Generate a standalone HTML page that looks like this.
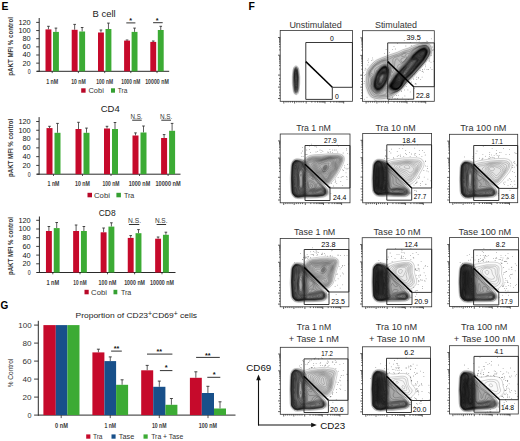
<!DOCTYPE html>
<html><head><meta charset="utf-8"><style>
html,body{margin:0;padding:0;background:#fff;width:520px;height:441px;overflow:hidden}
svg{display:block}
text{font-family:"Liberation Sans", sans-serif}
</style></head><body>
<svg width="520" height="441" viewBox="0 0 520 441">
<defs>
<filter id="bl" x="-20%" y="-20%" width="140%" height="140%"><feGaussianBlur stdDeviation="0.6"/></filter>
<filter id="bl2" x="-30%" y="-30%" width="160%" height="160%"><feGaussianBlur stdDeviation="1.2"/></filter>
</defs>
<rect width="520" height="441" fill="#fff"/>
<line x1="39.20" y1="18.00" x2="39.20" y2="71.80" stroke="#2a2a2a" stroke-width="1.0"/>
<line x1="37.00" y1="71.30" x2="169.20" y2="71.30" stroke="#2a2a2a" stroke-width="1.0"/>
<line x1="36.20" y1="71.30" x2="39.20" y2="71.30" stroke="#2a2a2a" stroke-width="0.9"/>
<text x="27.80" y="73.70" font-size="6.8" font-weight="normal" fill="#151515" textLength="2.90" lengthAdjust="spacingAndGlyphs">0</text>
<line x1="36.20" y1="63.15" x2="39.20" y2="63.15" stroke="#2a2a2a" stroke-width="0.9"/>
<text x="22.50" y="65.55" font-size="6.8" font-weight="normal" fill="#151515" textLength="8.20" lengthAdjust="spacingAndGlyphs">20</text>
<line x1="36.20" y1="55.00" x2="39.20" y2="55.00" stroke="#2a2a2a" stroke-width="0.9"/>
<text x="22.50" y="57.40" font-size="6.8" font-weight="normal" fill="#151515" textLength="8.20" lengthAdjust="spacingAndGlyphs">40</text>
<line x1="36.20" y1="46.85" x2="39.20" y2="46.85" stroke="#2a2a2a" stroke-width="0.9"/>
<text x="22.50" y="49.25" font-size="6.8" font-weight="normal" fill="#151515" textLength="8.20" lengthAdjust="spacingAndGlyphs">60</text>
<line x1="36.20" y1="38.70" x2="39.20" y2="38.70" stroke="#2a2a2a" stroke-width="0.9"/>
<text x="22.50" y="41.10" font-size="6.8" font-weight="normal" fill="#151515" textLength="8.20" lengthAdjust="spacingAndGlyphs">80</text>
<line x1="36.20" y1="30.55" x2="39.20" y2="30.55" stroke="#2a2a2a" stroke-width="0.9"/>
<text x="18.40" y="32.95" font-size="6.8" font-weight="normal" fill="#151515" textLength="12.30" lengthAdjust="spacingAndGlyphs">100</text>
<line x1="36.20" y1="22.40" x2="39.20" y2="22.40" stroke="#2a2a2a" stroke-width="0.9"/>
<text x="18.40" y="24.80" font-size="6.8" font-weight="normal" fill="#151515" textLength="12.30" lengthAdjust="spacingAndGlyphs">120</text>
<line x1="48.45" y1="26.30" x2="48.45" y2="29.40" stroke="#333" stroke-width="0.8"/>
<line x1="47.15" y1="26.30" x2="49.75" y2="26.30" stroke="#333" stroke-width="0.9"/>
<rect x="45.50" y="29.40" width="5.90" height="41.90" fill="#c60a2b"/>
<line x1="55.95" y1="28.10" x2="55.95" y2="31.90" stroke="#333" stroke-width="0.8"/>
<line x1="54.65" y1="28.10" x2="57.25" y2="28.10" stroke="#333" stroke-width="0.9"/>
<rect x="53.00" y="31.90" width="5.90" height="39.40" fill="#3cab34"/>
<line x1="52.20" y1="71.30" x2="52.20" y2="73.10" stroke="#2a2a2a" stroke-width="0.8"/>
<text x="46.15" y="83.60" font-size="7.4" font-weight="bold" fill="#3a3a3a" textLength="12.10" lengthAdjust="spacingAndGlyphs">1 nM</text>
<line x1="74.65" y1="24.40" x2="74.65" y2="29.80" stroke="#333" stroke-width="0.8"/>
<line x1="73.35" y1="24.40" x2="75.95" y2="24.40" stroke="#333" stroke-width="0.9"/>
<rect x="71.70" y="29.80" width="5.90" height="41.50" fill="#c60a2b"/>
<line x1="82.15" y1="27.50" x2="82.15" y2="31.50" stroke="#333" stroke-width="0.8"/>
<line x1="80.85" y1="27.50" x2="83.45" y2="27.50" stroke="#333" stroke-width="0.9"/>
<rect x="79.20" y="31.50" width="5.90" height="39.80" fill="#3cab34"/>
<line x1="78.40" y1="71.30" x2="78.40" y2="73.10" stroke="#2a2a2a" stroke-width="0.8"/>
<text x="71.15" y="83.60" font-size="7.4" font-weight="bold" fill="#3a3a3a" textLength="14.50" lengthAdjust="spacingAndGlyphs">10 nM</text>
<line x1="100.95" y1="30.00" x2="100.95" y2="32.50" stroke="#333" stroke-width="0.8"/>
<line x1="99.65" y1="30.00" x2="102.25" y2="30.00" stroke="#333" stroke-width="0.9"/>
<rect x="98.00" y="32.50" width="5.90" height="38.80" fill="#c60a2b"/>
<line x1="108.45" y1="23.10" x2="108.45" y2="29.00" stroke="#333" stroke-width="0.8"/>
<line x1="107.15" y1="23.10" x2="109.75" y2="23.10" stroke="#333" stroke-width="0.9"/>
<rect x="105.50" y="29.00" width="5.90" height="42.30" fill="#3cab34"/>
<line x1="104.70" y1="71.30" x2="104.70" y2="73.10" stroke="#2a2a2a" stroke-width="0.8"/>
<text x="96.35" y="83.60" font-size="7.4" font-weight="bold" fill="#3a3a3a" textLength="16.70" lengthAdjust="spacingAndGlyphs">100 nM</text>
<line x1="127.05" y1="40.00" x2="127.05" y2="40.60" stroke="#333" stroke-width="0.8"/>
<line x1="125.75" y1="40.00" x2="128.35" y2="40.00" stroke="#333" stroke-width="0.9"/>
<rect x="124.10" y="40.60" width="5.90" height="30.70" fill="#c60a2b"/>
<line x1="134.55" y1="28.10" x2="134.55" y2="31.90" stroke="#333" stroke-width="0.8"/>
<line x1="133.25" y1="28.10" x2="135.85" y2="28.10" stroke="#333" stroke-width="0.9"/>
<rect x="131.60" y="31.90" width="5.90" height="39.40" fill="#3cab34"/>
<line x1="130.80" y1="71.30" x2="130.80" y2="73.10" stroke="#2a2a2a" stroke-width="0.8"/>
<text x="121.20" y="83.60" font-size="7.4" font-weight="bold" fill="#3a3a3a" textLength="19.20" lengthAdjust="spacingAndGlyphs">1000 nM</text>
<line x1="153.25" y1="41.00" x2="153.25" y2="41.90" stroke="#333" stroke-width="0.8"/>
<line x1="151.95" y1="41.00" x2="154.55" y2="41.00" stroke="#333" stroke-width="0.9"/>
<rect x="150.30" y="41.90" width="5.90" height="29.40" fill="#c60a2b"/>
<line x1="160.75" y1="26.30" x2="160.75" y2="30.00" stroke="#333" stroke-width="0.8"/>
<line x1="159.45" y1="26.30" x2="162.05" y2="26.30" stroke="#333" stroke-width="0.9"/>
<rect x="157.80" y="30.00" width="5.90" height="41.30" fill="#3cab34"/>
<line x1="157.00" y1="71.30" x2="157.00" y2="73.10" stroke="#2a2a2a" stroke-width="0.8"/>
<text x="145.20" y="83.60" font-size="7.4" font-weight="bold" fill="#3a3a3a" textLength="23.60" lengthAdjust="spacingAndGlyphs">10000 nM</text>
<text x="92.60" y="16.60" font-size="8.6" font-weight="normal" fill="#1a1a1a" textLength="23.00" lengthAdjust="spacingAndGlyphs">B cell</text>
<text x="129.20" y="23.30" font-size="8.0" font-weight="bold" fill="#111" textLength="2.80" lengthAdjust="spacingAndGlyphs">*</text>
<line x1="126.30" y1="22.90" x2="135.40" y2="22.90" stroke="#333" stroke-width="1.0"/>
<text x="155.70" y="23.40" font-size="8.0" font-weight="bold" fill="#111" textLength="2.80" lengthAdjust="spacingAndGlyphs">*</text>
<line x1="153.10" y1="22.70" x2="162.70" y2="22.70" stroke="#333" stroke-width="1.0"/>
<rect x="81.20" y="88.30" width="4.40" height="4.40" fill="#b80828"/>
<rect x="111.00" y="88.30" width="4.00" height="4.40" fill="#35a032"/>
<text x="88.50" y="93.00" font-size="7.0" font-weight="normal" fill="#333" textLength="15.30" lengthAdjust="spacingAndGlyphs">Cobi</text>
<text x="117.70" y="93.00" font-size="7.0" font-weight="normal" fill="#333" textLength="9.60" lengthAdjust="spacingAndGlyphs">Tra</text>
<text transform="translate(12.50,75.80) rotate(-90)" x="0" y="0" font-size="6.4" font-weight="bold" fill="#333" textLength="58.70" lengthAdjust="spacingAndGlyphs">pAKT MFI % control</text>
<line x1="39.10" y1="117.10" x2="39.10" y2="174.70" stroke="#2a2a2a" stroke-width="1.0"/>
<line x1="37.00" y1="174.20" x2="180.50" y2="174.20" stroke="#2a2a2a" stroke-width="1.0"/>
<line x1="36.20" y1="174.20" x2="39.10" y2="174.20" stroke="#2a2a2a" stroke-width="0.9"/>
<text x="27.80" y="176.60" font-size="6.8" font-weight="normal" fill="#151515" textLength="2.90" lengthAdjust="spacingAndGlyphs">0</text>
<line x1="36.20" y1="165.42" x2="39.10" y2="165.42" stroke="#2a2a2a" stroke-width="0.9"/>
<text x="22.50" y="167.82" font-size="6.8" font-weight="normal" fill="#151515" textLength="8.20" lengthAdjust="spacingAndGlyphs">20</text>
<line x1="36.20" y1="156.63" x2="39.10" y2="156.63" stroke="#2a2a2a" stroke-width="0.9"/>
<text x="22.50" y="159.03" font-size="6.8" font-weight="normal" fill="#151515" textLength="8.20" lengthAdjust="spacingAndGlyphs">40</text>
<line x1="36.20" y1="147.85" x2="39.10" y2="147.85" stroke="#2a2a2a" stroke-width="0.9"/>
<text x="22.50" y="150.25" font-size="6.8" font-weight="normal" fill="#151515" textLength="8.20" lengthAdjust="spacingAndGlyphs">60</text>
<line x1="36.20" y1="139.07" x2="39.10" y2="139.07" stroke="#2a2a2a" stroke-width="0.9"/>
<text x="22.50" y="141.47" font-size="6.8" font-weight="normal" fill="#151515" textLength="8.20" lengthAdjust="spacingAndGlyphs">80</text>
<line x1="36.20" y1="130.28" x2="39.10" y2="130.28" stroke="#2a2a2a" stroke-width="0.9"/>
<text x="18.40" y="132.68" font-size="6.8" font-weight="normal" fill="#151515" textLength="12.30" lengthAdjust="spacingAndGlyphs">100</text>
<line x1="36.20" y1="121.50" x2="39.10" y2="121.50" stroke="#2a2a2a" stroke-width="0.9"/>
<text x="18.40" y="123.90" font-size="6.8" font-weight="normal" fill="#151515" textLength="12.30" lengthAdjust="spacingAndGlyphs">120</text>
<line x1="49.50" y1="126.30" x2="49.50" y2="128.10" stroke="#333" stroke-width="0.8"/>
<line x1="48.20" y1="126.30" x2="50.80" y2="126.30" stroke="#333" stroke-width="0.9"/>
<rect x="46.50" y="128.10" width="6.00" height="46.10" fill="#c60a2b"/>
<line x1="57.50" y1="123.40" x2="57.50" y2="132.80" stroke="#333" stroke-width="0.8"/>
<line x1="56.20" y1="123.40" x2="58.80" y2="123.40" stroke="#333" stroke-width="0.9"/>
<rect x="54.50" y="132.80" width="6.00" height="41.40" fill="#3cab34"/>
<line x1="53.50" y1="174.20" x2="53.50" y2="176.00" stroke="#2a2a2a" stroke-width="0.8"/>
<text x="47.55" y="186.30" font-size="7.4" font-weight="bold" fill="#3a3a3a" textLength="11.90" lengthAdjust="spacingAndGlyphs">1 nM</text>
<line x1="78.50" y1="122.30" x2="78.50" y2="129.00" stroke="#333" stroke-width="0.8"/>
<line x1="77.20" y1="122.30" x2="79.80" y2="122.30" stroke="#333" stroke-width="0.9"/>
<rect x="75.50" y="129.00" width="6.00" height="45.20" fill="#c60a2b"/>
<line x1="86.50" y1="128.10" x2="86.50" y2="132.80" stroke="#333" stroke-width="0.8"/>
<line x1="85.20" y1="128.10" x2="87.80" y2="128.10" stroke="#333" stroke-width="0.9"/>
<rect x="83.50" y="132.80" width="6.00" height="41.40" fill="#3cab34"/>
<line x1="82.50" y1="174.20" x2="82.50" y2="176.00" stroke="#2a2a2a" stroke-width="0.8"/>
<text x="75.05" y="186.30" font-size="7.4" font-weight="bold" fill="#3a3a3a" textLength="14.90" lengthAdjust="spacingAndGlyphs">10 nM</text>
<line x1="107.00" y1="126.30" x2="107.00" y2="128.50" stroke="#333" stroke-width="0.8"/>
<line x1="105.70" y1="126.30" x2="108.30" y2="126.30" stroke="#333" stroke-width="0.9"/>
<rect x="104.00" y="128.50" width="6.00" height="45.70" fill="#c60a2b"/>
<line x1="115.00" y1="122.50" x2="115.00" y2="129.00" stroke="#333" stroke-width="0.8"/>
<line x1="113.70" y1="122.50" x2="116.30" y2="122.50" stroke="#333" stroke-width="0.9"/>
<rect x="112.00" y="129.00" width="6.00" height="45.20" fill="#3cab34"/>
<line x1="111.00" y1="174.20" x2="111.00" y2="176.00" stroke="#2a2a2a" stroke-width="0.8"/>
<text x="102.50" y="186.30" font-size="7.4" font-weight="bold" fill="#3a3a3a" textLength="17.00" lengthAdjust="spacingAndGlyphs">100 nM</text>
<line x1="135.50" y1="132.90" x2="135.50" y2="135.50" stroke="#333" stroke-width="0.8"/>
<line x1="134.20" y1="132.90" x2="136.80" y2="132.90" stroke="#333" stroke-width="0.9"/>
<rect x="132.50" y="135.50" width="6.00" height="38.70" fill="#c60a2b"/>
<line x1="143.50" y1="126.00" x2="143.50" y2="132.50" stroke="#333" stroke-width="0.8"/>
<line x1="142.20" y1="126.00" x2="144.80" y2="126.00" stroke="#333" stroke-width="0.9"/>
<rect x="140.50" y="132.50" width="6.00" height="41.70" fill="#3cab34"/>
<line x1="139.50" y1="174.20" x2="139.50" y2="176.00" stroke="#2a2a2a" stroke-width="0.8"/>
<text x="128.80" y="186.30" font-size="7.4" font-weight="bold" fill="#3a3a3a" textLength="21.40" lengthAdjust="spacingAndGlyphs">1000 nM</text>
<line x1="164.10" y1="134.60" x2="164.10" y2="138.00" stroke="#333" stroke-width="0.8"/>
<line x1="162.80" y1="134.60" x2="165.40" y2="134.60" stroke="#333" stroke-width="0.9"/>
<rect x="161.10" y="138.00" width="6.00" height="36.20" fill="#c60a2b"/>
<line x1="172.10" y1="123.40" x2="172.10" y2="130.80" stroke="#333" stroke-width="0.8"/>
<line x1="170.80" y1="123.40" x2="173.40" y2="123.40" stroke="#333" stroke-width="0.9"/>
<rect x="169.10" y="130.80" width="6.00" height="43.40" fill="#3cab34"/>
<line x1="168.10" y1="174.20" x2="168.10" y2="176.00" stroke="#2a2a2a" stroke-width="0.8"/>
<text x="155.45" y="186.30" font-size="7.4" font-weight="bold" fill="#3a3a3a" textLength="25.30" lengthAdjust="spacingAndGlyphs">10000 nM</text>
<text x="100.70" y="112.10" font-size="8.6" font-weight="normal" fill="#1a1a1a" textLength="19.00" lengthAdjust="spacingAndGlyphs">CD4</text>
<text x="130.50" y="118.70" font-size="6.6" font-weight="normal" fill="#333" textLength="12.10" lengthAdjust="spacingAndGlyphs">N.S.</text>
<line x1="132.20" y1="120.20" x2="141.70" y2="120.20" stroke="#333" stroke-width="1.0"/>
<text x="159.90" y="118.70" font-size="6.6" font-weight="normal" fill="#333" textLength="12.40" lengthAdjust="spacingAndGlyphs">N.S.</text>
<line x1="161.30" y1="120.20" x2="171.00" y2="120.20" stroke="#333" stroke-width="1.0"/>
<rect x="87.50" y="192.80" width="4.50" height="4.50" fill="#b80828"/>
<rect x="116.40" y="192.80" width="4.50" height="4.50" fill="#35a032"/>
<text x="94.00" y="197.60" font-size="7.0" font-weight="normal" fill="#333" textLength="15.90" lengthAdjust="spacingAndGlyphs">Cobi</text>
<text x="123.90" y="197.60" font-size="7.0" font-weight="normal" fill="#333" textLength="10.40" lengthAdjust="spacingAndGlyphs">Tra</text>
<text transform="translate(13.00,177.00) rotate(-90)" x="0" y="0" font-size="6.4" font-weight="bold" fill="#333" textLength="58.30" lengthAdjust="spacingAndGlyphs">pAKT MFI % control</text>
<line x1="39.40" y1="216.50" x2="39.40" y2="273.00" stroke="#2a2a2a" stroke-width="1.0"/>
<line x1="37.00" y1="272.50" x2="175.50" y2="272.50" stroke="#2a2a2a" stroke-width="1.0"/>
<line x1="36.20" y1="272.50" x2="39.40" y2="272.50" stroke="#2a2a2a" stroke-width="0.9"/>
<text x="27.80" y="274.90" font-size="6.8" font-weight="normal" fill="#151515" textLength="2.90" lengthAdjust="spacingAndGlyphs">0</text>
<line x1="36.20" y1="263.80" x2="39.40" y2="263.80" stroke="#2a2a2a" stroke-width="0.9"/>
<text x="22.50" y="266.20" font-size="6.8" font-weight="normal" fill="#151515" textLength="8.20" lengthAdjust="spacingAndGlyphs">20</text>
<line x1="36.20" y1="255.10" x2="39.40" y2="255.10" stroke="#2a2a2a" stroke-width="0.9"/>
<text x="22.50" y="257.50" font-size="6.8" font-weight="normal" fill="#151515" textLength="8.20" lengthAdjust="spacingAndGlyphs">40</text>
<line x1="36.20" y1="246.40" x2="39.40" y2="246.40" stroke="#2a2a2a" stroke-width="0.9"/>
<text x="22.50" y="248.80" font-size="6.8" font-weight="normal" fill="#151515" textLength="8.20" lengthAdjust="spacingAndGlyphs">60</text>
<line x1="36.20" y1="237.70" x2="39.40" y2="237.70" stroke="#2a2a2a" stroke-width="0.9"/>
<text x="22.50" y="240.10" font-size="6.8" font-weight="normal" fill="#151515" textLength="8.20" lengthAdjust="spacingAndGlyphs">80</text>
<line x1="36.20" y1="229.00" x2="39.40" y2="229.00" stroke="#2a2a2a" stroke-width="0.9"/>
<text x="18.40" y="231.40" font-size="6.8" font-weight="normal" fill="#151515" textLength="12.30" lengthAdjust="spacingAndGlyphs">100</text>
<line x1="36.20" y1="220.30" x2="39.40" y2="220.30" stroke="#2a2a2a" stroke-width="0.9"/>
<text x="18.40" y="222.70" font-size="6.8" font-weight="normal" fill="#151515" textLength="12.30" lengthAdjust="spacingAndGlyphs">120</text>
<line x1="48.90" y1="226.50" x2="48.90" y2="231.00" stroke="#333" stroke-width="0.8"/>
<line x1="47.60" y1="226.50" x2="50.20" y2="226.50" stroke="#333" stroke-width="0.9"/>
<rect x="45.95" y="231.00" width="5.90" height="41.50" fill="#c60a2b"/>
<line x1="56.70" y1="222.50" x2="56.70" y2="228.10" stroke="#333" stroke-width="0.8"/>
<line x1="55.40" y1="222.50" x2="58.00" y2="222.50" stroke="#333" stroke-width="0.9"/>
<rect x="53.75" y="228.10" width="5.90" height="44.40" fill="#3cab34"/>
<line x1="52.80" y1="272.50" x2="52.80" y2="274.30" stroke="#2a2a2a" stroke-width="0.8"/>
<text x="46.40" y="284.60" font-size="7.4" font-weight="bold" fill="#3a3a3a" textLength="12.80" lengthAdjust="spacingAndGlyphs">1 nM</text>
<line x1="76.10" y1="225.00" x2="76.10" y2="231.00" stroke="#333" stroke-width="0.8"/>
<line x1="74.80" y1="225.00" x2="77.40" y2="225.00" stroke="#333" stroke-width="0.9"/>
<rect x="73.15" y="231.00" width="5.90" height="41.50" fill="#c60a2b"/>
<line x1="83.90" y1="226.50" x2="83.90" y2="231.00" stroke="#333" stroke-width="0.8"/>
<line x1="82.60" y1="226.50" x2="85.20" y2="226.50" stroke="#333" stroke-width="0.9"/>
<rect x="80.95" y="231.00" width="5.90" height="41.50" fill="#3cab34"/>
<line x1="80.00" y1="272.50" x2="80.00" y2="274.30" stroke="#2a2a2a" stroke-width="0.8"/>
<text x="73.30" y="284.60" font-size="7.4" font-weight="bold" fill="#3a3a3a" textLength="13.40" lengthAdjust="spacingAndGlyphs">10 nM</text>
<line x1="103.60" y1="228.00" x2="103.60" y2="232.30" stroke="#333" stroke-width="0.8"/>
<line x1="102.30" y1="228.00" x2="104.90" y2="228.00" stroke="#333" stroke-width="0.9"/>
<rect x="100.65" y="232.30" width="5.90" height="40.20" fill="#c60a2b"/>
<line x1="111.40" y1="222.80" x2="111.40" y2="226.60" stroke="#333" stroke-width="0.8"/>
<line x1="110.10" y1="222.80" x2="112.70" y2="222.80" stroke="#333" stroke-width="0.9"/>
<rect x="108.45" y="226.60" width="5.90" height="45.90" fill="#3cab34"/>
<line x1="107.50" y1="272.50" x2="107.50" y2="274.30" stroke="#2a2a2a" stroke-width="0.8"/>
<text x="98.60" y="284.60" font-size="7.4" font-weight="bold" fill="#3a3a3a" textLength="17.80" lengthAdjust="spacingAndGlyphs">100 nM</text>
<line x1="130.70" y1="235.60" x2="130.70" y2="237.90" stroke="#333" stroke-width="0.8"/>
<line x1="129.40" y1="235.60" x2="132.00" y2="235.60" stroke="#333" stroke-width="0.9"/>
<rect x="127.75" y="237.90" width="5.90" height="34.60" fill="#c60a2b"/>
<line x1="138.50" y1="229.60" x2="138.50" y2="233.20" stroke="#333" stroke-width="0.8"/>
<line x1="137.20" y1="229.60" x2="139.80" y2="229.60" stroke="#333" stroke-width="0.9"/>
<rect x="135.55" y="233.20" width="5.90" height="39.30" fill="#3cab34"/>
<line x1="134.60" y1="272.50" x2="134.60" y2="274.30" stroke="#2a2a2a" stroke-width="0.8"/>
<text x="124.20" y="284.60" font-size="7.4" font-weight="bold" fill="#3a3a3a" textLength="20.80" lengthAdjust="spacingAndGlyphs">1000 nM</text>
<line x1="158.10" y1="237.00" x2="158.10" y2="238.70" stroke="#333" stroke-width="0.8"/>
<line x1="156.80" y1="237.00" x2="159.40" y2="237.00" stroke="#333" stroke-width="0.9"/>
<rect x="155.15" y="238.70" width="5.90" height="33.80" fill="#c60a2b"/>
<line x1="165.90" y1="232.20" x2="165.90" y2="234.80" stroke="#333" stroke-width="0.8"/>
<line x1="164.60" y1="232.20" x2="167.20" y2="232.20" stroke="#333" stroke-width="0.9"/>
<rect x="162.95" y="234.80" width="5.90" height="37.70" fill="#3cab34"/>
<line x1="162.00" y1="272.50" x2="162.00" y2="274.30" stroke="#2a2a2a" stroke-width="0.8"/>
<text x="150.05" y="284.60" font-size="7.4" font-weight="bold" fill="#3a3a3a" textLength="23.90" lengthAdjust="spacingAndGlyphs">10000 nM</text>
<text x="98.70" y="215.70" font-size="8.6" font-weight="normal" fill="#1a1a1a" textLength="16.90" lengthAdjust="spacingAndGlyphs">CD8</text>
<text x="128.00" y="222.80" font-size="6.6" font-weight="normal" fill="#333" textLength="13.00" lengthAdjust="spacingAndGlyphs">N.S.</text>
<line x1="128.90" y1="224.50" x2="139.30" y2="224.50" stroke="#333" stroke-width="1.0"/>
<text x="154.90" y="222.80" font-size="6.6" font-weight="normal" fill="#333" textLength="12.60" lengthAdjust="spacingAndGlyphs">N.S.</text>
<line x1="156.60" y1="224.50" x2="166.10" y2="224.50" stroke="#333" stroke-width="1.0"/>
<rect x="84.50" y="289.80" width="4.20" height="4.50" fill="#b80828"/>
<rect x="113.50" y="289.80" width="3.80" height="4.50" fill="#35a032"/>
<text x="91.10" y="294.60" font-size="7.0" font-weight="normal" fill="#333" textLength="15.80" lengthAdjust="spacingAndGlyphs">Cobi</text>
<text x="120.90" y="294.60" font-size="7.0" font-weight="normal" fill="#333" textLength="10.40" lengthAdjust="spacingAndGlyphs">Tra</text>
<text transform="translate(13.00,275.00) rotate(-90)" x="0" y="0" font-size="6.4" font-weight="bold" fill="#333" textLength="57.90" lengthAdjust="spacingAndGlyphs">pAKT MFI % control</text>
<line x1="38.30" y1="320.80" x2="38.30" y2="415.60" stroke="#2a2a2a" stroke-width="1.0"/>
<line x1="38.00" y1="415.10" x2="235.50" y2="415.10" stroke="#2a2a2a" stroke-width="1.0"/>
<line x1="34.10" y1="415.10" x2="38.30" y2="415.10" stroke="#2a2a2a" stroke-width="0.9"/>
<text x="27.60" y="417.70" font-size="7.2" font-weight="normal" fill="#333" textLength="4.00" lengthAdjust="spacingAndGlyphs">0</text>
<line x1="34.10" y1="397.10" x2="38.30" y2="397.10" stroke="#2a2a2a" stroke-width="0.9"/>
<text x="22.60" y="399.70" font-size="7.2" font-weight="normal" fill="#333" textLength="9.00" lengthAdjust="spacingAndGlyphs">20</text>
<line x1="34.10" y1="379.10" x2="38.30" y2="379.10" stroke="#2a2a2a" stroke-width="0.9"/>
<text x="22.60" y="381.70" font-size="7.2" font-weight="normal" fill="#333" textLength="9.00" lengthAdjust="spacingAndGlyphs">40</text>
<line x1="34.10" y1="361.10" x2="38.30" y2="361.10" stroke="#2a2a2a" stroke-width="0.9"/>
<text x="22.60" y="363.70" font-size="7.2" font-weight="normal" fill="#333" textLength="9.00" lengthAdjust="spacingAndGlyphs">60</text>
<line x1="34.10" y1="343.10" x2="38.30" y2="343.10" stroke="#2a2a2a" stroke-width="0.9"/>
<text x="22.60" y="345.70" font-size="7.2" font-weight="normal" fill="#333" textLength="9.00" lengthAdjust="spacingAndGlyphs">80</text>
<line x1="34.10" y1="325.10" x2="38.30" y2="325.10" stroke="#2a2a2a" stroke-width="0.9"/>
<text x="18.30" y="327.70" font-size="7.2" font-weight="normal" fill="#333" textLength="13.30" lengthAdjust="spacingAndGlyphs">100</text>
<rect x="43.40" y="325.10" width="12.40" height="90.00" fill="#c60a2b"/>
<rect x="55.80" y="325.10" width="11.60" height="90.00" fill="#18508a"/>
<rect x="67.40" y="325.10" width="12.10" height="90.00" fill="#3cab34"/>
<line x1="61.20" y1="415.10" x2="61.20" y2="418.10" stroke="#2a2a2a" stroke-width="0.8"/>
<line x1="98.40" y1="349.20" x2="98.40" y2="352.40" stroke="#333" stroke-width="0.8"/>
<line x1="96.90" y1="349.20" x2="99.90" y2="349.20" stroke="#333" stroke-width="0.9"/>
<rect x="92.40" y="352.40" width="12.00" height="62.70" fill="#c60a2b"/>
<line x1="110.25" y1="356.90" x2="110.25" y2="361.10" stroke="#333" stroke-width="0.8"/>
<line x1="108.75" y1="356.90" x2="111.75" y2="356.90" stroke="#333" stroke-width="0.9"/>
<rect x="104.40" y="361.10" width="11.70" height="54.00" fill="#18508a"/>
<line x1="122.10" y1="379.80" x2="122.10" y2="384.80" stroke="#333" stroke-width="0.8"/>
<line x1="120.60" y1="379.80" x2="123.60" y2="379.80" stroke="#333" stroke-width="0.9"/>
<rect x="116.10" y="384.80" width="12.00" height="30.30" fill="#3cab34"/>
<line x1="110.25" y1="415.10" x2="110.25" y2="418.10" stroke="#2a2a2a" stroke-width="0.8"/>
<line x1="147.20" y1="365.40" x2="147.20" y2="370.30" stroke="#333" stroke-width="0.8"/>
<line x1="145.70" y1="365.40" x2="148.70" y2="365.40" stroke="#333" stroke-width="0.9"/>
<rect x="141.20" y="370.30" width="12.00" height="44.80" fill="#c60a2b"/>
<line x1="159.30" y1="381.10" x2="159.30" y2="386.80" stroke="#333" stroke-width="0.8"/>
<line x1="157.80" y1="381.10" x2="160.80" y2="381.10" stroke="#333" stroke-width="0.9"/>
<rect x="153.20" y="386.80" width="12.20" height="28.30" fill="#18508a"/>
<line x1="171.40" y1="398.50" x2="171.40" y2="404.80" stroke="#333" stroke-width="0.8"/>
<line x1="169.90" y1="398.50" x2="172.90" y2="398.50" stroke="#333" stroke-width="0.9"/>
<rect x="165.40" y="404.80" width="12.00" height="10.30" fill="#3cab34"/>
<line x1="159.30" y1="415.10" x2="159.30" y2="418.10" stroke="#2a2a2a" stroke-width="0.8"/>
<line x1="195.85" y1="371.80" x2="195.85" y2="377.80" stroke="#333" stroke-width="0.8"/>
<line x1="194.35" y1="371.80" x2="197.35" y2="371.80" stroke="#333" stroke-width="0.9"/>
<rect x="189.90" y="377.80" width="11.90" height="37.30" fill="#c60a2b"/>
<line x1="207.90" y1="386.30" x2="207.90" y2="393.00" stroke="#333" stroke-width="0.8"/>
<line x1="206.40" y1="386.30" x2="209.40" y2="386.30" stroke="#333" stroke-width="0.9"/>
<rect x="201.80" y="393.00" width="12.20" height="22.10" fill="#18508a"/>
<line x1="220.00" y1="401.80" x2="220.00" y2="408.50" stroke="#333" stroke-width="0.8"/>
<line x1="218.50" y1="401.80" x2="221.50" y2="401.80" stroke="#333" stroke-width="0.9"/>
<rect x="214.00" y="408.50" width="12.00" height="6.60" fill="#3cab34"/>
<line x1="208.00" y1="415.10" x2="208.00" y2="418.10" stroke="#2a2a2a" stroke-width="0.8"/>
<text x="55.00" y="427.60" font-size="7.4" font-weight="bold" fill="#3a3a3a" textLength="12.90" lengthAdjust="spacingAndGlyphs">0 nM</text>
<text x="104.40" y="427.60" font-size="7.4" font-weight="bold" fill="#3a3a3a" textLength="11.60" lengthAdjust="spacingAndGlyphs">1 nM</text>
<text x="151.90" y="427.60" font-size="7.4" font-weight="bold" fill="#3a3a3a" textLength="14.60" lengthAdjust="spacingAndGlyphs">10 nM</text>
<text x="198.70" y="427.60" font-size="7.4" font-weight="bold" fill="#3a3a3a" textLength="18.20" lengthAdjust="spacingAndGlyphs">100 nM</text>
<text x="113.80" y="350.70" font-size="8.0" font-weight="bold" fill="#111" textLength="5.60" lengthAdjust="spacingAndGlyphs">**</text>
<line x1="111.10" y1="351.10" x2="121.80" y2="351.10" stroke="#333" stroke-width="1.0"/>
<text x="156.40" y="353.70" font-size="8.0" font-weight="bold" fill="#111" textLength="5.60" lengthAdjust="spacingAndGlyphs">**</text>
<line x1="147.00" y1="354.10" x2="172.40" y2="354.10" stroke="#333" stroke-width="1.0"/>
<text x="164.75" y="370.40" font-size="8.0" font-weight="bold" fill="#111" textLength="2.90" lengthAdjust="spacingAndGlyphs">*</text>
<line x1="159.90" y1="370.60" x2="172.40" y2="370.60" stroke="#333" stroke-width="1.0"/>
<text x="205.00" y="357.90" font-size="8.0" font-weight="bold" fill="#111" textLength="5.60" lengthAdjust="spacingAndGlyphs">**</text>
<line x1="196.10" y1="357.40" x2="219.80" y2="357.40" stroke="#333" stroke-width="1.0"/>
<text x="212.85" y="377.40" font-size="8.0" font-weight="bold" fill="#111" textLength="2.90" lengthAdjust="spacingAndGlyphs">*</text>
<line x1="207.30" y1="377.30" x2="220.30" y2="377.30" stroke="#333" stroke-width="1.0"/>
<text x="75.5" y="318.4" font-size="7.9" fill="#222" textLength="121.6" lengthAdjust="spacingAndGlyphs">Proportion of CD23<tspan font-size="6.4" dy="-2.6">+</tspan><tspan dy="2.6">CD69</tspan><tspan font-size="6.4" dy="-2.6">+</tspan><tspan dy="2.6"> cells</tspan></text>
<rect x="86.20" y="434.40" width="4.20" height="4.30" fill="#c60a2b"/>
<text x="92.90" y="438.90" font-size="6.8" font-weight="normal" fill="#333" textLength="9.60" lengthAdjust="spacingAndGlyphs">Tra</text>
<rect x="111.50" y="434.40" width="4.10" height="4.30" fill="#18508a"/>
<text x="118.80" y="438.90" font-size="6.8" font-weight="normal" fill="#333" textLength="15.40" lengthAdjust="spacingAndGlyphs">Tase</text>
<rect x="143.50" y="434.40" width="4.20" height="4.30" fill="#3cab34"/>
<text x="151.20" y="438.90" font-size="6.8" font-weight="normal" fill="#333" textLength="32.10" lengthAdjust="spacingAndGlyphs">Tra + Tase</text>
<text transform="translate(13.4,387.3) rotate(-90)" font-size="6.6" fill="#333" textLength="28.6" lengthAdjust="spacingAndGlyphs">% Control</text>
<text x="1.40" y="9.50" font-size="10.4" font-weight="bold" fill="#000">E</text>
<text x="248.40" y="9.50" font-size="10.4" font-weight="bold" fill="#000">F</text>
<text x="0.50" y="308.60" font-size="10.0" font-weight="bold" fill="#000">G</text>
<path d="M298.2,80.3C298.2,81.5 298.2,82.7 298.1,83.8C298.1,84.9 298.0,86.0 297.9,87.0C297.8,88.1 297.7,89.0 297.6,89.8C297.4,90.7 297.3,91.4 297.1,92.0C296.9,92.6 296.8,93.0 296.6,93.3C296.4,93.6 296.2,93.8 296.0,93.8C295.8,93.8 295.6,93.6 295.4,93.3C295.2,93.0 295.1,92.6 294.9,92.0C294.7,91.4 294.6,90.7 294.4,89.8C294.3,89.0 294.2,88.1 294.1,87.0C294.0,86.0 293.9,84.9 293.9,83.8C293.8,82.7 293.8,81.5 293.8,80.3C293.8,79.1 293.8,77.9 293.9,76.8C293.9,75.7 294.0,74.6 294.1,73.5C294.2,72.5 294.3,71.6 294.4,70.8C294.6,69.9 294.7,69.2 294.9,68.6C295.1,68.0 295.2,67.6 295.4,67.3C295.6,67.0 295.8,66.8 296.0,66.8C296.2,66.8 296.4,67.0 296.6,67.3C296.8,67.6 296.9,68.0 297.1,68.6C297.3,69.2 297.4,69.9 297.6,70.8C297.7,71.6 297.8,72.5 297.9,73.5C298.0,74.6 298.1,75.7 298.1,76.8C298.2,77.9 298.2,79.1 298.2,80.3Z" fill="#000" fill-opacity="0.68" filter="url(#bl2)"/>
<path d="M295 66.2l.9-.3 1 .2 1.5 1.8 .6 2.3 .8 6.6-.1 7.2-.7 6.6-.9 2.7-.9 1-1 .4-1.6-.7-1.1-2.1-1.2-8.2 0-7.6 .7-5.9 .8-2.7 1.2-1.3M295.4 66.9l1.5 .1 1 1.5 1.2 8.6-.1 6.9-.7 6.3-.8 2.3-1.3 1.1-1.3-.6-.8-1.8-1.1-8.3 0-6.9 .7-5.9 .7-2.3 1-1M295.2 67.5l1.3-.2 1.1 1.5 1.1 8-.1 6.9-.5 5.6-.7 2.6-1.2 1.2-1-.4-.8-1.7-1-7.6-.1-6.6 .4-4 .6-3.6 .9-1.7M295.3 67.9l.6-.3 .6 .1 .8 1.1 1.2 8-.5 11.5-.8 3.3-1 1.1-1-.5-.6-1.6-.9-7.6-.1-6.2 .3-3.7 .5-3.6 .9-1.6M295.4 68.2l.5-.3 .6 .2 .7 1.2 1 7.8-.5 11.2-.6 2.7-.9 1.2-.7-.3-.7-1.6-.9-8.3 .2-8.9 .5-3.3 .8-1.6M295.4 68.5l.8-.2 .8 1.2 1 7.6-.5 10.9-.5 2.6-.8 1.2-.7-.4-.6-1.8-.8-8.9 .2-7.6 .5-3.3 .6-1.3M295.5 68.8l.7-.2 .7 .9 1 7.6-.6 10.9-.4 2.3-.7 1-.7-.5-.5-2.5-.8-10.2 .3-5.6 .4-2.3 .6-1.4M295.5 69.2l.7-.3 .7 1.3 .8 6.9-.6 10.6-.3 1.9-.6 1.1-.7-.6-.3-1.5-.9-11.2 .3-4.6 .9-3.6M295.5 69.5l.7-.2 .5 .9 .8 6.6-.6 11.2-.7 2-.4-.4-.4-1.6-.9-10.6 .3-4.6 .7-3.3M295.9 69.5l.3 .1 .4 .9 .8 6.6-.7 10.6-.5 1.5-.3-.2-.3-1.3-1-10.9 .3-4.3 .4-2 .6-1M295.8 69.8l.4 .1 .4 .9 .7 6.3-.2 3-.9 5.1-1-3-.5-5.4 .3-4.3 .8-2.7M296.1 86l.1 2-.3-1 .2-1M295.7 70.5l.2-.3 .3 .2 .3 1 .7 5.7-.3 3.4-.4 1.2-.6 .8-.7-1.8-.4-3.9 .3-4 .6-2.3M295.9 71.2l.6 1.7 .4 3.9-.4 2.9-.6 .7-.6-1.7-.2-2.3 .2-3.3 .6-1.9M295.8 73.1l.4 .7 .2 2.3-.2 1.5-.3 .2-.4-1.7 .3-3" fill="none" stroke="#000" stroke-opacity="0.55" stroke-width="0.35" stroke-linejoin="round"/>

<rect x="280.20" y="30.40" width="72.20" height="70.90" fill="none" stroke="#333" stroke-width="0.8"/>
<path d="M278.0 37.5h2.2M278.0 55.2h2.2M278.0 75.1h2.2M278.0 87.1h2.2M278.0 98.5h2.2M279.0 49.9h1.2M279.0 46.8h1.2M279.0 44.5h1.2M279.0 42.8h1.2M279.0 41.4h1.2M279.0 40.2h1.2M279.0 39.2h1.2M279.0 38.3h1.2M279.0 69.1h1.2M279.0 65.6h1.2M279.0 63.1h1.2M279.0 61.2h1.2M279.0 59.6h1.2M279.0 58.3h1.2M279.0 57.1h1.2M279.0 56.1h1.2M279.0 78.6h1.2M279.0 81.4h1.2M279.0 84.3h1.2M279.0 90.0h1.2M279.0 92.8h1.2M279.0 95.6h1.2M283.8 101.3v2.2M294.6 101.3v2.2M306.2 101.3v2.2M325.0 101.3v2.2M343.7 101.3v2.2M311.8 101.3v1.3M315.1 101.3v1.3M317.5 101.3v1.3M319.3 101.3v1.3M320.8 101.3v1.3M322.1 101.3v1.3M323.1 101.3v1.3M324.1 101.3v1.3M330.6 101.3v1.3M333.9 101.3v1.3M336.3 101.3v1.3M338.1 101.3v1.3M339.6 101.3v1.3M340.8 101.3v1.3M341.9 101.3v1.3M342.9 101.3v1.3M286.0 101.3v1.3M288.1 101.3v1.3M290.3 101.3v1.3M292.5 101.3v1.3M296.8 101.3v1.3M299.0 101.3v1.3M301.1 101.3v1.3M303.3 101.3v1.3" stroke="#222" stroke-width="0.7" fill="none"/>
<path d="M305.80,42.50L352.40,42.50L352.40,87.30L332.30,87.30M305.80,42.50L305.80,99.40L332.30,99.40L332.30,87.30" fill="none" stroke="#222" stroke-width="0.9"/>
<line x1="305.80" y1="61.60" x2="332.30" y2="87.30" stroke="#000" stroke-width="1.5"/>
<text x="330.10" y="41.23" font-size="7.2" font-weight="normal" fill="#000" textLength="3.80" lengthAdjust="spacingAndGlyphs">0</text>
<text x="335.10" y="98.98" font-size="7.2" font-weight="normal" fill="#000" textLength="3.80" lengthAdjust="spacingAndGlyphs">0</text>
<text x="289.40" y="28.20" font-size="9.0" font-weight="normal" fill="#333" textLength="52.40" lengthAdjust="spacingAndGlyphs">Unstimulated</text>
<path d="M387.0,80.7C386.5,81.8 386.0,82.9 385.5,83.9C384.9,84.9 384.3,85.8 383.7,86.7C383.1,87.5 382.4,88.3 381.8,88.9C381.1,89.5 380.5,90.0 379.8,90.4C379.2,90.8 378.6,91.0 378.0,91.1C377.4,91.2 376.9,91.1 376.4,90.9C375.9,90.7 375.5,90.4 375.1,89.9C374.8,89.5 374.5,88.8 374.3,88.1C374.1,87.4 373.9,86.6 373.9,85.7C373.9,84.8 373.9,83.8 374.1,82.8C374.2,81.7 374.4,80.6 374.7,79.5C375.0,78.5 375.4,77.3 375.8,76.3C376.3,75.2 376.8,74.1 377.3,73.1C377.9,72.1 378.5,71.2 379.1,70.3C379.7,69.5 380.4,68.7 381.0,68.1C381.7,67.5 382.3,67.0 383.0,66.6C383.6,66.2 384.2,66.0 384.8,65.9C385.4,65.8 385.9,65.9 386.4,66.1C386.9,66.3 387.3,66.6 387.7,67.1C388.0,67.5 388.3,68.2 388.5,68.9C388.7,69.6 388.9,70.4 388.9,71.3C388.9,72.2 388.9,73.2 388.7,74.2C388.6,75.3 388.4,76.4 388.1,77.5C387.8,78.5 387.4,79.7 387.0,80.7Z" fill="#000" fill-opacity="0.65" filter="url(#bl2)"/>
<path d="M389.0,87.0C388.2,85.5 390.3,82.5 392.0,80.0C393.7,77.5 396.5,75.0 399.0,72.0C401.5,69.0 404.5,65.0 407.0,62.0C409.5,59.0 411.8,56.2 414.0,54.0C416.2,51.8 418.0,50.1 420.0,49.0C422.0,47.9 424.7,47.0 426.0,47.5C427.3,48.0 428.3,49.9 428.0,52.0C427.7,54.1 426.2,57.0 424.0,60.0C421.8,63.0 418.0,66.7 415.0,70.0C412.0,73.3 409.0,76.8 406.0,80.0C403.0,83.2 399.8,87.8 397.0,89.0C394.2,90.2 389.8,88.5 389.0,87.0Z" fill="#000" fill-opacity="0.68" filter="url(#bl2)"/>
<path d="M401.3,83.0C401.5,83.4 401.6,83.7 401.6,84.1C401.6,84.4 401.5,84.9 401.3,85.3C401.2,85.6 401.0,86.1 400.7,86.5C400.4,86.9 400.0,87.3 399.6,87.7C399.2,88.0 398.8,88.4 398.3,88.7C397.8,89.1 397.2,89.4 396.7,89.6C396.1,89.9 395.6,90.1 395.0,90.3C394.4,90.4 393.8,90.6 393.3,90.6C392.7,90.7 392.2,90.7 391.7,90.7C391.2,90.6 390.8,90.5 390.4,90.4C390.0,90.2 389.6,90.0 389.3,89.8C389.0,89.6 388.8,89.3 388.7,89.0C388.5,88.6 388.4,88.3 388.4,87.9C388.4,87.6 388.5,87.1 388.7,86.7C388.8,86.4 389.0,85.9 389.3,85.5C389.6,85.1 390.0,84.7 390.4,84.3C390.8,84.0 391.2,83.6 391.7,83.3C392.2,82.9 392.8,82.6 393.3,82.4C393.9,82.1 394.4,81.9 395.0,81.7C395.6,81.6 396.2,81.4 396.7,81.4C397.3,81.3 397.8,81.3 398.3,81.3C398.8,81.4 399.2,81.5 399.6,81.6C400.0,81.8 400.4,82.0 400.7,82.2C401.0,82.4 401.2,82.7 401.3,83.0Z" fill="#000" fill-opacity="0.40" filter="url(#bl2)"/>
<path d="M371.0,97.0C368.7,94.8 366.5,90.5 366.0,86.0C365.5,81.5 366.3,74.2 368.0,70.0C369.7,65.8 372.7,63.3 376.0,61.0C379.3,58.7 384.0,57.5 388.0,56.0C392.0,54.5 396.0,53.5 400.0,52.0C404.0,50.5 408.0,48.5 412.0,47.0C416.0,45.5 420.8,43.3 424.0,43.0C427.2,42.7 429.8,43.2 431.0,45.0C432.2,46.8 432.2,51.0 431.0,54.0C429.8,57.0 427.2,59.2 424.0,63.0C420.8,66.8 415.8,72.7 412.0,77.0C408.2,81.3 404.5,85.7 401.0,89.0C397.5,92.3 394.5,95.3 391.0,97.0C387.5,98.7 383.3,99.0 380.0,99.0C376.7,99.0 373.3,99.2 371.0,97.0Z" fill="#000" fill-opacity="0.25" filter="url(#bl2)"/>
<path d="M383.9,79.5C383.7,80.0 383.5,80.5 383.2,80.9C383.0,81.4 382.7,81.8 382.4,82.2C382.2,82.5 381.9,82.9 381.6,83.2C381.3,83.4 381.0,83.7 380.7,83.8C380.4,84.0 380.1,84.1 379.9,84.2C379.6,84.2 379.4,84.2 379.1,84.1C378.9,84.0 378.7,83.8 378.6,83.6C378.4,83.4 378.3,83.2 378.2,82.8C378.1,82.5 378.0,82.1 378.0,81.7C378.0,81.3 378.0,80.9 378.1,80.4C378.2,80.0 378.3,79.5 378.4,79.0C378.5,78.5 378.7,78.0 378.9,77.5C379.1,77.0 379.3,76.5 379.6,76.1C379.8,75.6 380.1,75.2 380.4,74.8C380.6,74.5 380.9,74.1 381.2,73.8C381.5,73.6 381.8,73.3 382.1,73.2C382.4,73.0 382.7,72.9 382.9,72.8C383.2,72.8 383.4,72.8 383.7,72.9C383.9,73.0 384.1,73.2 384.2,73.4C384.4,73.6 384.5,73.8 384.6,74.2C384.7,74.5 384.8,74.9 384.8,75.3C384.8,75.7 384.8,76.1 384.7,76.6C384.6,77.0 384.5,77.5 384.4,78.0C384.3,78.5 384.1,79.0 383.9,79.5Z" fill="#fff" fill-opacity="0.30" filter="url(#bl2)"/>
<path d="M401.4,74.9C401.1,74.3 402.0,73.1 402.6,72.1C403.3,71.1 404.4,70.1 405.4,68.9C406.4,67.7 407.6,66.1 408.6,64.9C409.6,63.7 410.6,62.6 411.4,61.7C412.3,60.9 413.1,60.2 413.9,59.7C414.7,59.3 415.7,58.9 416.2,59.1C416.8,59.3 417.2,60.1 417.1,60.9C416.9,61.8 416.3,62.9 415.4,64.1C414.6,65.3 413.1,66.8 411.9,68.1C410.7,69.5 409.4,70.9 408.2,72.1C407.1,73.4 405.8,75.3 404.6,75.7C403.5,76.2 401.8,75.5 401.4,74.9Z" fill="#fff" fill-opacity="0.30" filter="url(#bl2)"/>
<path d="M423.3 43.1l2.1 0 2.3 .5 1.6 .9 1.2 1.2 .8 2 .4 3-.1 2.3-.5 1.6-5.3 7.9-11.5 13.6-6.1 6.2-5.5 6.6-9.7 7.6-2.9 1.3-10.9 1.2-6.3-1.3-2.3-1.3-1.8-2.8-2.7-7 .3-12.2 .5-2.9 1-2.4 5.4-6.6 2.9-2.2 4.3-1.9 10.2-3.9 6.7-2.2 5.5-2.6 5.3-1.5 5.9-2.7 5.3-1.6 3.9-.8M422.1 44.7l3.9 0 1.7 .6 1.2 1.1 .9 2 .6 2.6 0 2-.5 1.6-4.8 7.6-11.6 13.5-6.3 6.3-5.3 6.6-2.3 1.9-7.6 4.8-2.3 .9-10.5 1.1-5.6-1.2-2-1.2-2.3-4.5-1.4-3.8 0-1.9 .5-4.3-.6-6.6 .4-2 .9-2 5.1-6 2.7-2.1 3.9-1.9 17.5-6 5.6-2.8 5-1.1 5.9-3 7.3-2.2M422.4 45.4l3.6 0 1.3 .5 1.1 1.1 1 2 .6 2.3-.1 1.7-.7 2-4.2 6.9-11.7 13.5-6.1 6-5.7 7.2-3.5 2.5-6 3-1.9 .6-10.3 1.4-4.6-1.2-2.3-1.3-2.2-4-1-2.6 0-2 1-5.3-.2-1-1.5-3-.3-1.9 .3-1.7 .8-1.6 4.4-5.3 3.3-2.6 4-2 2.6-.8 5.3-.8 4.4-2.4 5.2-1.5 4.9-2.9 5.3-.5 4.9-3.4 5-2 3.3-.9M422 45.7l3.7-.2 1.3 .5 1.2 1 1 2 .6 2.3-.1 1.7-.6 2-4.3 6.9-11.7 13.5-6.2 6.1-5.6 7.1-3.7 2.6-6.6 2.6-1.3-.1-1.1-.5-2.5-3-.4 .7 .9 1.7-.3 1-1.6 1-2.7 .6-2.2-.1-3.9-1.3-2.7-1.8-1.8-2.7-.8-2.7 1.1-8.9-2.1-2.3-.3-2 1-2.7 4.2-5.2 2.7-2 4.1-2.3 2.8-.8 3 .1 1.3 .4 .7 .7 .6 2.6 2 4.1 .7 .5 .5-1 .2-1.6-.3-6.3 .3-1 .8-1 1.4-.6 3.7-1 4.9-3.3 1.7-.3 2.6 .9 .7-.1 5.2-4.6 4.3-2.1 3.6-1.1M405.9 56.8l-4.8 2.1-.3 1.3 .7 1.7 .8 .3 .6-.2 2-1.7 1.7-2.7 0-.8-.7 0M422.7 45.7l3.3 0 1.3 .7 1 1.1 .9 1.8 .5 2.4-.1 1.6-.8 2-4.1 6.6-11.7 13.5-6.1 6-6 7.5-3.3 2.2-5.9 2.2-1.3-.1-1.3-.8-3-3.8-3.6 4.5-3.7 .5-1.9-.1-2-.7-1.7-1.4-1.5-2.5-.7-2.9 1.3-9.6-.4-.5-1.6-.8-.6-1.7 .9-2.5 3.9-4.9 2.4-1.8 4.8-2.6 2.4-.7 2.3 .3 .9 .7 2.9 4.3 1 2.6 .8 3.7 .4 .2 1.9-4.2 .6-6.9 .9-2.4 .9-.3 .9 .1 1 .9 2 2.7 1 .4 1-.4 3-2.6 3.4-5.4 4.2-4.6 4.9-2.9 4.6-1.4M403.9 53.6l1-.1 1 .4 .3 .7-.3 .7-2 1.2-2.1 .1-.3-.7 .3-.6 2.1-1.7M424 45.7l1.7 .1 1.3 .6 1.8 2.3 .8 3.6-1.1 3.3-3.9 6.3-11.5 13.2-6.2 6.1-6 7.5-3.6 2.4-5.3 1.8-1.6-.3-1.7-1.2-1.1-1.5-1.2-2.3-3.3 3.5-3.3 1.7-3.3 .2-1.6-.7-1.4-1-1.4-2.4-.8-3.3 1.8-10.8-.5-.9-1.7-.3-.2-.8 .9-2 3.3-4.3 1.6-1.2 6.3-3.1 1.6-.1 2 .9 2.6 2.2 1.5 2.6 .7 3.3-.2 5 0 .4 .4-.1 5.3-7.7 1.6-3.8 3.3-1.2 2.6-1.9 9-11.2 2-1.6 3.2-1.8 5.6-1.5M423.7 46l1.7 .1 1.3 .4 1.2 1.2 .9 1.6 .5 3.3-1.4 3.7-3.6 5.6-11.4 13.2-6.3 6.1-6 7.6-3.9 2.4-3 .9-2 .1-1.6-.6-1.6-1.3-.8-1.4-.6-2.5-.3-.3-3.7 4.2-3.3 1.9-1.6 .3-1.7 0-1.6-.7-1.3-1.2-1.5-3-.2-3.6 3-14.2 1-1.6 7.2-4.3 2.3-.2 2.3 1 1.9 2.1 .9 3 .2 3.3-.6 5 .3 .5 9.4-12.1 6.1-5.9 7.3-9.1 2.3-2 2.9-1.8 5.3-1.7M422.4 46.7l2.6-.3 1.7 .6 1.2 1.4 1 2.6 0 1.6-.4 1.7-3.7 6.6-12 13.9-6.2 5.9-4.6 6.3-1.7 1.8-2.7 1.7-3.3 1-2.3 .1-1.9-.9-1.4-1.3-.7-1.4-.2-1.7 .4-2 1.4-2.9 4.7-7 6.8-8.2 5.8-6 6.3-7.9 4.9-3.9 4.3-1.7M383.9 64.5l1.9 0 1.6 .7 1.4 1.3 .8 1.7 .5 2.6 .1 2.3-1.3 7.6-1.7 3.3-2.9 4.3-1.5 1.6-3.6 1.9-1.7 .2-1.3-.2-1.3-.7-1.2-1.2-1.2-2.9-.1-3.3 1-4.7 2-6.6 1.3-2.6 3.5-3.3 2.3-1.5 1.4-.5M422.9 47l2.1-.1 1.7 .7 1.2 1.7 .7 2.4-.2 1.6-.6 1.7-3.4 5.9-12.1 13.9-6.1 5.8-4.3 6-1.9 2-2.4 1.6-2.9 .8-2.3 0-2-.9-1.8-2.1-.2-1.4 .2-1.6 2-4 4.1-6.2 6.8-8.3 6-6.3 6-7.5 5.3-4.1 4.1-1.6M383.5 65.2l1.6-.3 1.7 .4 1.4 1.2 1 1.7 .4 1.9 .1 2.7-1.2 6.9-1.6 3.6-3.8 5.7-3.3 2.1-1.6 .4-1.7-.1-2-1.2-1.4-2.6-.3-2.9 .7-4.3 2.1-7 1.5-2.9 2.7-3.1 3.7-2.2M423.2 47.4l1.8-.1 1.4 .5 1.1 1.5 .7 2.4-.6 2.9-3.6 6.3-11.8 13.6-6.3 5.9-4.1 5.9-1.8 2.1-2.4 1.5-2.6 .7-2.6-.2-2-1-1.4-2.1 .1-2.3 2.2-4.3 3.9-5.9 6.9-8.3 5.8-5.9 5.9-7.6 5.3-4.2 4.1-1.4M383.9 65.5l1.5-.1 1.7 .6 1.1 1.2 .7 1.3 .4 4.3-1.2 6.9-1.9 4-3.4 5-3.3 2-1.7 .4-1.3-.2-2-1.4-1.1-2.5-.1-3 .8-4.3 2-6.3 1.3-2.6 3.1-3.4 3.4-1.9M423.3 47.7l1.7-.1 1.4 .7 1.1 1.7 .4 2-.8 3-3.4 5.8-11.9 13.6-5.9 5.4-4.4 6.5-1.8 2-2.4 1.5-2.3 .5-2.3-.2-2-1.1-1.3-1.7 .1-2.3 5.9-9.9 6.9-8.2 5.9-6 5.8-7.6 5.1-4 4.2-1.6M384 65.8l1.4-.1 1.4 .5 1 1 .8 1.6 .3 4-1.2 6.9-1.9 4-3.3 4.8-3 1.8-1.7 .4-1.3-.2-1.7-1.2-1.1-2.7-.1-2.9 .8-4 2.1-6.3 1.4-2.6 2.9-3.2 3.2-1.8M423.2 48l1.5-.1 1.3 .6 1.1 1.5 .5 2-.8 3-3.3 5.6-11.8 13.5-6.1 5.6-4.1 6.3-1.9 2.1-2 1.3-2.3 .6-2.3-.2-2-1.1-1.2-1.7 .1-2 5.9-9.9 6.8-8 6.2-6.2 5.3-7.3 5-4 4.1-1.6M383.9 66.2l1.5-.1 1.4 .5 .9 1 .7 1.5 .2 3.7-1.2 6.9-1.9 4-3.2 4.6-2.8 1.7-2.6 .2-1.9-1.3-1-2.3-.1-2.9 .7-3.7 2.1-6.2 1.3-2.7 2.8-3.1 3.1-1.8M423 48.4l1.7-.2 1.1 .5 1 1.3 .5 2-.8 3-3.1 5.3-12 13.8-6 5.3-3.9 6.2-1.9 2.3-2 1.3-1.9 .5-2.3-.2-2-1-1.3-1.5 .1-2 5.8-9.8 6.6-7.6 6.6-6.4 3.3-5.3 1.7-1.9 4.9-4 3.9-1.6M383.7 66.5l1.4-.2 1.3 .4 1 .9 .7 1.5 .2 3.3-1.3 7.3-1.6 3.4-3.3 4.9-2.6 1.6-2.6 .3-1.7-1.2-1-2.4 0-2.6 .6-3.3 2.2-6.6 1.1-2.3 2.7-3.2 2.9-1.8M422.4 48.7l1.6-.3 1.4 .3 1 1 .7 2-.6 2.9-3.1 5.5-12.2 14-6 5.1-3.8 6.4-1.8 2.1-2 1.4-1.9 .5-2.3-.3-2-1-1.1-1.7 .1-1.6 5.6-9.6 6.9-7.9 6.6-5.9 3-5.3 1.9-2.3 4.7-3.8 3.3-1.5M384.5 66.5l1.3 .1 1 .6 .8 1 .5 1.6 0 2.9-1.4 7.3-1.9 3.8-2.9 4.2-2.4 1.4-2.6 .2-1.7-1.3-.8-2.3 0-3 .8-3.2 2.1-6.4 1.3-2.3 2.9-3.1 1.6-1.1 1.4-.4M382.5 75.1l-1.4 .8-1 1.5-.1 2 .7 1 1.4-1 1.4-2.3 0-1.7-1-.3M422.9 48.7l1.5-.2 1.3 .5 .9 1.3 .5 1.7-.9 3-3.1 5.2-11.9 13.7-6 5.1-1.6 2.3-2.3 4.3-1.7 2-2 1.4-1.9 .5-2.1-.2-1.9-1-1.3-1.7 .2-1.6 5.6-9.6 7.1-8 5.9-4.8 .7-.3 .3 .2-.4 1.7-1.7 3 .1 .6 .7-.2 1.4-2.4 2.6-3-.3-.6-1.8 .1-.2-.5 .8-2.6 1.8-3 1.9-2.1 3.5-2.8 2.1-1.3 2.2-.7M383.7 66.8l1.4-.2 1.3 .4 .8 .8 .6 1.3 .2 3-1.3 7.6-1.6 3.3-3.3 4.9-2.4 1.4-2.5 .1-1.5-1.1-.9-2.1 0-2.5 .7-3.3 2.3-7 1-1.9 2.5-3 2.7-1.7M382.1 74.6l-1.6 1.3-1 1.8 0 2.6 .7 1.4 .9-.3 1-1 2.1-3.7 0-1-.4-.9-.7-.3-1 .1M423.4 48.7l1.3 0 1.2 .6 .8 1.4 .2 1.6-.9 2.9-2.9 4.9-11.9 13.7-6 4.9-1.8 2.7-1.9 3.9-2 2.3-1.9 1.3-1.9 .5-2-.2-2-1-1.1-1.6 .1-1.6 5.6-9.6 7-7.8 4.2-3.2 .7-.2 .1 .3-1.2 3.3-.1 1.3 .9 .3 1.3-.8 4.7-6.7-.1-.8-2-.3-.5-.6 .5-1.9 1.5-2.7 1.8-2 3.7-2.9 2.3-1.3 2.3-.7M384 66.8l1.4-.1 1 .4 .9 1.1 .5 1.3 0 2.9-1.4 7.6-1.6 3.3-3 4.4-2.6 1.5-2.3 .1-1.4-1-.9-2.3 0-2.3 .6-3.1 2.3-6.9 1.1-2.2 2.5-3 2.9-1.7M382.1 74.3l-1.9 1.4-1 2 0 3.3 .3 1 .7 .4 .9-.3 1-1 2.5-4.4 0-1.3-.5-.8-1-.5-1 .2M422.5 49l1.5-.3 1.4 .4 1 1.1 .4 1.8-.8 2.9-2.9 5.1-12.1 13.8-5.8 4.7-1.7 2.5-2.1 4.3-1.8 2.2-1.6 1.2-2 .6-2-.1-2-.9-1.3-1.7 .1-1.6 5.6-9.6 6.5-7.2 3-2.3 1-.1-.8 3.7 .1 1.1 1.3-.1 2-1.5 5.3-7.4-.3-1-2.7-.7 .1-1.3 1.1-2.3 1.8-2.2 2.9-2.4 2.4-1.7 2.4-1M384.5 66.8l1.3 .1 .9 .6 1.1 2.3-.1 2.4-1.5 8.2-3 5.2-1.5 2-2.5 1.5-2.3 0-1-.7-.7-1-.6-3.1 .6-3.3 2.4-7.2 1.1-2.3 1.9-2.4 2.1-1.6 1.8-.7M382.1 74l-2.2 1.7-1.1 2 0 3.7 .4 .9 .6 .5 1.2-.1 1.1-1 2.9-5 0-1.3-.5-1-1-.5-1.4 .1M422.9 49l1.5-.1 1.1 .4 .9 1.2 .3 1.5-.7 2.7-2.9 5.1-12.3 14-5.7 4.6-1.8 2.6-2 4.3-1.7 2.1-1.6 1.2-2 .7-2-.2-2-1-1.1-1.5 .1-1.6 5.6-9.6 6-6.7 2.6-2 .7-.2 .3 .7-1.3 5.3 1-.2 3.7-2.8 5.9-8.3-.2-1-3.1-.7 0-1.2 .9-2 2-2.3 3.2-2.7 2.1-1.4 2.5-.9M383.6 67.2l1.2-.3 1.3 .3 1 1 .5 1.3 0 2.6-1.1 3.6-.4 4.3-1 2.2-3.3 5.1-2.3 1.5-2.3 .2-1.3-.8-1-1.9-.1-2.3 .4-2.6 3.5-9.6 2.4-3 2.5-1.6M382.1 73.7l-2.3 1.7-1.2 2 0 4.3 .4 1 .8 .6 1.3-.3 1.2-1 3.3-5.6-.1-1-.9-1.3-1.1-.5-1.4 .1M423.4 49l1.3 0 1 .6 .8 1.4 .1 1.3-.9 2.9-3 4.8-12 13.8-5.5 4.3-1.8 2.6-2.1 4.6-2 2.3-1.7 1.1-1.9 .5-2-.3-1.7-.9-1-1.4 .1-1.6 3-4.6 2.6-5 5.9-6.5 2.3-1.7 .7 .1 0 .9-2.2 5.6 .2 .9 1-.1 5.3-5 5.5-7.4 .6-1.3-.5-1-3-.7 0-1.3 1-2 1.7-1.9 3.7-3 2.2-1.3 2.3-.7M383.9 67.2l1.9 0 1.4 1.3 .4 2.3-.5 2.8-1 1.4-1.5-1.2-1.5-.5-1.3 .4-1.6 1.1-1.9 2.3 0 4.3 .9 1.9 1 .3 .9-.3 1.6-1.3 3.1-4.6 .3 1-.3 2-3 5.4-1.3 1.7-2 1.2-2.3 .2-1.4-.9-.8-2-.1-2.3 .6-3 1.8-4 .6-2.9 .9-2.1 2.4-2.9 2.7-1.6M422.4 49.3l1.6-.2 1.1 .2 .9 1 .5 1.7-.8 3-3 4.9-12.1 13.9-5.4 3.9-1.9 2.9-1.9 4.4-1.8 2.3-1.8 1.3-1.8 .5-2-.2-1.8-.9-1.1-1.4 .1-1.6 3.1-4.6 2.5-5 5.8-6.3 2-1.4 .5 .5-.2 .9-2.2 5.3 .9 1 1.3-.4 5.7-5.9 5.6-7.5 .3-1-.4-.8-3.4-.9 .1-1.3 .8-1.7 1.8-1.9 2.8-2.3 2.2-1.5 2-.9M384.4 67.2l1.7 .2 1.1 1.4 .3 2.7-.7 2.2-.7 .6-2-1-1.6-.1-1.7 .8-2.7 2.1-.2-.7 .3-2 1.3-2.5 2.3-2.5 2.6-1.2M377.2 78.1l.3-.2 .2 .5 .6 4.3 .5 .7 1 .5 1.3-.2 1.1-.7 2.9-4.1 .3-.3 .4 .4-.7 2.4-3.1 5.2-1.5 1.5-2 .7-1.3-.1-1-.6-.8-1.1-.4-1.7 .5-4.1 1.7-3.1M422.9 49.3l1.5-.1 1 .5 .7 1 .3 1.6-1 3-2.7 4.4-12.2 14-1.6 1.4-3.7 2.2-2.1 3.4-1.8 4.3-1.8 2.3-1.9 1.3-1.6 .5-2-.2-1.7-.9-1-1.4 0-1.6 3.1-4.6 1.3-3 1.2-2 5.7-6 1.6-1 .3 .4-.1 .7-2.1 4.9 .3 .8 1 .7 1-.1 .6-.4 2.1-2.6 3.5-3.5 5.7-7.7 .3-1-.4-1-2.9-.6-.5-.4 0-1 .8-1.7 1.7-1.9 3.3-2.7 2.2-1.3 1.9-.7M383.6 67.5l1.8-.2 1.5 1.2 .5 2.3-.6 2.4-.7 .6-2.3-.8-1.3 0-4 2.2-.3-.4 .1-1 1.2-2.7 2-2.3 2.1-1.3M376.8 79l.4-.1 .3 .6 .7 3.5 .6 .8 1 .3 1.3-.1 1.4-.7 2.6-3.3-.3 1.3-3 5.3-1.3 1.3-1.7 .6-1.3 .1-1-.5-.7-.8-.6-1.5 .2-3.8 1.4-3M423.6 49.3l1.1 .2 .8 .5 .6 1 .2 1.3-.6 2.2-2.3 4.1-12.9 14.9-2.6 1.9-2 .7 0-.7 1-1.6 4.1-4.3 5.9-8.3 .2-1-.6-1-2.7-.5-.6-.4 .1-1 .7-1.4 1.7-1.9 3.8-3 1.9-1 2.2-.7M383.9 67.5l1.7 0 1.2 1 .4 2-.5 2.3-.9 .5-2-.5-1.3 0-3.3 1.7-.5-.1 .1-1.6 1.3-2.3 2-2 1.8-1M403 69.5l.6-.3 .2 .6-1.6 3.6-.2 1.4 .6 .9 2 .9 .1 .5-3.3 7.6-1.6 2.3-2.2 1.5-1.9 .5-2.3-.5-1.3-.9-.7-1 .2-1.9 3.1-4.3 2.1-4.7 6.2-6.2M376.5 80l.4-.2 .3 .2 .7 3 .9 1.1 1 .3 2.3-.3 .4 .2-.9 2.3-1.8 1.4-1.3 .4-1.3-.2-1-.7-.7-1.1-.1-3.4 1.1-3M422.6 49.7l1.4-.2 1 .3 1.1 1.9-.3 2.3-1.8 3.3-1.6 2.3-9.8 10.9-2.1 2.7-2 1.6-1.6 .5-.2-.5 .8-1.4 3.9-3.9 5.8-8.3 .2-1-.5-1-2.8-.7-.6-.6 .6-2 1.5-1.6 3.2-2.6 3.8-2M384.6 67.5l1.5 .4 .8 1.2 .1 2-.6 1.6-.6 .3-3-.4-3.3 1.3-.5-.1 .2-1.7 1.6-2.3 2-1.6 1.8-.7M402.4 70.5l.5 0 0 .3-1.1 2.6-.1 1.4 .5 .9 1.8 1.4 .1 .6-2.8 7-1.6 2.3-2.1 1.5-1.9 .5-2-.5-1.4-.9-.7-1-.2-1 .4-.9 3.1-4.3 1.1-3 .9-1.7 5.5-5.2M376.3 81l.6-.2 .9 2.5 .7 1 1 .4 2.4 .3-.4 1.3-1.3 1.3-1.4 .5-1.3-.1-1-.5-.6-.9-.5-2.6 .9-3M423.4 49.7l1.6 .3 1 2-.3 2-2 3.5-7.9 9.4-3.6 3.6-2 2.8-1.7 1.2-1 0 1-1.7 3.2-3 5.8-8.6 .1-1.3-.5-.9-3.1-1.1-.2-.6 .6-1.4 1.7-1.9 3.5-2.7 1.8-1 2-.6M383.8 67.8l1.6-.1 1 .8 .5 2-.5 1.7-.6 .4-3.3-.2-3 .9 0-1.2 .9-1.6 1.7-1.7 1.7-1M401.1 72.1l.6 0-.3 2 .2 1.3 2 2.3-2.2 6.6-1.5 2.3-2 1.7-2.2 .6-2-.5-2-1.8-.1-1 .3-.9 3.3-4.3 .9-3 1-1.7 4-3.6M376.2 82l.3-.2 .4 .3 .7 1.6 .9 1 2.6 .8 .1 .5-.6 1-2.1 .8-1.2-.2-.8-.5-.6-1.1-.3-1.3 .6-2.7M422.6 50l1.8-.1 1.2 1.1 .3 1.6-.9 2.4-2.9 4.4-6.6 7.6-2.3 1.7 1.1-2.5 2.9-3.7 .8-1.9-.1-1-.8-1-2.8-1 .1-1.3 1.3-1.7 2.8-2.3 1.9-1.3 2.2-1M384.4 67.8l1 .1 1 .9 .3 1.7-.6 1.5-3.3 .1-3 .7 0-1 1.4-2 1.6-1.3 1.6-.7M410.1 71.8l.4-.3 .3 .3-.6 1-1.7 1 .3-.7 1.3-1.3M400.2 73.1l.7-.1 .4 2.4 1.9 2.3-1.7 6.3-1.4 2.3-2.1 1.9-2 .6-2-.3-1.9-1.5-.3-1 .1-1 3.6-4.6 1.5-4.3 3.2-3M376.4 83l1.8 1.9 2.3 1.1-.2 .6-1.8 .8-1.6-.5-1-1.9 .5-2M422.2 50.3l1.8-.3 1 .6 .7 1.4-.3 1.9-2.7 4.3-5.6 6 1.1-3 0-1.6-1.1-1.3-2.3-.8-.1-1.2 2.9-3 2.6-2 2-1M416.7 64.2l.4 0-1.3 1.9-1 .9-.2-.2 .5-1.1 1.6-1.5M383.8 68.2l1.3-.2 1 .7 .4 1.4-.4 1.4-.7 .4-5.2 .2 .2-1 1-1.3 2.4-1.6M399.6 73.8l.7-.3 .3 .3 .6 1.9 1.6 2-1.3 6-1.2 2.3-2 1.9-2 .8-2-.2-2-1.5-.4-1 .2-1 3.9-5 .5-2.6 .7-1.3 2.4-2.3M376.5 84.7l.4-.2 1.7 1.5 .2 .5-.6 .2-1-.4-.7-.9 0-.7M422.2 50.7l1.5-.3 1 .3 .7 1.2-.1 1.4-2.2 3.9-3.7 3.5-1.3-2.4-2.6-1.2-.2-.8 .9-1.3 1.9-1.7 4.1-2.6M383.7 68.5l1.1-.2 .9 .5 .4 1-.3 1.3-1 .4-3.8 0 .8-1.7 1.9-1.3M399.2 74.4l1 0 1.9 3.3-.7 6-1.2 2.3-1.9 1.8-1.6 .7-2-.1-2.2-1.4-.2-1.7 1.1-1.8 3.1-3.5 .6-3.3 2.1-2.3M422.5 51l1.7 0 .8 1.3-.6 2.3-1.7 2.2-1.3 .8-1.3 .4-3.6-1.7 .4-1 2.1-2 3.5-2.3M384.2 68.8l.6 0 .6 .6-.3 1.2-1.3 .4-1.8-.2 .5-1.1 1.7-.9M398.9 75.1l.9 0 1.6 2.6-.1 6-1 2-2 2-1.6 .7-2-.1-1.9-1.3-.3-1.7 1.3-2 3.6-3.6 0-2.6 1.5-2M422.2 51.7l1.2-.3 .6 .2 .5 .7 0 1-1.4 2.4-1.7 .5-1.6-.8-.4-.8 1-1.6 1.8-1.3M398.8 75.7l.8 .1 .9 1.6 .1 .7-.6 1.3 1.2 2.3-.2 2.3-1.1 2-1.6 1.5-1.6 .8-1.7 0-1.9-1.3-.3-1.7 1.9-2.6 4.1-3.3-.9-2 .3-1 .6-.7M397.6 81.7l1.7-.2 1 .6 .4 1.2-.4 1.4-1.1 1.6-1.6 1.2-1.3 .5-1.3-.3-1.2-1.1 0-1.3 1.5-2.1 2.3-1.5" fill="none" stroke="#000" stroke-opacity="0.55" stroke-width="0.35" stroke-linejoin="round"/>
<circle cx="389.7" cy="99.2" r="0.4" fill="#555"/><circle cx="420.1" cy="70.5" r="0.4" fill="#555"/><circle cx="405.9" cy="100.2" r="0.4" fill="#555"/><circle cx="426.7" cy="41.1" r="0.4" fill="#555"/><circle cx="416.8" cy="77.1" r="0.4" fill="#555"/><circle cx="429.7" cy="60.9" r="0.4" fill="#555"/><circle cx="401.6" cy="90.9" r="0.4" fill="#555"/><circle cx="405.9" cy="46.0" r="0.4" fill="#555"/><circle cx="398.6" cy="95.2" r="0.4" fill="#555"/><circle cx="363.7" cy="72.8" r="0.4" fill="#555"/><circle cx="367.0" cy="97.2" r="0.4" fill="#555"/><circle cx="365.3" cy="68.2" r="0.4" fill="#555"/><circle cx="425.4" cy="64.9" r="0.4" fill="#555"/><circle cx="407.9" cy="89.9" r="0.4" fill="#555"/><circle cx="388.4" cy="100.5" r="0.4" fill="#555"/><circle cx="367.9" cy="60.6" r="0.4" fill="#555"/><circle cx="375.9" cy="100.2" r="0.4" fill="#555"/><circle cx="395.0" cy="98.5" r="0.4" fill="#555"/><circle cx="394.0" cy="46.4" r="0.4" fill="#555"/><circle cx="422.1" cy="77.1" r="0.4" fill="#555"/><circle cx="416.1" cy="84.0" r="0.4" fill="#555"/><circle cx="389.1" cy="99.2" r="0.4" fill="#555"/><circle cx="364.6" cy="81.4" r="0.4" fill="#555"/><circle cx="397.6" cy="43.7" r="0.4" fill="#555"/><circle cx="422.7" cy="69.5" r="0.4" fill="#555"/><circle cx="424.4" cy="69.1" r="0.4" fill="#555"/><circle cx="432.0" cy="69.5" r="0.4" fill="#555"/><circle cx="374.2" cy="99.8" r="0.4" fill="#555"/><circle cx="429.3" cy="58.9" r="0.4" fill="#555"/><circle cx="433.0" cy="49.3" r="0.4" fill="#555"/><circle cx="422.4" cy="71.1" r="0.4" fill="#555"/><circle cx="420.7" cy="79.4" r="0.4" fill="#555"/><circle cx="364.3" cy="99.2" r="0.4" fill="#555"/><circle cx="364.3" cy="75.4" r="0.4" fill="#555"/><circle cx="389.4" cy="52.6" r="0.4" fill="#555"/><circle cx="397.6" cy="98.5" r="0.4" fill="#555"/><circle cx="366.0" cy="69.1" r="0.4" fill="#555"/><circle cx="411.5" cy="82.0" r="0.4" fill="#555"/><circle cx="430.6" cy="67.8" r="0.4" fill="#555"/><circle cx="395.3" cy="49.0" r="0.4" fill="#555"/><circle cx="364.0" cy="83.3" r="0.4" fill="#555"/><circle cx="414.5" cy="88.6" r="0.4" fill="#555"/><circle cx="432.3" cy="47.0" r="0.4" fill="#555"/><circle cx="425.4" cy="66.8" r="0.4" fill="#555"/><circle cx="372.9" cy="59.9" r="0.4" fill="#555"/><circle cx="411.2" cy="45.7" r="0.4" fill="#555"/><circle cx="392.7" cy="49.3" r="0.4" fill="#555"/><circle cx="391.4" cy="99.8" r="0.4" fill="#555"/><circle cx="404.9" cy="95.9" r="0.4" fill="#555"/><circle cx="433.6" cy="61.2" r="0.4" fill="#555"/><circle cx="406.2" cy="86.6" r="0.4" fill="#555"/><circle cx="431.3" cy="38.8" r="0.4" fill="#555"/><circle cx="392.7" cy="97.9" r="0.4" fill="#555"/><circle cx="423.4" cy="72.1" r="0.4" fill="#555"/><circle cx="410.2" cy="91.9" r="0.4" fill="#555"/><circle cx="384.4" cy="53.3" r="0.4" fill="#555"/><circle cx="429.0" cy="60.9" r="0.4" fill="#555"/><circle cx="368.3" cy="58.9" r="0.4" fill="#555"/><circle cx="388.7" cy="100.2" r="0.4" fill="#555"/><circle cx="367.9" cy="64.9" r="0.4" fill="#555"/><circle cx="428.7" cy="69.5" r="0.4" fill="#555"/><circle cx="408.2" cy="99.5" r="0.4" fill="#555"/><circle cx="392.7" cy="97.2" r="0.4" fill="#555"/><circle cx="431.0" cy="62.2" r="0.4" fill="#555"/><circle cx="431.3" cy="55.6" r="0.4" fill="#555"/><circle cx="401.3" cy="91.3" r="0.4" fill="#555"/><circle cx="410.5" cy="42.4" r="0.4" fill="#555"/><circle cx="368.6" cy="62.2" r="0.4" fill="#555"/><circle cx="396.7" cy="95.5" r="0.4" fill="#555"/><circle cx="402.3" cy="97.9" r="0.4" fill="#555"/><circle cx="433.9" cy="50.0" r="0.4" fill="#555"/><circle cx="419.1" cy="41.1" r="0.4" fill="#555"/><circle cx="404.6" cy="89.9" r="0.4" fill="#555"/><circle cx="418.4" cy="78.1" r="0.4" fill="#555"/><circle cx="432.6" cy="50.3" r="0.4" fill="#555"/><circle cx="365.0" cy="70.1" r="0.4" fill="#555"/><circle cx="416.8" cy="40.8" r="0.4" fill="#555"/><circle cx="415.5" cy="83.7" r="0.4" fill="#555"/><circle cx="422.1" cy="71.5" r="0.4" fill="#555"/><circle cx="415.1" cy="84.0" r="0.4" fill="#555"/><circle cx="427.3" cy="41.4" r="0.4" fill="#555"/><circle cx="416.8" cy="79.7" r="0.4" fill="#555"/><circle cx="371.6" cy="60.6" r="0.4" fill="#555"/><circle cx="427.0" cy="69.5" r="0.4" fill="#555"/><circle cx="372.6" cy="57.9" r="0.4" fill="#555"/><circle cx="413.5" cy="79.0" r="0.4" fill="#555"/><circle cx="365.3" cy="74.4" r="0.4" fill="#555"/><circle cx="418.4" cy="77.7" r="0.4" fill="#555"/><circle cx="404.2" cy="40.4" r="0.4" fill="#555"/><circle cx="386.1" cy="49.7" r="0.4" fill="#555"/>
<rect x="362.50" y="30.70" width="71.80" height="70.60" fill="none" stroke="#333" stroke-width="0.8"/>
<path d="M360.3 37.8h2.2M360.3 55.4h2.2M360.3 75.2h2.2M360.3 87.2h2.2M360.3 98.5h2.2M361.3 50.1h1.2M361.3 47.0h1.2M361.3 44.8h1.2M361.3 43.1h1.2M361.3 41.7h1.2M361.3 40.5h1.2M361.3 39.5h1.2M361.3 38.6h1.2M361.3 69.2h1.2M361.3 65.7h1.2M361.3 63.3h1.2M361.3 61.4h1.2M361.3 59.8h1.2M361.3 58.5h1.2M361.3 57.3h1.2M361.3 56.3h1.2M361.3 78.7h1.2M361.3 81.5h1.2M361.3 84.4h1.2M361.3 90.0h1.2M361.3 92.8h1.2M361.3 95.7h1.2M366.1 101.3v2.2M376.9 101.3v2.2M388.3 101.3v2.2M407.0 101.3v2.2M425.7 101.3v2.2M394.0 101.3v1.3M397.3 101.3v1.3M399.6 101.3v1.3M401.4 101.3v1.3M402.9 101.3v1.3M404.1 101.3v1.3M405.2 101.3v1.3M406.2 101.3v1.3M412.6 101.3v1.3M415.9 101.3v1.3M418.3 101.3v1.3M420.1 101.3v1.3M421.5 101.3v1.3M422.8 101.3v1.3M423.9 101.3v1.3M424.8 101.3v1.3M368.2 101.3v1.3M370.4 101.3v1.3M372.6 101.3v1.3M374.7 101.3v1.3M379.0 101.3v1.3M381.2 101.3v1.3M383.3 101.3v1.3M385.5 101.3v1.3" stroke="#222" stroke-width="0.7" fill="none"/>
<path d="M387.70,42.90L434.30,42.90L434.30,86.70L413.70,86.70M387.70,42.90L387.70,99.20L413.70,99.20L413.70,86.70" fill="none" stroke="#222" stroke-width="0.9"/>
<line x1="387.70" y1="61.60" x2="413.70" y2="86.70" stroke="#000" stroke-width="1.5"/>
<text x="406.50" y="40.13" font-size="7.2" font-weight="normal" fill="#000" textLength="14.20" lengthAdjust="spacingAndGlyphs">39.5</text>
<text x="415.90" y="98.38" font-size="7.2" font-weight="normal" fill="#000" textLength="13.80" lengthAdjust="spacingAndGlyphs">22.8</text>
<text x="374.95" y="28.20" font-size="9.0" font-weight="normal" fill="#333" textLength="42.10" lengthAdjust="spacingAndGlyphs">Stimulated</text>
<path d="M293.3,163.7C294.0,160.6 294.9,160.4 296.6,160.0C298.4,159.6 302.4,159.9 303.8,161.1C305.2,162.3 305.0,162.0 305.3,167.4C305.6,172.8 306.2,188.4 305.8,193.3C305.4,198.2 304.6,196.4 303.1,197.0C301.7,197.6 298.9,197.6 297.2,197.0C295.5,196.4 293.8,196.4 293.0,193.3C292.2,190.2 292.2,183.4 292.3,178.5C292.4,173.6 292.6,166.8 293.3,163.7Z" fill="#000" fill-opacity="0.55" filter="url(#bl2)"/>
<path d="M292.8,164.4C293.3,159.1 295.4,160.6 296.0,161.1C296.7,161.6 296.5,162.2 296.6,167.4C296.7,172.6 296.6,187.8 296.6,192.6C296.6,197.4 297.2,196.1 296.6,196.3C296.1,196.4 293.9,198.6 293.3,193.3C292.7,188.0 292.3,169.8 292.8,164.4Z" fill="#000" fill-opacity="0.40" filter="url(#bl2)"/>
<path d="M303.3,167.4C304.1,163.2 304.1,164.5 308.0,168.2C311.9,171.9 324.2,184.9 327.0,189.5C329.8,194.1 328.3,194.2 325.0,195.5C321.7,196.8 310.9,197.4 307.3,197.0C303.7,196.6 304.0,198.2 303.3,193.3C302.6,188.4 302.5,171.6 303.3,167.4Z" fill="#000" fill-opacity="0.34" filter="url(#bl2)"/>
<path d="M298.4,193.0C302.7,191.6 319.4,188.1 324.0,188.5C328.6,188.9 330.3,194.1 326.0,195.5C321.7,196.9 303.0,197.4 298.4,197.0C293.8,196.6 294.1,194.4 298.4,193.0Z" fill="#000" fill-opacity="0.28" filter="url(#bl2)"/>
<path d="M296.4,172.0C296.8,170.5 297.2,170.4 298.1,170.2C299.0,170.0 301.0,170.1 301.7,170.7C302.4,171.3 302.3,171.2 302.4,173.9C302.6,176.6 302.9,184.4 302.7,186.8C302.5,189.3 302.1,188.4 301.4,188.7C300.6,189.0 299.2,189.0 298.4,188.7C297.6,188.4 296.7,188.4 296.3,186.8C295.9,185.3 295.9,181.9 295.9,179.4C296.0,177.0 296.1,173.6 296.4,172.0Z" fill="#fff" fill-opacity="0.40" filter="url(#bl2)"/>
<path d="M303.3,163.0C303.7,160.8 305.7,158.2 309.3,157.0C312.9,155.8 319.4,155.8 324.6,155.5C329.9,155.2 337.9,155.1 341.0,155.5C344.1,155.9 343.4,156.6 343.5,158.0C343.6,159.4 343.2,160.7 341.5,164.0C339.8,167.3 335.4,174.7 333.0,178.0C330.6,181.3 330.0,184.3 327.0,184.0C324.0,183.7 318.3,178.5 315.0,176.2C311.7,173.9 308.9,172.4 307.0,170.2C305.1,168.0 302.9,165.2 303.3,163.0Z" fill="#000" fill-opacity="0.30" filter="url(#bl2)"/>
<path d="M326.4,168.8C326.2,169.0 326.1,169.3 325.9,169.5C325.8,169.7 325.6,169.9 325.4,170.1C325.2,170.3 325.0,170.4 324.8,170.5C324.7,170.6 324.5,170.7 324.3,170.8C324.1,170.9 324.0,170.9 323.8,170.9C323.7,170.9 323.5,170.8 323.4,170.8C323.3,170.7 323.2,170.6 323.1,170.5C323.0,170.3 323.0,170.2 322.9,170.0C322.9,169.8 322.9,169.6 322.9,169.4C322.9,169.2 322.9,168.9 323.0,168.7C323.1,168.5 323.1,168.2 323.2,167.9C323.3,167.7 323.5,167.4 323.6,167.2C323.8,167.0 323.9,166.7 324.1,166.5C324.2,166.3 324.4,166.1 324.6,165.9C324.8,165.7 325.0,165.6 325.2,165.5C325.3,165.4 325.5,165.3 325.7,165.2C325.9,165.1 326.0,165.1 326.2,165.1C326.3,165.1 326.5,165.2 326.6,165.2C326.7,165.3 326.8,165.4 326.9,165.5C327.0,165.7 327.0,165.8 327.1,166.0C327.1,166.2 327.1,166.4 327.1,166.6C327.1,166.8 327.1,167.1 327.0,167.3C326.9,167.5 326.9,167.8 326.8,168.1C326.7,168.3 326.5,168.6 326.4,168.8Z" fill="#000" fill-opacity="0.50" filter="url(#bl2)"/>
<path d="M296.3 158.9l1.9 .1 3.6 .8 2 .6 1.2 .8 .7 1 .9 3.3 .8 1.3 7.3 7.1 11.3 13.1 1.2 1.9 .3 2-.8 3.7-1.1 1.6-2 .8-6.3 .7-6.6 .3-5.3-.2-7.2 .9-3.3-.8-2.5-2.4-1.3-2.6-.5-4-.4-10.8 .7-12.6 .6-2.3 1.3-2.3 1.8-1.5 1.7-.5M295.2 160.2l1.7-.2 2.3 .4 2.9 1 1.7 1.1 1.5 4 2.8 3.8 5.9 4.9 11.5 13.1 .7 1.6 0 1.7-.4 2.3-.9 1.3-2 .9-5.6 .6-12.2 0-6.9 1-2.7-.5-2.3-1.9-1.2-2.1-.5-3.6-.4-11.2 .6-11.9 .3-2.3 .7-1.7 1.2-1.5 1.3-.8M300.8 174.1l-.3 1 .3 1.3 .5-1.3-.1-.9-.4-.1M295.1 160.6l1.4-.3 1.7 .2 3.1 1.1 1.6 .9 .7 1 .8 3 1.7 2.3 1.8 3.3 3.8 2 1.7 1.3 11.1 12.2 1 1.7 .3 1.6-.3 2.7-.9 1.4-1.7 .7-5.6 .7-12.2-.1-6.9 1-2.7-.4-2-1.7-1.2-2-.5-2.9-.4-11.6 .5-12.2 .2-2 .7-1.6 1.1-1.5 1.2-.8M301.2 171.4l-1.4 1-.6 2.7 .8 5.9-.1 4 .6 1.3 .7 .3 .6-.5 .4-1.4 .4-10.3-.4-2.3-1-.7M295.9 160.6l1.3 0 2 .5 3.3 1.8 .5 1 .5 2.6 2 2.6 1.3 3.4 1 1.6 .9 .6 2.7 .2 1.6 1 4.2 4.8 7.2 7.3 .9 1.6 .2 1.7-.3 2.3-.9 1.3-1.7 .6-5.3 .7-12.5-.1-6.6 1-2.7-.4-2.1-1.8-1.1-2-.3-3-.5-11.2 .6-12.5 .3-2 .8-1.7 1.4-1.4 1.3-.5M301.5 170.1l-1 .4-1 1.1-.8 3.2 .7 6.2 0 4.6 .8 1.6 1 .5 .9-.7 .7-2 .1-6.6 .4-4.6-.5-2.7-.7-.8-.6-.2M310.4 183.8l-.5 .9 .5 1.8 .7 .8 1.1 0 .5-1-.3-1.3-1-1-1-.2M295.2 160.9l1.3-.3 1.4 .2 2.7 1.1 1.4 1 .7 1.3 .4 3 2 2.2 1.1 3.4 1.6 2.5 .9 .6 2.7-.3 1.6 .8 3.9 4.6 7.4 7.1 .8 1.5 .3 1.7-.4 2.3-.7 1-1.7 .7-5.3 .7-12.5-.1-6.6 1.1-2.7-.5-1.9-1.6-1.2-2-.3-2.6-.5-11.6 .5-12.2 .8-3.3 1-1.4 1.3-.9M301.5 169.3l-1.3 .9-1 1.4-.7 3.2 .6 5.9 .1 5.2 .6 1.4 1.4 .9 1-.6 .9-2.3 .1-7.2 .6-5-.2-1.6-.7-1.7-.8-.6-.6 .1M309.7 181.6l-.9 .7-.4 1.4 1 3.9 1.3 1.1 2.5-.4 .9-.7 .5-1-.5-2.3-1.7-1.8-2.7-.9M295.4 160.9l1.8-.1 3 1.1 1.5 1 .7 1.3-.2 3.6-2.7 2.7-.7 1.3-.4 2 .6 7.2-.1 4.3 .9 2.4 1 .8 1-.1 1.3-2.1 .4-2.6 .1-6.6 1.2-5 3.9 5.1 1 .1 1.7-.8 1.6 .6 3.4 4.3 7.8 6.9 .8 1.3 .2 1.7-.2 1.9-.9 1.4-1.5 .6-5.3 .7-12.5-.1-6.6 1.1-2.7-.5-1.9-1.5-1.1-2-.4-2.6-.4-11.6 .5-12.2 .8-3.3 1.2-1.6 1.2-.7M309.7 180l-.6 .2-.7 .8-.6 2 .3 2.3 .9 3 .6 .6 1.1 .4 3-.7 1.1-.6 .8-1 .1-1.4-.5-1.9-1.5-1.9-4-1.8M295.7 160.9l1.5 0 2.6 1 1.6 1 .7 1.3-.3 3-2.6 3.5-1 3.1 .6 7.2 0 4.6 1 2.4 1 .8 .7 .1 .9-.6 .7-1.3 .6-3.3 .1-6.7 .7-2.5 .6-.6 1.5 1.5 1.5 3-.7 5.3 1.5 5.2 1.2 .7 1.3 0 3.7-1.3 1.5-1.7 .2-2.9 .5-.4 .7 .2 2.3 1.5 4.3 4 .5 1.3 0 1.6-.4 1.7-.8 1-1.6 .6-5.2 .7-12.6-.2-6.6 1.1-2.4-.4-1.9-1.7-1.1-2.1-.3-2.7-.4-11.2 .5-12.5 .2-1.7 .8-1.6 1.1-1.3 1.3-.7M311.7 178.1l.7-.3 .6 .4 .5 .8-.1 .7-1.6-.7-.1-.9M295.1 161.2l1.4-.3 2.1 .7 2.2 1.3 .8 1.3-.3 2.3-2.5 4.3-.8 3.3 .6 6.9-.1 4.6 .4 1.4 .9 1.5 1 .9 1 0 1.4-1.8 1-3.9 0-6.3 .6-1.7 .6-.2 .9 .9 .7 1.7-.3 5.6 1.7 5.7 .9 .5 1.1 .2 2.9-.5 3.5-1.6 2.2-2.3 .6-.1 3.3 2 1.6 1.7 .4 2.6-.3 1.4-.7 1-1.6 .7-5 .7-12.8-.2-6.6 1.2-2-.3-2-1.5-1.1-1.7-.4-1.6-.5-13.9 .7-12.8 1-2.3 1.5-1.4M295.5 161.2l1.4-.1 1.9 .8 1.5 1 .7 1.3-.3 2.3-2.5 5-.4 2.6 .5 6.9 0 5 .5 1.6 1 1.5 1.4 1 .6 .1 .7-.5 2.9-6.4 2.3 6 .7 .8 1 .4 1.7 .1 2.3-.6 6.6-3 1 0 1.6 .7 1.4 1.2 .7 1.7-.2 2.3-.9 1.3-1.7 .6-4.6 .7-13.5-.2-5.9 1.2-2.4-.4-1.8-1.5-1-2-.3-2.7-.4-11.2 .5-12.5 .8-3 .9-1.2 1.3-.8M305.1 177.4l.7 .2 .3 1.1-.7 3.1-.6-2.1 .3-2.3M295.1 161.6l1.4-.3 1.4 .4 1.7 1.2 .8 1.3-.3 2-2.2 5.3-.4 3.3 .6 5.9 0 5.6 .7 2 1.4 1.9 1.3 .8 1-.3 2.3-4.2 .6-.3 .7 .7 1.3 3.1 1 .8 1.3 .4 2.7-.3 7.2-2.9 2-.2 1.7 .8 1 1.5 0 2.3-.8 1.5-1.6 .7-4.6 .7-8.2-.5-5.6 .1-3.7 1.1-2.3 .3-2-.4-1.6-1.3-.9-1.4-.4-1.9-.5-13.2 .6-12.9 .9-2.2 1.5-1.4M295.6 161.6l.9-.1 1.4 .5 1.3 1.2 .5 1-.2 1.6-1.9 5.7-.4 3.6 .6 5.6 .1 5.6 .6 2 1.7 2.7 1.3 .8 1-.2 2.6-3.5 .7 .4 1.7 2.4 2.6 1.1 1.9-.4 7.6-2.9 2-.3 1.4 .5 .9 1.4 0 1.9-.7 1.4-1.9 .8-4.6 .7-3-.2-4-.8-3.6 .5-3.3-.1-3 1.3-2.3 .3-2-.4-1.6-1.4-1-1.7-.3-2.7-.3-10.9 .5-12.8 .8-2.9 1-1.2 1-.5M295.2 161.9l1-.3 1.3 .5 1.2 1.1 .5 1-.2 1.6-1.6 5.3-.4 3 .7 6.6-.1 4.9 .6 2.6 1.6 3.1 2 1.5 .7-.2 2.3-2.7 .6-.1 3 2.8 0 .6-1.1 .7-2.2 .3-2.6-.4-2.7 1.7-2.9 .4-2-.8-1.7-2.2-.4-2.3-.4-10.2 .5-14.6 .7-2.3 1.6-1.6M320.4 188.9l1.9 .1 1.1 .9 .2 2-.4 1-.7 .7-3.5 .9-3 .3-2.3-.3-1.8-.9 .2-1 1.6-1 6.7-2.7M295.6 161.9l.9 0 1 .5 1.2 1.8-.1 1.6-1.3 5-.5 3 .7 6.9-.1 4.9 1.1 4 2.4 4-.8 1.3-2.9 .8-1.7-.3-1.6-1.4-.7-1.4-.3-2.3-.4-10.9 .6-13.9 .8-2.3 1.7-1.3M319.8 189.6l1.8-.2 1.3 .8 .1 1.7-1.1 1.3-1.8 .7-3.1 .5-2.1-.2-1.2-.6-.1-.7 .9-1 5.3-2.3M304.9 190.9l.9 .1 1 .9 .4 .7-.3 .6-1.5 .5-1.6-.5-.1-1 1.2-1.3M295.3 162.2l.9-.2 1 .5 1 1.7 0 1.6-1.6 8 .7 6.9-.1 4.9 .7 3.1 2.1 4.9-.1 .6-.7 .7-2.3 .6-1.4-.3-1.5-1.3-.7-1.3-.3-2-.3-10.9 .5-13.9 .7-2.3 1.4-1.3M319.9 190.3l1.4-.2 .8 .5 .1 1-.9 1-3.3 1.1-1.7-.1-.7-.4 0-.6 .7-.7 3.6-1.6M305.2 192.2l.4 .4-.5 0 .1-.4M295.2 162.5l1-.1 .9 .5 .7 2-1.4 6.9-.2 3 .8 5.9 0 5.9 1.9 7-.6 1-1.8 .6-1.3-.5-1.2-1.1-.5-1.4-.3-1.9-.3-10.3 .5-6.2 0-8 .5-1.9 1.3-1.4M295 163.2l.9-.3 .6 .3 .6 1.7-1.8 8.9 1.2 6.6 0 6.2 1.2 6-.2 1.3-1.3 .7-1-.3-1-1.1-.7-2.6-.3-10.7 1-6.5-.4-7.6 .4-1.6 .8-1M295.3 163.5l.9 .2 .4 1.5-.4 2.1-1 2-.6-.8-.4-2.7 .4-1.5 .7-.8M294.5 176.7l.4 .1 .6 1.1 .7 2.8-.2 5.6 1.2 5.9-.3 1.4-.7 .5-.7-.1-.9-.8-.7-1.9-.4-10.9 .4-2.6 .6-1.1M295.2 164.9l.5 .3-.5 1 0-1.3M294.4 179.4l.5-.3 .3 .4 .4 1.5-.1 2-.6 2.3-.8-3 .3-2.9M294.8 187l.4 0 .3 .7 .9 2.9 0 1.6-.5 1-1-.5-.5-1.4 0-2 .4-2.3" fill="none" stroke="#000" stroke-opacity="0.55" stroke-width="0.35" stroke-linejoin="round"/>
<path d="M330.6 153.6l7.2-.1 3.6 .9 1.6 1.2 .9 1.3 .4 1.7-.1 2-1 3.3-3.5 7.2-5 7.9-2.5 2.7-2.7 2.1-1.9 .7-2 .1-3-1.4-15.2-10.8-1.9-2.3-1.8-3.3-.8-2.3 0-2 .6-1.9 1.6-2.1 2.3-1.8 2.7-1.2 4.6-.8 7.2-.3 8.7-.8M329.1 155l7.7-.3 3.3 .5 1.3 .8 1.1 1.3 .4 1.3 0 1.6-.9 3-3.6 7.6-4.7 7.3-4.3 4.2-1.8 .9-1.7 .1-2.6-1.2-14.6-10.3-1.7-2-1.8-3-.8-1.9-.2-2 .6-2 1.3-1.7 1.7-1.2 2.3-1 4.6-1 7.2 0 7.2-1M333.4 155.6l4.4 0 2.5 .7 1.5 1.6 .1 2.7-.8 2.3-4.3 9-5.5 7.5-2.1 2-1.6 .9-1.7 .1-1.8-.7-14-10.2-2.3-2.4-2.4-4.2-.3-2 .7-2 1.6-1.7 2.3-1.1 5-1.1 6.9 .2 6.3-1.3 5.5-.3M333.5 156.3l4-.1 2.3 .6 1.3 1.5 .1 2.3-5 10.9-5.9 7.9-1.8 1.6-1.3 .6-1.3 .1-1.6-.7-5-4.1-8.9-6.2-2.3-2.5-2.1-3.7-.2-1.6 .6-1.7 1.4-1.4 1.9-.9 5.3-1.1 6.3 .2 6.6-1.5 5.6-.2M328.8 156.9l7.3-.2 2.3 .3 1.7 .9 .5 2-.5 1.6-1.8 3-1.4 4.3-1.1 2.1-6.7 8.8-1.5 1.1-1.4 .3-1.9-.8-4.7-4.2-3.9-2.5-5.6-4.3-3-3.8-.6-2.6 1-2 2.2-1.3 5.6-1.1 6.3 .2 7.2-1.8M330.2 157.3l7.9 .2 1.4 .8 .4 1.6-.5 1.3-1.9 2.9-1 4.1-.9 1.9-3.5 4-3.3 4.9-1.9 1.5-1.3-.1-1.3-.7-4.3-4.3-4-2.4-5.3-4.1-2.3-2.5-1.2-2.2-.1-1.3 .3-1 1-1 1-.5 5.9-1.2 6 0 5.9-1.6 3-.3M327.3 157.9l2.9-.3 6.9 .3 1.7 .6 .4 1.1-.4 1.2-2.1 2.7-.7 4.3-.9 2-3.6 3.9-3.3 5.1-1 .9-1 .2-1.9-.9-3.7-4.1-4.3-2.5-5.9-5-2-2.2-.7-2 .6-1.3 1.1-.7 2.6-.3 3.7-1.1 5.9-.2 5.7-1.7M329.4 157.9l7.4 .6 1 .4 .3 1-2 3-.7 4.6-.6 1.7-3.6 3.9-3.4 5.3-.9 .7-1 .2-1.9-1.2-2.7-3.7-4-1.9-1.7-1.4-6.2-6-.7-1-.1-.9 .8-.9 2.3-.2 3.6-1.7 5.7-.4 8.4-2.1M328.5 158.3l2.4-.1 3.6 .5 1.8 .5 .4 .7-1.2 3-.5 4.3-.6 1.6-3.3 3.6-3.5 5.2-.9 .8-.8 .1-1.4-.8-2.9-3.8-3.9-1.8-1.8-1.3-3.3-4-.9-2.3 1.3-2 2.3-1.5 6-.7 7.2-2M328.5 158.6l2.7 0 2.8 .6 .9 .7 .3 1.3-.8 5.3-.8 2-5.7 7.2-1 1-1 .3-1-.4-2.7-3.2-4.2-1.8-1.7-1.2-2.4-3.2-.6-2.7 .7-1.6 1.7-1.3 5.6-1 7.2-2M327.3 159.2l2.9-.2 2.7 .6 1.1 1 .2 1.9-.6 3.7-.9 2-4.5 5.8-1.3 1-1 .2-3.3-2.4-4-1.6-1.6-1.1-2-2.6-.6-2.6 .6-1.7 1.3-1 5.6-1.3 5.4-1.7M328.3 159.6l2.2 0 1.8 .6 .9 1 .2 1.7-.9 3.6-4.6 6.5-1.3 .7-1-.2-7-3.1-1.8-1.6-1-1.6-.4-1.7 .3-1.3 .8-1 1.3-.7 10.5-2.9M328.5 160.2l1.7 .1 1.5 .6 .7 1 .1 1.3-.7 2.3-4.2 6.1-1.4 .6-2.9-.3-4.5-2.4-1.4-1.3-.7-1.4-.1-1.3 .3-1 .8-.8 10.8-3.5M327.9 161.2l1.6-.1 1.2 .5 .7 .9 0 1-.5 1.4-1.7 1.8-1.4 2.8-1.2 1.4-1.7 .7-1.6-.1-2.3-2.1-1.7-.8-1-1-.5-1.8 .5-.9 .7-.7 2.3-1 6.6-2M326.6 163.2l1.9-.2 .6 .2-.6 1.2-.1 2.1-.6 2-1.1 1.6-1.1 .9-1.3 .4-1-.1-1-.8-1-2.3-1.4-1-.2-1.4 .9-.9 1.3-.7 4.7-1M325.1 165.5l.8-.2 .7 .2 .4 .7-.1 1-1.3 2.3-1.7 .8-.8-.8 0-1.3 .8-1.7 1.2-1" fill="none" stroke="#000" stroke-opacity="0.5" stroke-width="0.35" stroke-linejoin="round"/>
<circle cx="347.0" cy="177.1" r="0.4" fill="#555"/><circle cx="341.1" cy="177.4" r="0.4" fill="#555"/><circle cx="306.4" cy="154.6" r="0.4" fill="#555"/><circle cx="302.5" cy="151.0" r="0.4" fill="#555"/><circle cx="309.4" cy="146.0" r="0.4" fill="#555"/><circle cx="337.8" cy="152.0" r="0.4" fill="#555"/><circle cx="332.5" cy="152.3" r="0.4" fill="#555"/><circle cx="307.4" cy="145.7" r="0.4" fill="#555"/><circle cx="324.9" cy="145.7" r="0.4" fill="#555"/><circle cx="330.9" cy="193.6" r="0.4" fill="#555"/><circle cx="344.7" cy="165.8" r="0.4" fill="#555"/><circle cx="332.8" cy="150.0" r="0.4" fill="#555"/><circle cx="328.2" cy="152.6" r="0.4" fill="#555"/><circle cx="328.9" cy="188.9" r="0.4" fill="#555"/><circle cx="331.5" cy="183.7" r="0.4" fill="#555"/><circle cx="347.0" cy="179.7" r="0.4" fill="#555"/><circle cx="310.4" cy="152.3" r="0.4" fill="#555"/><circle cx="347.4" cy="153.6" r="0.4" fill="#555"/><circle cx="349.3" cy="167.8" r="0.4" fill="#555"/><circle cx="338.4" cy="146.0" r="0.4" fill="#555"/><circle cx="301.8" cy="156.6" r="0.4" fill="#555"/><circle cx="321.9" cy="150.7" r="0.4" fill="#555"/><circle cx="335.1" cy="182.3" r="0.4" fill="#555"/><circle cx="315.0" cy="146.4" r="0.4" fill="#555"/><circle cx="346.0" cy="168.2" r="0.4" fill="#555"/><circle cx="335.8" cy="181.7" r="0.4" fill="#555"/><circle cx="320.0" cy="150.0" r="0.4" fill="#555"/><circle cx="336.8" cy="183.3" r="0.4" fill="#555"/><circle cx="340.8" cy="181.7" r="0.4" fill="#555"/><circle cx="337.1" cy="144.1" r="0.4" fill="#555"/><circle cx="343.4" cy="170.5" r="0.4" fill="#555"/><circle cx="332.8" cy="142.4" r="0.4" fill="#555"/><circle cx="349.3" cy="154.0" r="0.4" fill="#555"/><circle cx="330.2" cy="152.6" r="0.4" fill="#555"/><circle cx="309.4" cy="149.7" r="0.4" fill="#555"/><circle cx="330.2" cy="151.3" r="0.4" fill="#555"/><circle cx="338.1" cy="177.4" r="0.4" fill="#555"/><circle cx="317.7" cy="151.3" r="0.4" fill="#555"/><circle cx="346.4" cy="148.4" r="0.4" fill="#555"/><circle cx="342.7" cy="169.8" r="0.4" fill="#555"/><circle cx="301.2" cy="153.0" r="0.4" fill="#555"/><circle cx="343.1" cy="176.7" r="0.4" fill="#555"/><circle cx="334.8" cy="150.0" r="0.4" fill="#555"/><circle cx="322.9" cy="151.3" r="0.4" fill="#555"/><circle cx="346.4" cy="176.7" r="0.4" fill="#555"/><circle cx="307.1" cy="154.3" r="0.4" fill="#555"/><circle cx="305.8" cy="154.3" r="0.4" fill="#555"/><circle cx="336.1" cy="150.0" r="0.4" fill="#555"/><circle cx="311.4" cy="144.1" r="0.4" fill="#555"/><circle cx="342.7" cy="185.6" r="0.4" fill="#555"/><circle cx="316.7" cy="147.0" r="0.4" fill="#555"/><circle cx="335.5" cy="180.0" r="0.4" fill="#555"/><circle cx="316.0" cy="152.0" r="0.4" fill="#555"/><circle cx="330.5" cy="187.0" r="0.4" fill="#555"/><circle cx="321.0" cy="152.3" r="0.4" fill="#555"/><circle cx="333.5" cy="186.0" r="0.4" fill="#555"/><circle cx="303.1" cy="156.6" r="0.4" fill="#555"/><circle cx="346.7" cy="150.0" r="0.4" fill="#555"/><circle cx="346.0" cy="172.8" r="0.4" fill="#555"/><circle cx="344.4" cy="167.8" r="0.4" fill="#555"/><circle cx="348.0" cy="168.5" r="0.4" fill="#555"/><circle cx="343.1" cy="153.0" r="0.4" fill="#555"/><circle cx="306.8" cy="150.0" r="0.4" fill="#555"/><circle cx="347.7" cy="164.5" r="0.4" fill="#555"/><circle cx="302.5" cy="147.7" r="0.4" fill="#555"/><circle cx="347.0" cy="169.1" r="0.4" fill="#555"/><circle cx="349.3" cy="163.9" r="0.4" fill="#555"/><circle cx="327.9" cy="152.0" r="0.4" fill="#555"/><circle cx="342.1" cy="176.7" r="0.4" fill="#555"/><circle cx="329.9" cy="149.3" r="0.4" fill="#555"/>
<rect x="280.20" y="134.00" width="69.80" height="68.80" fill="none" stroke="#333" stroke-width="0.8"/>
<path d="M278.0 140.9h2.2M278.0 158.1h2.2M278.0 177.3h2.2M278.0 189.0h2.2M278.0 200.0h2.2M279.0 152.9h1.2M279.0 149.9h1.2M279.0 147.7h1.2M279.0 146.1h1.2M279.0 144.7h1.2M279.0 143.5h1.2M279.0 142.5h1.2M279.0 141.7h1.2M279.0 171.5h1.2M279.0 168.2h1.2M279.0 165.7h1.2M279.0 163.9h1.2M279.0 162.4h1.2M279.0 161.1h1.2M279.0 159.9h1.2M279.0 159.0h1.2M279.0 180.8h1.2M279.0 183.5h1.2M279.0 186.3h1.2M279.0 191.8h1.2M279.0 194.5h1.2M279.0 197.3h1.2M283.7 202.8v2.2M294.2 202.8v2.2M305.3 202.8v2.2M323.5 202.8v2.2M341.6 202.8v2.2M310.8 202.8v1.3M314.0 202.8v1.3M316.3 202.8v1.3M318.0 202.8v1.3M319.4 202.8v1.3M320.7 202.8v1.3M321.7 202.8v1.3M322.6 202.8v1.3M328.9 202.8v1.3M332.1 202.8v1.3M334.4 202.8v1.3M336.2 202.8v1.3M337.6 202.8v1.3M338.8 202.8v1.3M339.9 202.8v1.3M340.8 202.8v1.3M285.8 202.8v1.3M287.9 202.8v1.3M290.0 202.8v1.3M292.1 202.8v1.3M296.3 202.8v1.3M298.3 202.8v1.3M300.4 202.8v1.3M302.5 202.8v1.3" stroke="#222" stroke-width="0.7" fill="none"/>
<path d="M305.00,145.50L350.00,145.50L350.00,188.00L330.00,188.00M305.00,145.50L305.00,200.50L330.00,200.50L330.00,188.00" fill="none" stroke="#222" stroke-width="0.9"/>
<line x1="305.00" y1="164.20" x2="330.00" y2="188.00" stroke="#000" stroke-width="1.5"/>
<text x="323.90" y="143.48" font-size="7.2" font-weight="normal" fill="#000" textLength="12.80" lengthAdjust="spacingAndGlyphs">27.9</text>
<text x="333.00" y="199.68" font-size="7.2" font-weight="normal" fill="#000" textLength="13.40" lengthAdjust="spacingAndGlyphs">24.4</text>
<text x="296.15" y="131.00" font-size="9.0" font-weight="normal" fill="#333" textLength="34.70" lengthAdjust="spacingAndGlyphs">Tra 1 nM</text>
<path d="M374.8,164.0C375.6,161.2 376.6,161.0 378.6,160.6C380.5,160.2 384.9,160.5 386.5,161.6C388.1,162.8 387.7,162.5 388.0,167.5C388.3,172.5 388.9,187.0 388.5,191.6C388.1,196.1 387.2,194.4 385.7,195.0C384.1,195.6 381.1,195.6 379.2,195.0C377.3,194.4 375.4,194.4 374.5,191.6C373.6,188.7 373.8,182.4 373.8,177.8C373.9,173.2 374.0,166.9 374.8,164.0Z" fill="#000" fill-opacity="0.70" filter="url(#bl2)"/>
<path d="M374.3,164.7C374.8,159.7 377.2,161.2 377.9,161.6C378.6,162.1 378.4,162.6 378.6,167.5C378.7,172.4 378.6,186.4 378.6,190.9C378.6,195.3 379.2,194.2 378.6,194.3C377.9,194.4 375.5,196.5 374.8,191.6C374.1,186.6 373.8,169.7 374.3,164.7Z" fill="#000" fill-opacity="0.40" filter="url(#bl2)"/>
<path d="M386.0,167.5C386.6,163.4 386.0,163.4 389.8,167.1C393.6,170.8 405.9,184.8 408.7,189.5C411.5,194.2 409.8,194.3 406.7,195.2C403.6,196.1 393.4,195.6 390.0,195.0C386.6,194.4 386.7,196.1 386.0,191.6C385.3,187.0 385.4,171.6 386.0,167.5Z" fill="#000" fill-opacity="0.34" filter="url(#bl2)"/>
<path d="M380.5,191.0C384.7,189.9 401.2,187.8 405.7,188.5C410.2,189.2 411.9,194.1 407.7,195.2C403.5,196.3 385.0,195.7 380.5,195.0C376.0,194.3 376.3,192.1 380.5,191.0Z" fill="#000" fill-opacity="0.28" filter="url(#bl2)"/>
<path d="M378.3,171.8C378.7,170.3 379.2,170.3 380.2,170.1C381.1,169.9 383.4,170.0 384.1,170.6C384.9,171.1 384.7,171.0 384.9,173.5C385.1,176.0 385.3,183.2 385.1,185.5C385.0,187.8 384.5,187.0 383.8,187.3C383.0,187.5 381.4,187.5 380.5,187.3C379.6,187.0 378.6,187.0 378.1,185.5C377.7,184.1 377.8,181.0 377.8,178.7C377.8,176.4 377.9,173.2 378.3,171.8Z" fill="#fff" fill-opacity="0.00" filter="url(#bl2)"/>
<path d="M376.9,168.7C377.5,166.7 378.2,166.6 379.5,166.3C380.9,166.0 384.0,166.2 385.1,167.0C386.2,167.8 385.9,167.6 386.1,171.1C386.4,174.6 386.8,184.7 386.5,187.9C386.2,191.2 385.6,190.0 384.5,190.4C383.4,190.8 381.3,190.8 380.0,190.4C378.7,190.0 377.3,190.0 376.7,187.9C376.1,185.9 376.2,181.5 376.2,178.3C376.2,175.1 376.3,170.7 376.9,168.7Z" fill="#000" fill-opacity="0.35" filter="url(#bl2)"/>
<path d="M386.0,163.6C386.5,162.3 388.8,162.1 392.0,161.5C395.2,160.9 400.8,160.2 405.5,160.0C410.2,159.8 417.2,159.6 420.0,160.0C422.8,160.4 422.4,161.1 422.5,162.5C422.6,163.9 421.8,165.9 420.5,168.5C419.2,171.1 416.7,175.4 414.7,178.0C412.7,180.6 411.7,184.5 408.7,184.0C405.7,183.5 400.1,177.6 396.8,175.1C393.5,172.6 390.6,171.0 388.8,169.1C387.0,167.2 385.5,164.9 386.0,163.6Z" fill="#000" fill-opacity="0.10" filter="url(#bl2)"/>
<path d="M377.7 159.3l2 0 2.6 .5 3 1 1.7 1.1 2.2 3.7 8.3 9.2 4.6 6 5.6 5.9 1.2 2 .3 1.6-.6 3.7-1 1.6-1.5 .7-2 .3-11.2-.2-5.3-.4-7.9 .5-3-.6-2.8-2.3-1-1.6-.5-2-.7-9.9 .8-13.9 .5-2.3 1.2-2.3 1.5-1.5 2-.8M377.5 160.3l1.5-.1 2 .4 2.3 1 1.3 1 2 3 3.2 2.6 2.7 3.6 3.7 4 3.6 5.7 7 6.4 .8 1.4 .2 1.7-.2 2.3-.8 1.4-1.4 .6-2.3 .2-9.9 0-5.9-.6-7.9 .5-2.7-.6-2.2-1.8-1.2-2.3-.4-4.3-.3-8.3 .6-10.9 .4-2.6 .8-1.7 1.3-1.7 1.8-.9M377.9 160.6l2.5 .4 2.6 1.3 1.1 1.3 1.3 2.6 3.9 2.6 2.3 4.1 4 4.6 .5 1.3 0 2.9 .8 1.4 8.2 4.6 1.2 1 .7 1.3 .2 1.6-.3 1.7-.6 1-1.5 .6-2.7 .2-8.9-.1-5.9-.7-8.3 .7-2.3-.7-2.1-1.7-.7-1.3-.4-1.6-.6-9.3 .6-13.5 .5-2.3 1-2 1.4-1.4 1.5-.6M377.3 161l2.4 0 2.6 1.3 1.2 1.3 1.5 3.3 3.6 2 .9 1.3 1.7 4.7 1.8 3.2 0 4.3 .4 1.7 1.5 .9 8.9 2.8 1.6 .7 1 1.2 .3 1.3 0 1.6-.6 1.4-1.3 .6-3 .2-8.2-.1-6.6-.7-8.3 .7-2-.6-1.8-1.5-1.1-1.9-.4-4.3-.3-8.3 .5-9.9 .4-3 .6-1.6 1.2-1.7 1.5-.9M376.9 161.3l2.1-.3 2.8 1.3 1.2 1.3 1.6 4.2 3 .9 1.1 1.2 1.4 4.9 1.1 10.9 .6 1.3 .8 .3 4.6-.2 7.5 1.6 1.1 .9 .5 1.1 0 1.9-.5 1.1-1.4 .6-3.3 .3-7.5-.1-7.3-.8-7.6 .8-1.6-.4-2-1.5-1.1-1.9-.4-3.3-.4-9 .4-7.5 .7-6.3 1.1-2 1.5-1.3M377.5 161.3l2.2 .2 2.2 1.4 .7 1.4 .9 3.6 .8 1.5 .7 .4 2.2-.3 1 1 .8 3.7 1.2 12.5 .6 1.3 1.4 .5 6-.4 5.6 1 1.1 .6 .7 1 .2 1.6-.4 1-1.5 .7-3.4 .2-6.9 0-8-.9-6.9 .9-2-.5-1.6-1.3-1-2.1-.4-3.9-.3-8.3 .5-9.6 .3-2.9 .6-1.7 1.3-1.8 1.4-.8M377 161.6l1-.3 1.4 .3 2.3 1.7 .6 1.3 1 5 1.3 2.6 .7 0 1.3-1.2 .7 .2 .3 .4 .7 2.6 1.3 12.8 .5 1.3 1.5 .8 5.6-.6 5.6 .8 1.3 .6 .8 .8 .3 1.3-.4 1.1-3 .8-5.9 .1-10.9-1.2-6.6 1.2-1.7-.5-1.5-1.2-.9-1.6-.4-3.7-.4-8.6 .4-7.5 .7-6.3 1.1-1.9 1.3-1.1M385 177.2l0 .8 0-.8M383.7 186.6l-.7 .8-.4 1.3 .4 .8 .7 .3 .8-.5 .4-1-.6-1.6-.6-.1M377.2 161.6l1.2-.2 1.3 .4 1.2 .8 .9 1.3 1 5 1.3 4.6-.2 4.6 .7 2.7 .4 .3 .3-.2 1.1-2.1 .1-1.3-.5-3.7 .6-1.2 .7 .2 .4 1.7 .1 3.6 .8 3.5 .7 5.4 .6 1.6 1.7 .7 5.6-.6 4.9 .7 1.4 .6 .9 .8 .4 1.2-.5 1-3.2 .7-5.9 .2-10.6-1.4-6.2 1.5-1.7-.5-1.4-1.2-1-2-.4-3.3-.3-8.6 .3-7.9 .8-5.9 1-1.8 1.5-1.2M384.3 184.7l-1.3 1.6-.8 2 .2 1.4 1.3 .7 .9-.4 .8-1.7-.4-2.4-.7-1.2M377.4 161.6l1-.1 1.3 .4 1.8 1.7 2 9.6 0 4.6 .4 4.6-2 5.6 0 1.3 .4 1 1.7 .9 1.3-1.5 .5-1.7-.3-3 .2-1.9 .9-2.3 .7-.5 1 2.2 .8 5.2 .9 1.3 1.6 .6 5.3-.7 4.2 .5 2.6 1.3 .5 .9-.3 1-1.4 .7-1.7 .3-5.9 .1-7.6-1-3-.7-2.6 1.2-3.3 .7-1.7-.5-1.3-1.1-1.1-2-.3-3.6-.3-8.6 .3-7.9 .9-5.9 1.2-1.8 1.3-.9M378 161.6l2 .7 1.4 2 1.5 8.9 .4 7.9-.3 2.3-1.6 5.3 .2 1.3 1 2-1.3 1-2.9 .7-2.3-.9-1.6-2.1-.7-10.9 .3-8.9 .5-5.7 1.5-2.6 1.9-1M386.9 183.4l.7 .2 .3 .7 1 4 1.4 1.3 1.6 .4 5-.8 3.3 .4 2.5 1.1 .5 .9-.1 .7-1 .7-1.3 .3-5.3 .2-7.9-1-1.8-.5-.5-1 1-2.7 0-3.3 .6-1.6M377.2 161.9l1.2-.1 1 .3 1 .8 .7 1.4 1.3 9.2 .4 7.3-.3 2.3-1.5 5.2 .5 3.7-1.2 1-1.9 .6-2-.7-1.5-1.6-.5-2-.3-3.9-.2-7.9 .7-11.3 .8-2.6 1.8-1.7M387.1 188.7l.8-.2 2 1.5 1.3 .5 5-.9 3.3 .3 1.8 .8 .5 .6 .1 .7-1.7 .9-3.3 .3-9.3-1-1.2-.6-.3-.6 1-2.3M377.6 161.9l1.8 .4 .9 1 .4 1 1.1 9.2 .4 7.3-.2 1.9-1.4 5 .2 3.9-.7 1-1.7 .8-2.2-.8-1.4-1.9-.5-3.3-.3-6.6 .2-9.3 .6-5.9 1-2.3 1.8-1.4M387.2 190l.7-.3 .7 .2 1.2 1.4-.9 .4-1.3-.1-.7-.6 .3-1M395 190.3l3.5 0 1.5 .7 .2 .6-.7 .7-1.5 .3-4.1-.1-1.3-.5-.1-.7 2.5-1M377.2 162.3l.8-.2 1 .3 .9 .9 .4 1 1.4 16.1-.2 2-1.2 5-.2 4.2-.7 1-1.4 .6-1.9-.9-1.2-1.6-.5-3.3-.2-6.3 .2-9.6 .5-5.6 .8-2.3 1.5-1.3M377.5 162.6l1.4 .3 .8 1.7 .9 15.8-1.4 10.9-.5 1-1 .3-1.6-.8-1-1.8-.6-9.6 .2-8.9 .6-5.6 .8-2.1 1.4-1.2M377.2 163.3l1.2 0 .6 1.3 .8 15.8-1.2 10.3-.5 .9-.7 .3-1.3-.8-.6-1.4-.7-8.9 .9-14.6 .6-1.9 .9-1M377.3 163.9l.7 .2 .4 .8 .8 15.9-1.2 9-.3 .9-.6 .3-.8-.7-.6-1.6-.5-7.9 1-14.6 .5-1.6 .6-.7M377.3 165.2l.4 .7 1 14.9-1 7.3-.6 1.6-.7-.7-.3-1.2-.6-7 .7-9.3 1.1-6.3M377 176.5l.7 1 .5 3.6-.8 4.6-.7 .8-.6-2.4-.1-3.3 .4-3.1 .6-1.2" fill="none" stroke="#000" stroke-opacity="0.55" stroke-width="0.35" stroke-linejoin="round"/>
<path d="M402.5 158l11.8-.3 4.7 .3 1.6 .6 1.6 1 1.7 2.7 .2 2.3-.7 2.6-5.5 9.9-2.2 3-2 2.1-2 1.6-2 .8-1.6 .2-1.7-.3-3.3-1.9-15.2-11.7-1.7-2-1.1-2.3-.1-1.7 .4-1.6 1.2-1.6 1.7-1 3.6-1.2 10.6-1.5M405 159.6l8 .1 5.6 .5 2.3 1.3 1 2.1-.1 2-.9 2.3-5.6 9.6-3.1 3.3-3.1 1.6-1.7 0-1.6-.6-6.6-4.6-5.5-5-4.8-3.2-1.2-1.4-.5-1.4 0-1.3 .6-1.3 2.6-1.7 2.5-.6 12.1-1.7M405.8 160.6l5.6 .2 6.6 .8 1.6 .8 .8 1.5-.1 2-1 2.6-4.6 7.6-2.7 3.2-2.9 1.6-1.4 0-1.3-.4-6.2-4.2-5.2-5.1-5.1-3-1.3-2 0-1 .5-.9 2.5-1.5 14.2-2.2M403.6 161.6l3.5-.3 4.6 .4 5.9 1.3 1.4 1.3-.2 2.6-2 4.6-4.1 5.8-1.3 1.2-1.7 1-1.3 .2-1.3-.4-6-3.9-5.1-4.9-4.8-2.7-1.3-1.6 .4-1.4 1.9-1.1 11.4-2.1M406.1 161.9l3.3 .2 3 .7 4.3 1.7 .6 .5 .4 .9-.5 3-1.5 3.1-3.7 4.6-1.3 1.1-1.3 .6-2-.5-3-2.4-3.6-2.1-4.9-4-3.4-2.1-1-1 .4-1.1 1.8-.8 12.4-2.4M405.2 162.6l3.2 0 3 .7 3.9 2.2 1.1 1.4-.1 2.1-1.1 2.5-3.2 3.8-1.9 1.4-1 .1-1-.4-3.3-3-3.7-1.7-2.9-1.8-3.4-2.7-.8-1 .6-1 1.6-.6 9-2M405.2 163.3l2.5-.2 2.7 .7 3.6 2.4 1.1 1.4 .1 1.6-.6 1.7-1.9 2.3-2 1.6-1 .3-1-.2-2.9-2.9-6.3-2.5-1.8-1.3-1.1-1.3 .2-1 1-.7 7.4-1.9M405.9 163.9l2.1 0 1.7 .6 3.7 3.3 .4 1.1-.1 1-1.7 2-1.3 .8-1 0-2.9-2.2-5.7-1.8-1.8-1.1-.2-.7 .4-.7 6.4-2.3M405.6 165.2l1.8-.2 1.3 .6 1 1.3 0 1.3-.6 .4-1.7 0-2.6-.7-.7-.7 0-.6 1.5-1.4" fill="none" stroke="#000" stroke-opacity="0.5" stroke-width="0.35" stroke-linejoin="round"/>
<circle cx="384.6" cy="158.3" r="0.4" fill="#555"/><circle cx="425.2" cy="155.0" r="0.4" fill="#555"/><circle cx="385.6" cy="155.7" r="0.4" fill="#555"/><circle cx="398.2" cy="155.7" r="0.4" fill="#555"/><circle cx="409.4" cy="193.0" r="0.4" fill="#555"/><circle cx="431.2" cy="166.2" r="0.4" fill="#555"/><circle cx="423.9" cy="170.5" r="0.4" fill="#555"/><circle cx="400.2" cy="155.0" r="0.4" fill="#555"/><circle cx="426.9" cy="170.9" r="0.4" fill="#555"/><circle cx="422.6" cy="150.7" r="0.4" fill="#555"/><circle cx="399.2" cy="148.4" r="0.4" fill="#555"/><circle cx="417.0" cy="182.4" r="0.4" fill="#555"/><circle cx="403.5" cy="145.4" r="0.4" fill="#555"/><circle cx="416.7" cy="191.3" r="0.4" fill="#555"/><circle cx="430.5" cy="180.8" r="0.4" fill="#555"/><circle cx="418.6" cy="178.4" r="0.4" fill="#555"/><circle cx="414.7" cy="148.1" r="0.4" fill="#555"/><circle cx="424.2" cy="152.7" r="0.4" fill="#555"/><circle cx="416.3" cy="182.4" r="0.4" fill="#555"/><circle cx="410.1" cy="156.3" r="0.4" fill="#555"/><circle cx="425.6" cy="165.9" r="0.4" fill="#555"/><circle cx="419.3" cy="150.7" r="0.4" fill="#555"/><circle cx="409.4" cy="152.4" r="0.4" fill="#555"/><circle cx="393.6" cy="157.3" r="0.4" fill="#555"/><circle cx="419.6" cy="176.8" r="0.4" fill="#555"/><circle cx="388.9" cy="158.3" r="0.4" fill="#555"/><circle cx="405.8" cy="150.4" r="0.4" fill="#555"/><circle cx="415.3" cy="183.4" r="0.4" fill="#555"/><circle cx="397.2" cy="151.4" r="0.4" fill="#555"/><circle cx="421.9" cy="156.3" r="0.4" fill="#555"/><circle cx="425.6" cy="161.0" r="0.4" fill="#555"/><circle cx="419.3" cy="154.7" r="0.4" fill="#555"/><circle cx="385.3" cy="156.3" r="0.4" fill="#555"/><circle cx="425.9" cy="184.4" r="0.4" fill="#555"/><circle cx="403.8" cy="156.7" r="0.4" fill="#555"/><circle cx="387.6" cy="158.3" r="0.4" fill="#555"/><circle cx="414.7" cy="190.3" r="0.4" fill="#555"/><circle cx="414.7" cy="154.0" r="0.4" fill="#555"/><circle cx="414.0" cy="185.0" r="0.4" fill="#555"/><circle cx="415.0" cy="155.3" r="0.4" fill="#555"/><circle cx="406.4" cy="154.7" r="0.4" fill="#555"/><circle cx="425.9" cy="184.1" r="0.4" fill="#555"/><circle cx="391.6" cy="149.1" r="0.4" fill="#555"/><circle cx="416.0" cy="183.4" r="0.4" fill="#555"/><circle cx="417.0" cy="181.1" r="0.4" fill="#555"/><circle cx="402.8" cy="148.7" r="0.4" fill="#555"/><circle cx="415.7" cy="153.4" r="0.4" fill="#555"/><circle cx="419.3" cy="177.8" r="0.4" fill="#555"/><circle cx="416.7" cy="156.3" r="0.4" fill="#555"/><circle cx="417.3" cy="144.8" r="0.4" fill="#555"/><circle cx="428.2" cy="171.8" r="0.4" fill="#555"/><circle cx="427.9" cy="179.1" r="0.4" fill="#555"/><circle cx="416.0" cy="190.7" r="0.4" fill="#555"/><circle cx="389.3" cy="151.7" r="0.4" fill="#555"/><circle cx="405.4" cy="153.7" r="0.4" fill="#555"/><circle cx="422.3" cy="181.7" r="0.4" fill="#555"/><circle cx="385.3" cy="150.1" r="0.4" fill="#555"/><circle cx="411.4" cy="154.0" r="0.4" fill="#555"/><circle cx="400.5" cy="156.7" r="0.4" fill="#555"/><circle cx="386.3" cy="156.3" r="0.4" fill="#555"/><circle cx="393.9" cy="158.3" r="0.4" fill="#555"/><circle cx="420.6" cy="183.4" r="0.4" fill="#555"/><circle cx="427.2" cy="166.2" r="0.4" fill="#555"/><circle cx="427.5" cy="168.5" r="0.4" fill="#555"/><circle cx="425.6" cy="161.6" r="0.4" fill="#555"/><circle cx="390.9" cy="153.0" r="0.4" fill="#555"/><circle cx="397.2" cy="156.7" r="0.4" fill="#555"/><circle cx="410.1" cy="193.0" r="0.4" fill="#555"/><circle cx="420.3" cy="185.7" r="0.4" fill="#555"/><circle cx="424.2" cy="177.1" r="0.4" fill="#555"/>
<rect x="362.70" y="133.40" width="68.90" height="69.40" fill="none" stroke="#333" stroke-width="0.8"/>
<path d="M360.5 140.3h2.2M360.5 157.7h2.2M360.5 177.1h2.2M360.5 188.9h2.2M360.5 200.0h2.2M361.5 152.5h1.2M361.5 149.4h1.2M361.5 147.2h1.2M361.5 145.6h1.2M361.5 144.2h1.2M361.5 143.0h1.2M361.5 142.0h1.2M361.5 141.1h1.2M361.5 171.3h1.2M361.5 167.9h1.2M361.5 165.4h1.2M361.5 163.5h1.2M361.5 162.0h1.2M361.5 160.7h1.2M361.5 159.6h1.2M361.5 158.6h1.2M361.5 180.6h1.2M361.5 183.4h1.2M361.5 186.1h1.2M361.5 191.7h1.2M361.5 194.5h1.2M361.5 197.2h1.2M366.1 202.8v2.2M376.5 202.8v2.2M387.5 202.8v2.2M405.4 202.8v2.2M423.3 202.8v2.2M392.9 202.8v1.3M396.1 202.8v1.3M398.3 202.8v1.3M400.0 202.8v1.3M401.4 202.8v1.3M402.6 202.8v1.3M403.7 202.8v1.3M404.6 202.8v1.3M410.8 202.8v1.3M414.0 202.8v1.3M416.2 202.8v1.3M417.9 202.8v1.3M419.4 202.8v1.3M420.6 202.8v1.3M421.6 202.8v1.3M422.5 202.8v1.3M368.2 202.8v1.3M370.3 202.8v1.3M372.3 202.8v1.3M374.4 202.8v1.3M378.5 202.8v1.3M380.6 202.8v1.3M382.7 202.8v1.3M384.7 202.8v1.3" stroke="#222" stroke-width="0.7" fill="none"/>
<path d="M386.80,144.80L431.60,144.80L431.60,188.00L411.70,188.00M386.80,144.80L386.80,200.20L411.70,200.20L411.70,188.00" fill="none" stroke="#222" stroke-width="0.9"/>
<line x1="386.80" y1="163.10" x2="411.70" y2="188.00" stroke="#000" stroke-width="1.5"/>
<text x="402.30" y="142.88" font-size="7.2" font-weight="normal" fill="#000" textLength="13.60" lengthAdjust="spacingAndGlyphs">18.4</text>
<text x="413.80" y="199.08" font-size="7.2" font-weight="normal" fill="#000" textLength="12.40" lengthAdjust="spacingAndGlyphs">27.7</text>
<text x="375.50" y="131.00" font-size="9.0" font-weight="normal" fill="#333" textLength="40.20" lengthAdjust="spacingAndGlyphs">Tra 10 nM</text>
<path d="M462.3,165.5C463.1,162.6 464.0,162.4 465.8,162.0C467.6,161.6 471.8,161.9 473.3,163.0C474.8,164.2 474.5,163.9 474.8,168.9C475.1,174.0 475.7,188.6 475.3,193.2C474.9,197.9 474.1,196.1 472.6,196.7C471.1,197.3 468.2,197.3 466.4,196.7C464.7,196.1 462.9,196.1 462.0,193.2C461.1,190.3 461.2,184.0 461.3,179.3C461.4,174.7 461.5,168.4 462.3,165.5Z" fill="#000" fill-opacity="0.55" filter="url(#bl2)"/>
<path d="M461.8,166.2C462.3,161.1 464.5,162.6 465.2,163.0C465.9,163.5 465.7,164.0 465.8,168.9C465.9,173.9 465.8,188.0 465.8,192.5C465.8,197.0 466.4,195.9 465.8,196.0C465.2,196.1 463.0,198.2 462.3,193.2C461.6,188.3 461.3,171.2 461.8,166.2Z" fill="#000" fill-opacity="0.40" filter="url(#bl2)"/>
<path d="M472.8,168.9C473.4,164.8 472.9,164.7 476.7,168.2C480.5,171.7 492.9,185.3 495.8,189.9C498.7,194.5 497.0,194.4 493.8,195.5C490.6,196.6 480.3,197.1 476.8,196.7C473.3,196.3 473.5,197.9 472.8,193.2C472.1,188.6 472.2,173.1 472.8,168.9Z" fill="#000" fill-opacity="0.34" filter="url(#bl2)"/>
<path d="M467.6,192.7C471.8,191.4 488.3,188.4 492.8,188.9C497.3,189.4 499.0,194.2 494.8,195.5C490.6,196.8 472.2,197.2 467.6,196.7C463.1,196.2 463.5,194.0 467.6,192.7Z" fill="#000" fill-opacity="0.28" filter="url(#bl2)"/>
<path d="M465.6,173.3C466.0,171.8 466.4,171.7 467.3,171.5C468.3,171.3 470.3,171.5 471.1,172.1C471.8,172.6 471.7,172.5 471.8,175.0C472.0,177.5 472.3,184.8 472.1,187.2C471.9,189.5 471.5,188.6 470.7,188.9C470.0,189.2 468.5,189.2 467.6,188.9C466.8,188.6 465.9,188.6 465.4,187.2C465.0,185.7 465.1,182.5 465.1,180.2C465.1,177.9 465.2,174.7 465.6,173.3Z" fill="#fff" fill-opacity="0.40" filter="url(#bl2)"/>
<path d="M472.8,165.0C473.3,163.7 475.5,163.2 478.8,162.5C482.1,161.8 488.0,161.2 492.9,161.0C497.8,160.8 505.1,160.6 508.0,161.0C510.9,161.4 510.4,162.1 510.5,163.5C510.6,164.9 509.9,167.0 508.5,169.5C507.1,172.0 503.9,175.9 501.8,178.4C499.7,180.9 498.8,184.8 495.8,184.4C492.8,184.0 487.1,178.6 483.7,176.2C480.3,173.8 477.5,172.1 475.7,170.2C473.9,168.3 472.3,166.3 472.8,165.0Z" fill="#000" fill-opacity="0.10" filter="url(#bl2)"/>
<path d="M465.6 160.5l4.1 .5 2.6 1 1.7 1 2.2 3.5 11.6 12.5 7.1 8.6 1.1 1.6 .4 2-.5 3.3-1.1 1.8-1.3 .7-1.7 .3-11.9 .7-5.3-.2-6.9 1-3.3-.6-2.5-2-1.4-2.3-.5-3-.6-11.2 .6-12.2 .6-2.7 1.4-2.3 1.8-1.5 1.8-.5M465.4 161.5l3.6 .5 3.3 1.8 2.1 3 2.8 2.6 3.2 4.3 6.1 6.1 4.2 5.8 3 3 .9 1.3 .4 3.3-.3 1.3-.7 1-1.5 .7-4.3 .4-8.6 .4-5.3-.2-6.6 1-3-.6-2.1-1.7-1.3-2-.4-2.3-.6-11.5 .5-11.9 .4-2.3 1.1-2 1.5-1.4 1.6-.6M465.5 161.9l3.2 .4 3 1.8 1.8 2.7 3.4 3.3 1.2 2.6 1 3.3 2.5 .8 2.7 1.9 1.9 2.1 3.1 5.1 4.2 3.3 .8 1.4 .3 1.6-.2 1.8-.7 1.2-1.6 .6-4.3 .5-8.5 .3-5-.2-6.6 1-2.6-.4-2.4-1.8-1-1.7-.5-2.3-.6-11.5 .4-11.9 .4-2 1-2 1.4-1.3 1.7-.6M469.7 174l-.8 1.4-.1 2.6 .6 5.3 .6 1.4 .4-.1 .3-1 .9-7.6-.6-1.8-.6-.4-.7 .2M464.7 162.2l2.7 0 3 1.2 1.1 1.1 1.7 2.6 2.8 2.3 1.3 2.7-.3 4.6 .9 2.8 1 .9 1 .1 2-1.7 .7-.1 1.9 1.3 1.2 1.7 .4 2.6 .6 1 2 1.6 3.8 1.9 1.3 1.4 .5 3-.2 1-.6 .9-1.4 .5-4.3 .5-8.5 .3-5-.2-6.3 1-2.9-.4-2.2-1.6-1.2-2-.4-2-.5-11.2 .2-9.6 .3-3.6 .5-1.6 1.3-2 1.6-1M470 173l-.6 .4-.7 1.1-.3 3.2 .4 6.3 .5 1.6 .7 .7 .7-.2 .6-1.5 .8-8.6-.6-2.3-.8-.6-.7-.1M465 162.2l2.4 .1 2.8 1.2 1.4 1.3 1.3 2.3 2.4 1.8 1 1.2 .6 2-.3 4.3 .4 2.3 1.6 2.8 2.3 1.7 .4 .8-.2 1.3-1.4 1-.1 .7 .7 .2 1.9-.8 3.3 .3 6.6 2.1 1.4 1.3 .6 1.5 .1 1.9-.7 1.4-1.4 .6-4.3 .5-8.5 .3-5-.2-6.3 1-2.9-.4-2-1.5-1.2-1.7-.5-2.3-.6-11.5 .4-11.2 .3-2.4 .7-1.6 1.2-1.5 1.6-.8M470 172.7l-1 .7-.6 1.3-.2 4.6 .5 5.7 .7 1.4 1 .4 .6-.5 .6-1.7 .7-8.9-.7-2.3-.6-.6-1-.1M483.3 181l.3-.2 .1 .5-.4-.3M464.4 162.5l2.7-.2 2.8 1.2 1.3 1.3 1.5 2.7 2.3 1.5 1 1.2 .5 1.9-.5 4.9 1.8 5.6-.1 4.7 .6 1.3 1.6 .3 6.3-1 5.3 1 1.5 1 .8 1.5 .2 2.1-.8 1.4-1.4 .5-4.3 .5-8.2 .3-5.3-.2-6 1-2.9-.5-2-1.4-1.1-1.6-.5-1.9-.6-11.6 .2-8.6 .6-5.6 1.1-2 1.6-1.3M469.7 172.3l-1 1-.6 1.8-.1 6.6 .7 4.4 .7 1 1 .5 .9-.9 .6-1.4 .8-9.6-.2-1.6-.8-1.4-1-.6-1 .2M464.8 162.5l2.3 0 2.6 1.2 1.1 1.1 1.5 3 2.3 1.4 1 1.2 .3 1.7-.7 4.3 1.7 5.9 0 5 .5 1.6 .9 .6 1 .1 6.9-1 4.9 .6 1.4 .7 1 1.5 .2 1.8-.6 1.4-1.3 .6-4.3 .5-13.5 .1-6 1-2.9-.5-2-1.5-1.1-1.6-.4-2-.5-11.5 .3-10.9 .2-2.3 .6-1.7 1.2-1.5 1.4-.8M469.7 171.8l-1.3 1.3-.5 1.6-.2 7.3 .7 4.4 1 1.5 1 .4 1.1-.7 .8-2 1.1-10.2-.5-1.7-1-1.6-1.2-.6-1 .3M464.4 162.8l2.3-.2 2.7 1.2 1.2 1.4 1.1 2.9 2.9 1.7 .7 1.3-.3 1.6-.7 1.1-.6-.4-1.7-2.1-1-.5-1.6 .6-1.5 2-.5 3 0 6.9 .5 3 1.1 2 1 .7 .7 .1 1.4-1.5 .7-2.3 .5-6 .4-1.1 .6-.6 .7 .9 1.1 3.2 .2 5.9 .9 2 2.1 .5 6.9-1 4.7 .5 1.3 .6 .9 1.4 .3 1.6-.6 1.3-1.3 .5-4.3 .5-13.5 .1-5.7 1-2.6-.3-2.1-1.4-1.1-1.7-.4-2-.6-11.2 .1-7.9 .6-6.3 .9-1.6 1.6-1.4M464.7 162.8l2.3 0 2.4 1.4 .9 1.3 .9 3.3 0 .6-2.9 2.7-.9 3-.1 9.5 .6 2.3 1.1 2 1 .8 .7 0 .8-.5 .7-.9 1-2.7 .5-5 .6-1.1 .7 .8 .5 1.7 .4 6.3 1 1.6 2 .6 7.3-1.1 4.3 .5 1.3 .6 .9 1.1 .4 1.6-.5 1-1.1 .5-4.3 .6-13.5 .1-5.7 1-2.9-.4-2-1.5-.9-1.6-.3-1.7-.6-11.5 .2-8.3 .5-5.6 1.1-1.8 1.6-1.2M472.8 169.8l.9 0 .7 .6 .2 1-.3 .7-.6 0-.9-1-.4-1 .4-.3M465.1 162.8l1.6 .1 2 .9 1.1 1.4 .4 1.6 0 2.3-2.5 3.6-.6 3.7 0 8.6 .6 2.3 1.3 2.3 1.4 .8 1.3-.5 2.6-4.5 1.5 3.8 1.5 1.3 2.3 .4 6.9-1.1 3 .3 1.6 .6 1 .8 .6 1.4-.3 1-1.5 .6-3.7 .6-13.9 .1-5.3 1-2.9-.3-1.8-1.4-1-1.6-.3-2-.6-11.6 .3-11.2 .3-2 .6-1.3 1.2-1.3 1.3-.7M464.6 163.2l1.5-.2 1.6 .6 1.4 1.2 .5 1.3-.2 2.7-2.1 4.3-.5 3.9 .1 8.3 .7 2.6 1.1 2.3 1 .8 1.3 .1 3-2.5 2.6 2.1 2 .7 6.9-1 2.3 0 3.2 1.2 .7 .9-.1 1-1.5 .7-3.2 .6-13.9 .1-5 1-2.6-.2-2-1.3-.9-1.5-.4-1.7-.5-11.5 .1-7.6 .5-6 .9-1.7 1.5-1.2M465.2 163.2l1.2 .1 1.3 .6 .9 .9 .4 1.3-.1 2.4-2 5.2-.4 7.6 .3 5 1.7 4.6 .9 .7 1.3 .2 3-1.8 .6-.1 3.3 1.8 2 .3 5.6-1.1 2 0 2.4 1 .6 1-.4 .6-1.6 .7-2 .3-4.6-.2-9.3 .3-4.3 1-2.6-.1-2-1.3-.8-1.3-.3-2-.6-11.9 .3-10.9 .3-2 .6-1.3 1.2-1.2 1.1-.4M464.5 163.5l1.2-.2 1.5 .5 1 1 .4 1-.2 2.7-1.7 5.6-.4 7.9 .3 4.3 1.4 4.9 1 .8 1.7 .5 2.6-1.6 1-.3 3.6 1.8 2.7 .8-3.5 1-5.1-.1-3 1.1-2.9 .2-1.7-.5-1.5-1.7-.5-2-.1-5.9-.5-5.6 .3-11.6 .7-2.8 1.7-1.8M484.8 191.6l1.7-.1 1.4 .4 .6 1-1 .9-2.6 .2-4.3-.8 4.2-1.6M464.9 163.5l1.2 0 1 .5 .7 .8 .4 1-.2 2.7-1.5 5.9-.3 10.2 1.5 6.9 .7 .8 2 1.2-.3 .7-1.1 .6-2.9 .4-2-.8-1.4-2.2-.7-12.5 .4-12.9 1-2.3 1.5-1M473.7 191.2l.9 0 1 .4 1.4 .9 .4 .7-.8 .6-1.3 .2-3-.5-.4-.3 .3-.7 1.5-1.3M485.1 192.5l1.1 0 .3 .4-1.1 .3-.6-.3 .3-.4M464.7 163.8l1-.1 1 .5 .7 1 .2 .9-1.3 8-.5 8.9 .2 2.9 1.5 7.6-.4 .7-1.4 .6-1.6-.7-1.2-1.9-.2-7.2-.5-5.7 .4-12.5 .8-2 1.3-1M473.9 192.5l.7-.3 .7 .7-1 .2-.4-.6M465.1 164.2l1.3 .6 .4 1.7-1 7.6-.6 9.5 1 8.9-.2 1-.9 .5-1.3-1-.6-1.4 .1-6.6-.8-7.3 .4-10.9 .9-1.9 1.3-.7M464.4 164.8l.7-.2 .6 .3 .5 1.9-1.1 12.4-1 3.7-1-2.3-.2-5.5 .4-8.3 .5-1.3 .6-.7M464.4 186.6l.7 1.2 .5 2.4-.2 2.3-.7 .6-.6-.6-.5-1.6 .2-2.8 .6-1.5M464.6 165.5l.8 .3 .1 1.3-.9 9.6-.5 2.3-.3-.2-.3-1.1-.1-3.6 .4-7.3 .8-1.3" fill="none" stroke="#000" stroke-opacity="0.55" stroke-width="0.35" stroke-linejoin="round"/>
<path d="M496.8 158.6l7.5-.2 4 .9 1.7 1.1 1.3 1.5 .6 1.6 .2 1.7-.7 2.9-1.7 3.7-7.4 9.2-1.9 2-2 1.4-1.6 .7-2 .2-2-.5-2-1-15.2-11-2.9-3.4-.6-1.6-.2-1.7 .4-1.6 .9-1.3 1.4-1.1 2.4-1 10.8-1.8 9-.7M497.8 160.5l5.6-.1 3.6 .7 2.3 1.7 .7 2.4-1 3.6-2.6 4.3-6.3 7.8-1.7 1.4-1.6 .8-2.4 .2-2.3-1-4.9-3.9-10.1-7-1.7-1.6-.9-1.7-.2-1.6 .6-1.3 1.1-1.1 1.9-1 12.3-2 7.6-.6M495 161.9l6-.2 4.3 .6 2.3 1 .7 .9 .3 1-.3 1.6-1.1 3-2.5 3.9-5.6 6.9-2 1.3-1.7 .4-1.3-.2-1.3-.7-4.5-4-10.1-6.6-1.7-1.7-.5-1.6 .6-1.8 2.3-1.3 5.3-.5 5.3-1.4 5.5-.6M492.5 162.8l5.6-.2 3.3 .3 4.3 1.6 1 1.3-.5 3.6-1.6 3.3-5.5 6.9-1.7 1.3-1.3 .5-1.6-.1-1.3-.6-3.7-3.9-10.6-6.9-1.3-1.8 .3-1.2 1.1-.8 4.6-.5 5.2-2.1 3.7-.7M491.8 163.5l5.9-.1 3 .4 1.3 .7 2 1.6 1.3 2-.2 2.3-1.4 2.7-4.6 5.7-2.7 1.8-1.3 .1-1.5-.7-3.1-3.6-5.9-4-2.3-3 .4-1.3 4-2.9 2.5-1.2 2.6-.5M490.4 164.5l4.4-.2 4.5 .5 2.7 1.7 1.9 2.3 .1 1.6-.9 2-4 5.2-2 1.7-1.3 .3-1.4-.5-2.9-3.6-4.4-2.8-1.8-1.9-.2-1.7 1-2 1.8-1.6 2.5-1M492 165.2l6.7 1 2.3 1.3 1.4 1.6 .2 1.3-.6 1.7-3.3 4.2-1.6 1.4-1 .2-1-.5-3-3.2-3.7-2.1-1.5-1.7-.2-1.6 1.2-2 1.9-1.3 2.2-.3M491 166.1l3.3 .4 4.8 1.7 1.5 1.2 .3 1-.3 1-3.2 3.8-1 .4-.6-.2-2.7-2.6-3.3-1.3-1.3-1.1-.5-1.3 .4-1.3 1.1-1.1 1.5-.6M490.6 167.1l1.5-.1 1.4 .5 .9 1-.2 1.3-.7 .6-1.4 .4-2.3-.7-.5-.7 0-.9 1.3-1.4" fill="none" stroke="#000" stroke-opacity="0.5" stroke-width="0.35" stroke-linejoin="round"/>
<circle cx="512.9" cy="165.5" r="0.4" fill="#555"/><circle cx="508.0" cy="185.6" r="0.4" fill="#555"/><circle cx="509.3" cy="178.7" r="0.4" fill="#555"/><circle cx="496.1" cy="153.9" r="0.4" fill="#555"/><circle cx="494.1" cy="155.3" r="0.4" fill="#555"/><circle cx="510.6" cy="184.3" r="0.4" fill="#555"/><circle cx="500.7" cy="145.7" r="0.4" fill="#555"/><circle cx="511.3" cy="181.3" r="0.4" fill="#555"/><circle cx="508.0" cy="180.0" r="0.4" fill="#555"/><circle cx="493.1" cy="157.6" r="0.4" fill="#555"/><circle cx="499.1" cy="155.3" r="0.4" fill="#555"/><circle cx="491.5" cy="154.9" r="0.4" fill="#555"/><circle cx="482.9" cy="154.6" r="0.4" fill="#555"/><circle cx="498.7" cy="157.2" r="0.4" fill="#555"/><circle cx="472.3" cy="158.2" r="0.4" fill="#555"/><circle cx="481.9" cy="159.2" r="0.4" fill="#555"/><circle cx="498.7" cy="195.2" r="0.4" fill="#555"/><circle cx="510.3" cy="179.7" r="0.4" fill="#555"/><circle cx="516.2" cy="164.8" r="0.4" fill="#555"/><circle cx="498.4" cy="193.5" r="0.4" fill="#555"/><circle cx="516.6" cy="153.6" r="0.4" fill="#555"/><circle cx="489.8" cy="152.6" r="0.4" fill="#555"/><circle cx="514.9" cy="163.5" r="0.4" fill="#555"/><circle cx="503.4" cy="148.7" r="0.4" fill="#555"/><circle cx="492.1" cy="148.3" r="0.4" fill="#555"/><circle cx="489.8" cy="158.2" r="0.4" fill="#555"/><circle cx="490.8" cy="157.6" r="0.4" fill="#555"/><circle cx="512.3" cy="186.6" r="0.4" fill="#555"/><circle cx="516.6" cy="165.8" r="0.4" fill="#555"/><circle cx="488.8" cy="158.2" r="0.4" fill="#555"/><circle cx="494.4" cy="157.9" r="0.4" fill="#555"/><circle cx="506.0" cy="154.3" r="0.4" fill="#555"/><circle cx="483.2" cy="146.7" r="0.4" fill="#555"/><circle cx="496.4" cy="153.3" r="0.4" fill="#555"/><circle cx="514.2" cy="172.7" r="0.4" fill="#555"/><circle cx="476.0" cy="153.6" r="0.4" fill="#555"/><circle cx="498.7" cy="156.2" r="0.4" fill="#555"/><circle cx="485.2" cy="145.7" r="0.4" fill="#555"/><circle cx="505.0" cy="182.0" r="0.4" fill="#555"/><circle cx="514.9" cy="152.3" r="0.4" fill="#555"/><circle cx="509.6" cy="154.6" r="0.4" fill="#555"/><circle cx="514.9" cy="184.6" r="0.4" fill="#555"/><circle cx="482.9" cy="158.2" r="0.4" fill="#555"/><circle cx="503.7" cy="183.0" r="0.4" fill="#555"/><circle cx="512.6" cy="167.5" r="0.4" fill="#555"/><circle cx="515.6" cy="176.4" r="0.4" fill="#555"/><circle cx="496.4" cy="150.6" r="0.4" fill="#555"/><circle cx="482.6" cy="158.9" r="0.4" fill="#555"/><circle cx="479.6" cy="158.2" r="0.4" fill="#555"/><circle cx="504.3" cy="184.3" r="0.4" fill="#555"/><circle cx="485.5" cy="156.2" r="0.4" fill="#555"/><circle cx="514.2" cy="161.5" r="0.4" fill="#555"/><circle cx="509.6" cy="149.3" r="0.4" fill="#555"/><circle cx="489.5" cy="156.6" r="0.4" fill="#555"/><circle cx="497.1" cy="155.6" r="0.4" fill="#555"/><circle cx="499.4" cy="152.3" r="0.4" fill="#555"/><circle cx="514.2" cy="181.0" r="0.4" fill="#555"/><circle cx="473.0" cy="156.6" r="0.4" fill="#555"/><circle cx="496.4" cy="191.9" r="0.4" fill="#555"/><circle cx="474.0" cy="160.9" r="0.4" fill="#555"/><circle cx="513.9" cy="162.5" r="0.4" fill="#555"/><circle cx="514.2" cy="167.1" r="0.4" fill="#555"/><circle cx="512.6" cy="171.4" r="0.4" fill="#555"/><circle cx="501.0" cy="152.3" r="0.4" fill="#555"/><circle cx="492.1" cy="157.2" r="0.4" fill="#555"/><circle cx="489.5" cy="154.3" r="0.4" fill="#555"/><circle cx="464.4" cy="156.9" r="0.4" fill="#555"/><circle cx="477.0" cy="151.0" r="0.4" fill="#555"/><circle cx="510.0" cy="190.2" r="0.4" fill="#555"/><circle cx="515.2" cy="153.6" r="0.4" fill="#555"/>
<rect x="449.40" y="134.30" width="68.30" height="68.40" fill="none" stroke="#333" stroke-width="0.8"/>
<path d="M447.2 141.1h2.2M447.2 158.2h2.2M447.2 177.4h2.2M447.2 189.0h2.2M447.2 200.0h2.2M448.2 153.1h1.2M448.2 150.1h1.2M448.2 147.9h1.2M448.2 146.3h1.2M448.2 144.9h1.2M448.2 143.8h1.2M448.2 142.8h1.2M448.2 141.9h1.2M448.2 171.6h1.2M448.2 168.3h1.2M448.2 165.9h1.2M448.2 164.0h1.2M448.2 162.5h1.2M448.2 161.2h1.2M448.2 160.1h1.2M448.2 159.1h1.2M448.2 180.8h1.2M448.2 183.5h1.2M448.2 186.3h1.2M448.2 191.8h1.2M448.2 194.5h1.2M448.2 197.2h1.2M452.8 202.7v2.2M463.1 202.7v2.2M474.0 202.7v2.2M491.7 202.7v2.2M509.5 202.7v2.2M479.3 202.7v1.3M482.5 202.7v1.3M484.7 202.7v1.3M486.4 202.7v1.3M487.8 202.7v1.3M489.0 202.7v1.3M490.0 202.7v1.3M490.9 202.7v1.3M497.1 202.7v1.3M500.2 202.7v1.3M502.4 202.7v1.3M504.2 202.7v1.3M505.6 202.7v1.3M506.8 202.7v1.3M507.8 202.7v1.3M508.7 202.7v1.3M454.9 202.7v1.3M456.9 202.7v1.3M459.0 202.7v1.3M461.0 202.7v1.3M465.1 202.7v1.3M467.2 202.7v1.3M469.2 202.7v1.3M471.3 202.7v1.3" stroke="#222" stroke-width="0.7" fill="none"/>
<path d="M473.70,145.50L517.70,145.50L517.70,188.40L498.80,188.40M473.70,145.50L473.70,200.50L498.80,200.50L498.80,188.40" fill="none" stroke="#222" stroke-width="0.9"/>
<line x1="473.70" y1="164.20" x2="498.80" y2="188.40" stroke="#000" stroke-width="1.5"/>
<text x="491.40" y="143.58" font-size="7.2" font-weight="normal" fill="#000" textLength="11.40" lengthAdjust="spacingAndGlyphs">17.1</text>
<text x="501.00" y="199.08" font-size="7.2" font-weight="normal" fill="#000" textLength="13.60" lengthAdjust="spacingAndGlyphs">25.8</text>
<text x="460.15" y="131.00" font-size="9.0" font-weight="normal" fill="#333" textLength="46.30" lengthAdjust="spacingAndGlyphs">Tra 100 nM</text>
<path d="M293.3,267.6C294.0,264.5 294.9,264.3 296.7,263.9C298.5,263.5 302.5,263.8 304.0,265.0C305.5,266.2 305.2,265.9 305.5,271.3C305.8,276.6 306.4,292.1 306.0,297.0C305.6,301.9 304.8,300.1 303.3,300.7C301.9,301.3 299.0,301.3 297.3,300.7C295.6,300.1 293.8,300.1 293.0,297.0C292.2,294.0 292.2,287.2 292.3,282.3C292.4,277.4 292.6,270.6 293.3,267.6Z" fill="#000" fill-opacity="0.55" filter="url(#bl2)"/>
<path d="M292.8,268.3C293.3,263.0 295.5,264.5 296.1,265.0C296.8,265.5 296.6,266.0 296.7,271.3C296.8,276.5 296.7,291.5 296.7,296.3C296.7,301.1 297.3,299.8 296.7,300.0C296.1,300.1 293.9,302.3 293.3,297.0C292.7,291.7 292.3,273.7 292.8,268.3Z" fill="#000" fill-opacity="0.40" filter="url(#bl2)"/>
<path d="M303.5,271.3C304.1,267.0 303.4,267.7 307.2,271.4C310.9,275.1 323.2,288.8 326.0,293.5C328.8,298.2 327.1,298.3 324.0,299.5C320.9,300.7 310.9,301.1 307.5,300.7C304.1,300.3 304.2,301.9 303.5,297.0C302.8,292.1 302.9,275.5 303.5,271.3Z" fill="#000" fill-opacity="0.34" filter="url(#bl2)"/>
<path d="M298.5,296.7C302.6,295.3 318.6,292.0 323.0,292.5C327.4,293.0 329.1,298.1 325.0,299.5C320.9,300.9 302.9,301.2 298.5,300.7C294.1,300.2 294.4,298.1 298.5,296.7Z" fill="#000" fill-opacity="0.28" filter="url(#bl2)"/>
<path d="M296.5,275.9C296.9,274.3 297.3,274.2 298.2,274.0C299.1,273.8 301.1,274.0 301.9,274.6C302.6,275.2 302.4,275.0 302.6,277.7C302.8,280.4 303.0,288.1 302.9,290.6C302.7,293.0 302.2,292.1 301.5,292.4C300.8,292.7 299.4,292.7 298.5,292.4C297.6,292.1 296.8,292.1 296.4,290.6C295.9,289.0 296.0,285.7 296.0,283.2C296.0,280.8 296.1,277.4 296.5,275.9Z" fill="#fff" fill-opacity="0.40" filter="url(#bl2)"/>
<path d="M303.5,266.9C304.1,264.8 306.5,261.8 309.5,260.5C312.5,259.2 317.5,259.2 321.8,259.0C326.0,258.8 332.4,258.6 335.0,259.0C337.6,259.4 337.4,260.1 337.5,261.5C337.6,262.9 336.4,264.1 335.5,267.5C334.6,270.9 333.6,278.6 332.0,282.0C330.4,285.4 329.0,288.4 326.0,288.0C323.0,287.6 317.5,281.8 314.2,279.4C310.9,277.0 308.0,275.5 306.2,273.4C304.4,271.3 302.9,269.0 303.5,266.9Z" fill="#000" fill-opacity="0.27" filter="url(#bl2)"/>
<path d="M324.8,270.6C324.6,270.8 324.5,271.1 324.3,271.3C324.2,271.5 324.0,271.7 323.8,271.9C323.6,272.1 323.4,272.2 323.2,272.3C323.1,272.4 322.9,272.5 322.7,272.6C322.5,272.7 322.4,272.7 322.2,272.7C322.1,272.7 321.9,272.6 321.8,272.6C321.7,272.5 321.6,272.4 321.5,272.3C321.4,272.1 321.4,272.0 321.3,271.8C321.3,271.6 321.3,271.4 321.3,271.2C321.3,271.0 321.3,270.7 321.4,270.5C321.5,270.3 321.5,270.0 321.6,269.7C321.7,269.5 321.9,269.2 322.0,269.0C322.2,268.8 322.3,268.5 322.5,268.3C322.6,268.1 322.8,267.9 323.0,267.7C323.2,267.5 323.4,267.4 323.6,267.3C323.7,267.2 323.9,267.1 324.1,267.0C324.3,266.9 324.4,266.9 324.6,266.9C324.7,266.9 324.9,267.0 325.0,267.0C325.1,267.1 325.2,267.2 325.3,267.3C325.4,267.5 325.4,267.6 325.5,267.8C325.5,268.0 325.5,268.2 325.5,268.4C325.5,268.6 325.5,268.9 325.4,269.1C325.3,269.3 325.3,269.6 325.2,269.9C325.1,270.1 324.9,270.4 324.8,270.6Z" fill="#000" fill-opacity="0.50" filter="url(#bl2)"/>
<path d="M296.9 262.7l4.6 .5 2.3 .9 1.2 .9 2.6 5.2 11.7 14 6.2 6.8 .9 1.7 .2 2-.9 3.9-1.1 1.6-1.3 .6-2 .3-9.3 .6-6.9-.1-6.9 .7-3.3-.7-2.6-2.3-.9-1.7-.4-1.6-.9-12.6 .8-14.1 .6-2.4 1.4-2.3 2-1.5 2-.4M295.4 264l1.5-.3 2.3 .2 2.2 .7 1.7 1 .7 1 1.3 3.3 9.6 10.9 3.8 5.3 5.9 5.6 .9 1.6 .1 1.7-.5 2.6-1 1.5-2 .8-5.9 .6-4.9 .2-6-.1-6.6 .7-3-.4-2.3-1.9-.9-1.4-.4-1.6-.9-12.9 .6-13.2 .4-2 .8-1.6 1.4-1.6 1.2-.7M295.5 264.3l1.4-.2 1.9 .3 2 .6 1.5 1 .6 .9 .9 3 2.6 2.3 3 4.3 4.6 4.6 3.4 6 6.6 4.9 .8 1.3 .1 1.7-.4 2.3-.9 1.5-1.7 .6-6.6 .7-10.5 0-6.3 .9-3-.5-2.2-1.9-.8-1.3-.4-1.6-.8-12.6 .6-12.9 .3-1.9 .7-1.7 1.3-1.5 1.3-.8M300.5 279.5l-1 2.2-.3 3.1 .5 3.6 .5 1 .6 .4 .7-.4 .4-1 .3-3.6-.7-4.2-.6-1.1-.4 0M295.3 264.6l1.2-.3 1.7 .2 3.3 1.5 .7 .9 .9 3.6 2.9 2.1 3.2 5.2 3.2 2.5 1.6 1.8 .8 2 .4 3.3 .8 1.5 1.7 1.1 4.2 .9 1.9 1.5 .7 1.3 .1 1.6-.4 2-.9 1.3-1.7 .6-6.6 .7-10.2-.1-6.3 .9-2.6-.3-2.4-1.8-.8-1.3-.4-1.6-.8-14.9 .8-12.2 1.1-2.3 1.9-1.7M300.8 276.8l-.6 .5-.7 1.9-.8 4.9 .5 5 .6 1.3 1 .6 .8-.3 .6-1 .6-4.3-1-7-.3-1.1-.7-.5M295.7 264.6l2.8 .2 2.9 1.5 .5 1 .7 3.6 2.5 1.4 1 1 3 6 2.6 1.3 1.6 1.5 .7 2.3-1.2 4.7 3.5 1.8 5 .2 2.3 1.3 .7 1.3 .1 1.3-.3 2-.8 1.3-1.7 .7-6.6 .7-3.9 .2-6.3-.2-6.3 .9-2.6-.3-2.2-1.7-1.2-2.6-.9-13.2 .6-12.6 .2-1.6 .7-1.7 1.1-1.4 1.5-.9M300.5 275.8l-.8 1.4-.9 3.5-.3 4.7 .7 4.6 1 1.3 1 .3 .9-.8 .6-1.4 .4-5-1.2-7.9-.7-.9-.7 .2M310.1 289l-.7 .5-.7 1.2-.1 1.3 .5 .5 1.7-.5 1.4-2 .1-.6-.4-.3-1.8-.1M296.1 264.6l2.5 .4 2.4 1.3 .7 1.3 .1 2.6 .5 1.4 .5 .4 2 .6 1.1 .9 3.1 7.3 2.7 .7 1.1 1.3 .2 1-.5 1.3-2.8 1.7-1 1.4-.8 2.8 .2 1.8 .6 .4 1 0 4.7-1.8 7.5 .2 1.4 .8 .9 1.6-.2 2.6-1 1.7-1.7 .6-6.6 .7-9.9-.1-6.6 1-2.7-.5-1.9-1.6-1.1-2.7-.8-12.9 .6-12.9 .2-1.6 .9-1.7 1.2-1.3 1.5-.7M301.2 274.7l-1 .8-.7 1.3-1 4.7-.2 2.6 .5 5.6 1 1.7 1.4 .6 .9-.6 .7-1.3 .6-4.7-1.2-9.2-.4-1.1-.6-.4M295.4 265l1.5-.3 2.1 .6 1.6 1 .7 1.3 .4 5.3-2.2 3.2-1.3 6.7 .2 5.9 1.1 2.8 1 .8 1 .1 1-.9 .6-1.5 .5-5.6-1.3-10.5 .3-.7 .5-.3 1.4 0 1.2 1 .9 1.6 2.4 8.3-1.6 7 .2 2.2 1.5 .7 5.3-1.7 7.5-.2 1.4 .8 .7 1.4-.1 2.3-1 1.8-1.3 .5-6.9 .9-9.9-.1-6.3 1-2.6-.3-2-1.5-.9-1.3-.4-1.6-.9-14.9 .8-11.9 1-2.3 1.9-1.6M295.7 265l1.5-.1 1.9 .7 1.3 1 .5 1.3-.2 4.7-1.5 3.6-1.2 6.6 .3 6.3 .4 1.6 .8 1.3 1.3 1 1 0 .9-1 .7-1.6 .6-5.6-.9-9.3 .4-1.4 1-.4 .9 .7 1 2 1.1 6.7 .1 2.7-.9 5.9 .4 1.6 .9 .7 1.1 .1 5.6-1.6 7.2-.3 1.4 .8 .5 1.3-.2 2.3-1 1.4-1.3 .4-6.6 .9-9.9-.1-6.6 1-2.7-.4-1.7-1.5-1.1-2.6-.9-13.2 .6-12.3 .3-1.9 .7-1.4 1.2-1.3 1.1-.6M295.3 265.3l1.6-.3 1.7 .6 1.2 1 .6 1.3-.2 4-1.4 4.5-1 6.7 .4 6.6 1.3 2.9 1.3 1 1 .1 1-.7 .9-2 .7-6.2-.8-8 .4-1.6 .8-.3 1 1.3 .6 3 .4 6.2-.7 6.6 .5 1.7 1.2 .7 1.3 .2 5.6-1.6 7.2-.5 1 .6 .6 1.2-.1 2-.8 1.3-1.3 .5-6.6 1-3.3 .2-6.9-.3-6.3 1.1-2.3-.3-2-1.5-.8-1.3-.3-1.3-.8-14.9 .7-11.9 .9-2 1.7-1.6M295.5 265.3l1.4-.1 1.2 .4 1.3 1 .5 1.3-.2 4.3-1.2 4.8-.8 6.4 .3 6.3 .5 1.8 1 1.6 1.3 1.1 1.3 0 1.2-.9 1-1.9 .9-6.3-1.1-6.6 .1-1.7 .6-.6 .6 .8 .4 1.8 .1 7.9-.5 5.3 .6 1.7 1.3 1 1.4 .2 6-1.6 7.2-.4 1 .7 .4 1.1-.2 1.6-.7 1-1.4 .6-6.5 1.1-10-.3-4.3 1.1-2.3 .2-2-.3-1.9-1.4-.8-1.3-.3-1.3-.8-14.9 .7-11.9 1.1-2.3 1.6-1.3M296.1 265.3l2.2 .7 .9 .9 .3 1-.1 4.3-1.1 5-.8 6.6 .4 6.2 .6 2.1 1 1.6 1 .9 1.3 .2 3-1.3 2.3 1.5 1.6 .3 6-1.6 6.9-.5 .9 .5 .4 1-.1 1.3-.6 1-1.2 .5-6 1.2-3.3 .2-7.6-.4-3.9 1.1-2.3 .2-2-.2-1.7-1.3-.9-1.3-.3-1.3-.9-13.2 .6-12.3 .2-1.6 .8-1.7 1.2-1.1 1.2-.5M295.5 265.6l1-.1 1.2 .5 .9 .9 .3 1 0 4.3-1.4 8.9-.2 3.3 .4 6.3 .8 2.2 1 1.7 1 .7 1.3 .3 3-.9 2.6 1.1 1.3 .2 6-1.8 6.6-.2 .6 .3 .3 .7-.6 1.3-6.7 2-2.9 .2-4.2-.5-4 .1-3.5 1.2-2.6 .3-1.8-.2-1.7-1.3-1-2.4-.9-14.9 .7-11.9 .9-2 1.6-1.3M295.2 266l1-.3 1.1 .3 .9 .9 .4 1.4 0 4.3-1.5 10.8 .3 6.3 .8 3.2 1 2 1.3 .9 1.6 .4 3-.8 1.3 .6 .9 1-1.5 .6-3 .1-2.4 1.3-3.2 .5-2-.6-1-.9-.7-1.4-1.1-13.8 .7-13.5 .7-2 1.4-1.3M314.7 294.7l2.6 0 1.9 .6-.1 .7-1.3 1-1.8 .7-2.6 .4-2.1-.1-1.7-.7-.1-.3 1-.7 4.2-1.6M295.5 266l1-.1 1 .6 .5 .8 .3 1.6 0 4-1.3 9.9 .3 7.9 1.5 4.4 2.8 2.2-.3 .7-1 .6-3.1 .7-2.1-.7-1-1-.6-1.3-.9-13.8 .6-13.2 .8-2 1.5-1.3M315 295.3l1.6 .4 .2 .3-.5 .6-2.3 .7-1.8-.3 .8-1 2-.7M295.8 266.3l.7 .1 .7 .5 .4 1.7 .1 5.3-1.1 8.9 .1 6.3 1.2 5.6 1.3 2.9-.7 .7-1.6 .6-1.7-.6-1.4-2-1-14.5 .7-12.5 .9-2 1.4-1M295.5 266.9l.7 .1 .5 .6 .5 4-.2 4.6-.9 6.3 0 6.9 1.5 7.6-.4 1-.7 .3-1.4-.7-.9-1.6 .1-4.6-1.1-9.6 .6-12.2 .6-1.7 1.1-1M295.4 267.6l.8 .3 .2 .7 .4 5.6-.3 3.2-.9 4.7-.1 5.6-.3 1.6-.3 .1-.9-3.6-.4-5.7 .6-10.5 .4-1.1 .8-.9M295.2 292.4l.3 0 .4 .5 .9 3.1-.1 1.3-.5 .4-1-.5-.5-1.2 .5-3.6M295 269.3l.5-.4 .4 .8 .4 5.5-.4 3-1.3 2.9-.5-3.9 .9-7.9" fill="none" stroke="#000" stroke-opacity="0.55" stroke-width="0.35" stroke-linejoin="round"/>
<path d="M320.2 257l4.4-.2 10.2 .6 2.7 1.6 1.3 2.7-.2 2.9-1.8 5.4-3.3 12.5-1.1 1.9-1.9 2-2 1.4-1.9 .8-2.3 0-2-.8-9.3-6.5-7.9-6.4-1.6-2.3-.9-2.7-.1-2.6 .7-2.3 1.9-2.8 2.7-2.4 3.6-1.6 8.8-1.2M320.8 258.4l3.5-.3 5.2 .6 4.7 .1 2.3 1.2 .9 2-.1 2.3-3.6 10.9-1.5 6.9-1 1.7-1.7 1.8-1.6 1.1-1.7 .6-1.9-.1-2-.9-15.2-11.4-2-2.1-1.1-2.9-.1-2.3 .8-2.3 1.9-2.6 2.1-1.9 3-1.2 9.1-1.2M320.9 259.4l3.4-.3 5.2 .8 4.3-.1 1.7 .7 .9 1.5-.2 2.6-3.8 10.9-1.1 6.3-2.1 3-1.3 1-1.7 .6-1.6 0-2-.8-14.8-11.2-1.8-1.8-1.1-2.7 0-2 .6-1.9 1.6-2.5 2-1.8 2.9-1.2 8.9-1.1M320 260.3l3.9-.3 5.6 .8 4-.2 1.3 .5 .8 1.2-.3 2.7-3.8 10.2-1 6.6-1.9 2.6-2.4 1.4-1.7 0-1.9-1-3.6-3.2-11.2-8.1-1.4-1.6-.6-1.7-.1-1.9 .6-2 1.4-2.3 1.7-1.7 2.6-1.1 8-.9M321.1 261l3.5-.1 5.3 .7 3.3-.1 1.1 .5 .5 1-.2 1.6-1.2 4-2.7 6.3-1 6.9-1.6 2.3-2.2 1.2-1.3-.1-1.3-.6-4-3.7-10.9-7.7-1.2-1.3-.7-1.7-.1-1.9 .7-2 1.3-2.2 1.7-1.4 2.3-.8 8.7-.9M322.7 261.7l10.1 .8 .7 .3 .4 .8-1.1 5-2.9 6.3-1 6.9-1.3 2-2 .9-2-.6-3.4-3.6-4.5-2.7-6.8-4.9-1.2-1.3-.5-1.7 .1-2 .7-1.9 1-1.7 1.4-1.1 2-.7 4.6-.1 5.7-.7M319.7 262.7l3.2-.4 4.3 .2 4.6 .7 .9 .4 .3 .7 0 1.7-.6 2.6-3.1 5.9-1.3 7.3-.8 1.3-1.3 .9-1.6-.2-2.3-3.3-7-3.8-5.5-4.1-1.4-2-.2-1.7 .5-2.3 .9-1.6 1.1-1.1 2-.7 7.3-.5M321.4 263l4.2-.1 3.3 .3 2.6 .7 .9 1.1 0 1.6-.6 2.3-2.8 5-1.2 4.3-1.5 2.6 0 1.7-.7 .5-.9-.5 .6-1.7-.2-.3-9.4-3.8-5.7-4.5-1.2-2 .3-3.6 .6-1.3 1.1-1 1.9-.6 4.6-.1 4.1-.6M325 263.3l2.9 .2 2.3 .5 1.3 .9 .4 1.1-.1 1.6-.6 1.7-2.6 3.9-1.4 3.9-1 1.1-1.3 .4-2-.1-5.9-1.7-3.5-2.3-3.3-3.3-.5-1.6 .1-2.3 .6-1.6 1-.9 1.7-.5 11.9-1M323.5 264l3.1-.1 2.3 .3 1.5 .8 .8 1.3 0 1.3-.6 1.7-2.9 3.9-1.2 2.7-.9 1.1-1.3 .4-1.7 0-5.3-1.2-2.9-1.7-2.9-2.9-.7-1.7-.1-2 .4-1.3 .9-1 2-.6 4.6-.3 4.9-.7M323.2 264.6l3-.2 2.3 .4 1.5 .8 .5 1.3-.1 1.4-.7 1.3-3 3.3-2.1 3-2.7 .5-4.2-.8-3-1.7-2.2-2.3-.6-1.4-.1-1.6 .3-1.3 .9-1 1.7-.6 4.3-.3 4.2-.8M323.1 265.3l2.5-.3 2.3 .3 1.3 .7 .5 1.3-.2 1.2-.6 1.1-5.5 5.3-2.1 .5-3.3-.6-2.5-1.3-2-1.9-.6-1.4-.1-1.3 .2-1.1 .8-.9 1.5-.5 4.3-.2 3.5-.9M324.2 265.6l1.7 .1 2 .6 .6 .6 .1 1-.7 1.4-4.6 4.4-2 .4-3.3-.4-2.3-1.1-1.4-1.7-.3-2 1-1.3 1.3-.3 3.7 0 4.2-1.7M323.3 266.3l2.3-.2 1.2 .8 .4 1-1.2 2.7-2.4 2.4-1 .4-1.3-.1-2-1.1-2.3-.6-1-1-.2-1 .5-.5 3.3 .1 2.3-2.1 1.4-.8M324.2 267.3l.7 .1 .5 .5-.3 1.7-1.7 2-.8 .4-.7-.1-.5-1 .4-1.3 1.2-1.7 1.2-.6" fill="none" stroke="#000" stroke-opacity="0.5" stroke-width="0.35" stroke-linejoin="round"/>
<circle cx="313.7" cy="255.4" r="0.4" fill="#555"/><circle cx="328.2" cy="294.7" r="0.4" fill="#555"/><circle cx="337.8" cy="255.1" r="0.4" fill="#555"/><circle cx="338.1" cy="278.8" r="0.4" fill="#555"/><circle cx="337.5" cy="285.1" r="0.4" fill="#555"/><circle cx="327.6" cy="256.1" r="0.4" fill="#555"/><circle cx="308.1" cy="257.0" r="0.4" fill="#555"/><circle cx="347.0" cy="255.7" r="0.4" fill="#555"/><circle cx="313.4" cy="251.4" r="0.4" fill="#555"/><circle cx="305.8" cy="258.4" r="0.4" fill="#555"/><circle cx="321.9" cy="254.1" r="0.4" fill="#555"/><circle cx="313.4" cy="254.4" r="0.4" fill="#555"/><circle cx="322.3" cy="253.1" r="0.4" fill="#555"/><circle cx="300.5" cy="253.4" r="0.4" fill="#555"/><circle cx="335.8" cy="280.8" r="0.4" fill="#555"/><circle cx="308.7" cy="256.7" r="0.4" fill="#555"/><circle cx="311.1" cy="254.4" r="0.4" fill="#555"/><circle cx="348.3" cy="264.0" r="0.4" fill="#555"/><circle cx="344.7" cy="265.3" r="0.4" fill="#555"/><circle cx="340.1" cy="268.9" r="0.4" fill="#555"/><circle cx="340.1" cy="288.1" r="0.4" fill="#555"/><circle cx="318.3" cy="252.4" r="0.4" fill="#555"/><circle cx="340.4" cy="255.7" r="0.4" fill="#555"/><circle cx="321.6" cy="254.7" r="0.4" fill="#555"/><circle cx="312.4" cy="247.8" r="0.4" fill="#555"/><circle cx="316.3" cy="253.1" r="0.4" fill="#555"/><circle cx="332.2" cy="256.1" r="0.4" fill="#555"/><circle cx="330.2" cy="256.1" r="0.4" fill="#555"/><circle cx="339.1" cy="266.6" r="0.4" fill="#555"/><circle cx="310.4" cy="257.4" r="0.4" fill="#555"/><circle cx="342.7" cy="265.6" r="0.4" fill="#555"/><circle cx="324.6" cy="253.7" r="0.4" fill="#555"/><circle cx="315.0" cy="252.1" r="0.4" fill="#555"/><circle cx="317.0" cy="255.4" r="0.4" fill="#555"/><circle cx="316.7" cy="251.1" r="0.4" fill="#555"/><circle cx="330.2" cy="255.7" r="0.4" fill="#555"/><circle cx="305.8" cy="257.7" r="0.4" fill="#555"/><circle cx="343.4" cy="273.9" r="0.4" fill="#555"/><circle cx="342.7" cy="284.8" r="0.4" fill="#555"/><circle cx="330.2" cy="249.5" r="0.4" fill="#555"/><circle cx="327.2" cy="291.4" r="0.4" fill="#555"/><circle cx="336.8" cy="274.2" r="0.4" fill="#555"/><circle cx="336.1" cy="294.7" r="0.4" fill="#555"/><circle cx="310.7" cy="251.8" r="0.4" fill="#555"/><circle cx="305.4" cy="256.1" r="0.4" fill="#555"/><circle cx="302.8" cy="259.4" r="0.4" fill="#555"/><circle cx="340.4" cy="275.9" r="0.4" fill="#555"/><circle cx="325.2" cy="255.1" r="0.4" fill="#555"/><circle cx="306.8" cy="257.4" r="0.4" fill="#555"/><circle cx="307.1" cy="254.7" r="0.4" fill="#555"/><circle cx="305.1" cy="257.4" r="0.4" fill="#555"/><circle cx="302.5" cy="259.7" r="0.4" fill="#555"/><circle cx="294.6" cy="262.3" r="0.4" fill="#555"/><circle cx="342.4" cy="272.9" r="0.4" fill="#555"/><circle cx="322.6" cy="254.1" r="0.4" fill="#555"/><circle cx="341.4" cy="267.6" r="0.4" fill="#555"/><circle cx="331.5" cy="250.8" r="0.4" fill="#555"/><circle cx="342.4" cy="266.0" r="0.4" fill="#555"/><circle cx="303.5" cy="257.7" r="0.4" fill="#555"/><circle cx="317.0" cy="252.1" r="0.4" fill="#555"/><circle cx="312.4" cy="254.4" r="0.4" fill="#555"/><circle cx="316.0" cy="250.1" r="0.4" fill="#555"/><circle cx="344.4" cy="255.7" r="0.4" fill="#555"/><circle cx="307.1" cy="256.4" r="0.4" fill="#555"/><circle cx="307.8" cy="258.7" r="0.4" fill="#555"/><circle cx="332.5" cy="250.1" r="0.4" fill="#555"/><circle cx="337.5" cy="273.9" r="0.4" fill="#555"/><circle cx="338.4" cy="255.1" r="0.4" fill="#555"/><circle cx="317.7" cy="254.7" r="0.4" fill="#555"/><circle cx="335.1" cy="286.7" r="0.4" fill="#555"/>
<rect x="280.20" y="238.40" width="68.70" height="68.40" fill="none" stroke="#333" stroke-width="0.8"/>
<path d="M278.0 245.2h2.2M278.0 262.3h2.2M278.0 281.5h2.2M278.0 293.1h2.2M278.0 304.1h2.2M279.0 257.2h1.2M279.0 254.2h1.2M279.0 252.0h1.2M279.0 250.4h1.2M279.0 249.0h1.2M279.0 247.9h1.2M279.0 246.9h1.2M279.0 246.0h1.2M279.0 275.7h1.2M279.0 272.4h1.2M279.0 270.0h1.2M279.0 268.1h1.2M279.0 266.6h1.2M279.0 265.3h1.2M279.0 264.2h1.2M279.0 263.2h1.2M279.0 284.9h1.2M279.0 287.6h1.2M279.0 290.4h1.2M279.0 295.9h1.2M279.0 298.6h1.2M279.0 301.3h1.2M283.6 306.8v2.2M293.9 306.8v2.2M304.9 306.8v2.2M322.8 306.8v2.2M340.7 306.8v2.2M310.3 306.8v1.3M313.5 306.8v1.3M315.7 306.8v1.3M317.4 306.8v1.3M318.8 306.8v1.3M320.0 306.8v1.3M321.1 306.8v1.3M322.0 306.8v1.3M328.2 306.8v1.3M331.3 306.8v1.3M333.5 306.8v1.3M335.3 306.8v1.3M336.7 306.8v1.3M337.9 306.8v1.3M338.9 306.8v1.3M339.8 306.8v1.3M285.7 306.8v1.3M287.8 306.8v1.3M289.8 306.8v1.3M291.9 306.8v1.3M296.0 306.8v1.3M298.1 306.8v1.3M300.1 306.8v1.3M302.2 306.8v1.3" stroke="#222" stroke-width="0.7" fill="none"/>
<path d="M304.20,249.50L348.90,249.50L348.90,292.00L329.00,292.00M304.20,249.50L304.20,304.50L329.00,304.50L329.00,292.00" fill="none" stroke="#222" stroke-width="0.9"/>
<line x1="304.20" y1="267.40" x2="329.00" y2="292.00" stroke="#000" stroke-width="1.5"/>
<text x="321.30" y="247.43" font-size="7.2" font-weight="normal" fill="#000" textLength="14.20" lengthAdjust="spacingAndGlyphs">23.8</text>
<text x="331.15" y="304.08" font-size="7.2" font-weight="normal" fill="#000" textLength="13.70" lengthAdjust="spacingAndGlyphs">23.5</text>
<text x="294.10" y="234.70" font-size="9.0" font-weight="normal" fill="#333" textLength="41.20" lengthAdjust="spacingAndGlyphs">Tase 1 nM</text>
<path d="M374.6,267.6C375.4,264.5 376.4,264.3 378.4,263.9C380.4,263.5 384.9,263.8 386.5,265.0C388.1,266.2 387.7,265.9 388.0,271.3C388.3,276.6 388.9,292.1 388.5,297.0C388.1,301.9 387.2,300.1 385.7,300.7C384.1,301.3 381.0,301.3 379.1,300.7C377.2,300.1 375.2,300.1 374.3,297.0C373.4,294.0 373.6,287.2 373.6,282.3C373.7,277.4 373.8,270.6 374.6,267.6Z" fill="#000" fill-opacity="0.70" filter="url(#bl2)"/>
<path d="M374.1,268.3C374.6,263.0 377.0,264.5 377.8,265.0C378.5,265.5 378.3,266.0 378.4,271.3C378.5,276.5 378.4,291.5 378.4,296.3C378.4,301.1 379.1,299.8 378.4,300.0C377.8,300.1 375.3,302.3 374.6,297.0C373.9,291.7 373.6,273.7 374.1,268.3Z" fill="#000" fill-opacity="0.40" filter="url(#bl2)"/>
<path d="M386.0,271.3C386.6,267.0 386.0,267.9 389.8,271.7C393.6,275.5 406.1,289.3 409.0,293.9C411.9,298.5 410.2,298.4 407.0,299.5C403.8,300.6 393.5,301.1 390.0,300.7C386.5,300.3 386.7,301.9 386.0,297.0C385.3,292.1 385.4,275.5 386.0,271.3Z" fill="#000" fill-opacity="0.34" filter="url(#bl2)"/>
<path d="M380.4,296.7C384.7,295.4 401.4,292.4 406.0,292.9C410.6,293.4 412.3,298.2 408.0,299.5C403.7,300.8 385.0,301.2 380.4,300.7C375.8,300.2 376.1,298.0 380.4,296.7Z" fill="#000" fill-opacity="0.28" filter="url(#bl2)"/>
<path d="M378.2,275.9C378.6,274.3 379.1,274.2 380.1,274.0C381.1,273.8 383.3,274.0 384.1,274.6C384.9,275.2 384.7,275.0 384.9,277.7C385.0,280.4 385.3,288.1 385.1,290.6C384.9,293.0 384.5,292.1 383.7,292.4C382.9,292.7 381.3,292.7 380.4,292.4C379.5,292.1 378.5,292.1 378.0,290.6C377.6,289.0 377.6,285.7 377.7,283.2C377.7,280.8 377.8,277.4 378.2,275.9Z" fill="#fff" fill-opacity="0.00" filter="url(#bl2)"/>
<path d="M376.7,272.5C377.3,270.4 378.0,270.3 379.4,270.0C380.8,269.7 383.9,269.9 385.1,270.7C386.2,271.6 385.9,271.4 386.1,275.1C386.3,278.9 386.7,289.7 386.5,293.2C386.2,296.6 385.6,295.3 384.5,295.7C383.4,296.2 381.2,296.2 379.9,295.7C378.5,295.3 377.2,295.3 376.5,293.2C375.9,291.0 376.0,286.3 376.0,282.9C376.1,279.4 376.2,274.7 376.7,272.5Z" fill="#000" fill-opacity="0.35" filter="url(#bl2)"/>
<path d="M386.0,266.9C386.5,265.4 389.5,265.1 392.0,264.5C394.5,263.9 397.7,263.2 400.8,263.0C403.8,262.8 408.5,262.6 410.5,263.0C412.5,263.4 412.9,264.1 413.0,265.5C413.1,266.9 410.7,268.7 411.0,271.5C411.3,274.3 415.3,279.6 415.0,282.4C414.7,285.2 412.0,288.8 409.0,288.4C406.0,287.9 400.2,282.1 396.8,279.7C393.4,277.2 390.6,275.8 388.8,273.7C387.0,271.6 385.5,268.4 386.0,266.9Z" fill="#000" fill-opacity="0.08" filter="url(#bl2)"/>
<path d="M376.9 262.9l2.3-.2 3.3 .5 3.3 1 1.6 1.2 2.4 4.8 18.8 22.4 .6 1.7 .1 2-.6 2.6-.9 1.3-2.5 .9-16.9 .2-8.2 .9-3.3-.6-2.9-2.4-1.4-2.6-.5-4.6-.4-9.9 .5-12.2 .3-2 .9-2 1.7-2 1.8-1M376.9 263.9l2-.2 2.9 .6 2.3 .9 1.4 1 1.7 3.3 2.9 3 2.8 4 8.2 9.5 2.9 4 3.5 3.3 .5 1.3 .1 1.7-.2 1.7-.7 1.2-.9 .6-1.4 .3-14.8-.1-9.9 1.2-3-.5-2.6-2.1-1.2-2.3-.4-4-.4-10.2 .4-12.6 .4-1.9 .7-1.4 1.5-1.5 1.3-.8M377.1 264.3l1.4-.2 2.3 .4 2 .8 1.4 .9 1.6 3.4 3.8 3.2 3.1 5.4 7.3 8.8 1.3 3 .7 .7 3.6 1.6 1.3 1.2 .8 2.8-.2 1.6-.6 1-1 .6-1.6 .2-12.9-.4-11.2 1.5-3-.5-2.5-2-1.1-2.4-.4-4.6-.3-9.2 .4-12.6 .4-1.9 .8-1.4 1.3-1.3 1.3-.6M394 289.6l-.9 .7-.4 1 0 1 .7 .6 2.8-.6 1.6-1 .4-.6-.4-.7-.8-.4-3 0M377.4 264.3l1.5-.1 1.9 .5 3.1 1.5 1.6 3.7 2.9 2 1.2 1.3 3.3 6.6 4.5 5.9 0 .7-.4 .2-1.6 0-1-.7-1.5-2.5-.5-.1-.7 .5-.8 2.6 1 6.6 .8 .5 1.3 .1 7-2.1 3.6 .5 1.7 1 1 1.6 .2 2.7-.8 1.6-1.1 .5-1.3 .2-12.6-.6-4.9 .6-4.4 1-2.5 .1-2.7-.5-2.4-1.9-1-2-.5-4.3-.3-9.9 .3-12.6 .4-1.6 .9-1.7 1.3-1.2 1.5-.7M376.8 264.6l2.4-.1 3.7 1.4 1.1 1.3 1.1 3.6 3 1.3 1.6 2.1 .9 2.3 .3 2.3-1.2 7.9 1 6.3 .4 .8 1 .6 1.3 .2 6.9-2.1 2.7-.2 1.6 .2 1.7 1 .8 1.5 .1 2.3-.6 1.4-1 .5-1.7 .2-5.9-.2-5.9-.7-9.6 1.8-2.6 .2-2.7-.5-2.2-1.7-1.2-2.4-.3-3.9-.4-9.9 .3-12.2 .9-3 1.3-1.5 1.2-.8M377.5 264.6l1.4 0 1.9 .7 2.3 1.6 .5 1.3 .5 6.2 1.4-1.7 1.3-.5 1.3 .5 1.1 1.5 .5 1.9 .1 2.7-1.1 7.6 1.2 6.9 .5 1.1 1.3 1.2 1.4 .4 6.2-2.5 3.3-.6 2 .1 1.3 .7 .9 1.6 .1 2-.6 1.2-1.7 .6-6.3-.3-1.9-.3-3.7-1.3-3.3 1.2-6.6 1.6-3.3 .2-2.3-.4-2.2-1.9-1-2-.4-4.9-.3-9.2 .3-12.3 .4-1.6 .9-1.6 1.3-1.2 1.3-.5M376.8 264.9l1.4-.2 1.7 .4 1.9 1 1 1.1 .3 2-.4 5.6 .5 1.7 .9 1.6 .7-.4 1.1-3.9 .6-.8 .6-.2 1 .5 1 2.2 0 4.9-1.3 6 1.2 3.9 .4 3.3 1.5 3-.3 .7-1.5 .8-6.9 1.8-3.7 .1-1.6-.5-2.1-1.9-.8-2.3-.6-12.9 .3-12.9 .9-2.6 2.2-2M384.8 282.6l-.3 .2-.1 1.6 .7 2 .5-.4 .1-.9-.9-2.5M402.6 293.3l2.3 .1 1.4 1.1 .5 2.4-.3 1-.7 .7-1.9 .3-5.6-.4-2.1-.6-1.1-1 .2-1 2-1.3 5.3-1.3M377.1 264.9l1.4-.1 1.4 .5 1.7 .9 .9 1 .3 2-.6 5.6 1.3 5 .1 3.9 .5 3.7 .7 1.8 .3 0 1.7-1.5 1 .8 .9 2.2 .4 2.9 1.2 2.7-.4 1-1.1 .6-7 2-3.3 0-1.6-.5-2-1.9-.8-2.2-.6-12.9 .3-12.9 .9-2.6 1.2-1.3 1.2-.7M386.8 273.5l.6-.1 .9 .8 .6 2.9-.4 4.7-.7 1.8-.7 .6-1-1.5-.8-2.9 1-5.3 .5-1M402 293.6l2.6 0 1.3 .8 .7 2.2-.7 1.7-1.6 .4-5.3-.3-2-.5-.9-.6-.1-1 .9-1 2.1-1 3-.7M377.4 264.9l1.5 .1 2 .9 1 1 .4 1-.5 6.9 1.1 5 .9 9.5-.1 4.7 .8 .7 1-.5 .5-3.9 .5-.7 .6-.3 1 1.1 .6 3.2 1.1 2.7-.5 1-.9 .5-6.9 2-3 0-1.6-.5-2.1-2-.7-2.3-.6-12.9 .4-12.9 1.1-2.6 1.2-1.2 1.2-.5M387.4 274.2l.5 .3 .4 1 .2 3.6-.4 2.3-1 1.1-.9-1.4-.2-2 .8-4.3 .6-.6M401.6 294l2.7-.2 1.3 .6 .8 1.9-.4 1.6-1.1 .6-1.6 0-4.6-.4-1.8-.8-.2-1 .9-1 4-1.3M376.7 265.3l1.5-.3 1.8 .6 1.3 1 .6 1.3-.6 6.9 1 5 .9 8.9-.1 5.6 1 1 1.4-.1 1-1.2 .5-2.3 .4-.2 .6 2.1 1.2 2.3-.1 .8-.7 .7-2.9 .7-3.7 1.5-3.3 .1-1.6-.5-2-1.9-.7-2-.6-12.9 .3-12.9 .7-2.3 2.1-1.9M387.4 277.5l.3 1.6-.3 1.1-.3 0-.2-1.4 .5-1.3M401.6 294.3l2.3-.3 1.4 .5 .8 1.4-.2 1.8-.9 .6-1.4 0-3.9-.4-1.8-.6-.4-.7 .6-1 3.5-1.3M377.1 265.3l1.1-.2 1.3 .5 1.3 1 .6 1.3-.6 6.9 1.7 13.2 0 6.6 1 1.2 1.6 .8 2-1.5 .7 .1 .5 .7-.6 1-2.2 .1-1.8 1.6-2.2 .8-3 .1-1.6-.5-1.8-1.7-.8-2.3-.5-12.6 .2-12.9 1-2.6 2.1-1.6M402.9 294.6l1.5 0 1 .7 .4 1.3-.5 1.1-1.4 .3-2.7-.4-1.3-.3-.9-.7 .7-1 3.2-1M376.7 265.6l1.2-.3 1.3 .4 1 .9 .6 1.3-.4 6.9 1.5 13.2-.3 6 .4 1.3 1.6 2-.2 .6-.9 .8-3.6 .6-2-.5-1.7-1.6-.6-1.6-.4-3.3-.3-10.2 .3-12.6 .7-2.3 1.8-1.6M403.3 295.6l1.3 .2 .3 .5-.2 .6-1.1 .2-1.2-.5 .1-.7 .8-.3M376.6 265.9l.9-.3 1.2 .3 1 1 .4 1-.3 7.3 1.1 12.5-.2 6.6 .3 1.3 .9 1.7-.2 .6-.5 .3-2.7 .7-1.6-.5-1.7-1.7-.4-1.4-.4-3.6-.2-9.6 .2-12.6 .6-1.9 1.6-1.7M376.7 266.2l.8-.2 1 .4 .7 .8 .2 1.4-.3 6.6 .9 11.8-.1 9.6-.6 1.3-1.1 .5-1.6-.7-1.2-1.4-.7-6-.2-8.2 .2-12.6 .6-1.9 1.4-1.4M377.1 266.6l1.2 .3 .5 1.3-.3 7.3 .8 11.5-.3 9.3-.4 1-.7 .4-1.3-.6-1-1.7-.7-9.4 .2-16.8 .7-1.6 1.3-1M376.7 267.2l.5-.1 .7 .2 .4 1.6-.4 6.9 .9 13.2-.4 6.6-.4 1-.5 .3-.9-.6-.7-1.5-.7-8.4 .4-8.9-.1-8 .3-1.3 .9-1M376.5 267.9l.7-.3 .3 .2 .4 1.1-.7 6.9 1.2 10.6-.5 7.9-.4 1.3-.3 .1-.6-.7-.4-1.3-.6-7.3 0-4 .7-5.6-.4-7.3 .6-1.6M376.6 268.9l.3-.3 .2 .3-.2 1.3-.3-.3 0-1M376.5 281.4l.4-.2 .3 .5 .7 4-.1 4-.6 2.9-.3 0-.3-.9-.6-4 0-3.6 .5-2.7" fill="none" stroke="#000" stroke-opacity="0.55" stroke-width="0.35" stroke-linejoin="round"/>
<path d="M403 260.6l4.6-.2 2.9 .6 2.4 1.6 1.4 2.7 0 6.9 2.3 7.9 0 2.6-.8 2-1.6 1.9-2 1.6-2.3 1-2.3 .1-2.3-.8-11.9-7.8-5.5-4.9-1.5-2.3-1-2.6-.3-2 .3-2 .8-1.3 1.6-1.2 5.6-2.2 9.6-1.6M402.8 262.6l3.8-.3 2.6 .4 2 1.2 1 1.9 .1 6.7 1.9 7.6 .2 2-.5 1.3-1 1.3-1.7 1.4-1.6 .7-2 .2-2.3-.9-10.6-7.1-4.2-3.8-1.7-2.5-.9-2.2-.2-1.6 .4-1.2 2.3-1.9 4.3-1.7 8.1-1.5M403.6 263.6l3-.1 2 .3 1.6 1.1 .8 1.3 0 6.3 1.8 8.9-.4 1.3-.8 1-2.7 1.7-2-.1-2.3-.9-9.3-6.6-3.4-3.3-2-4-.1-1.3 .5-1 2.6-2 3.7-1.3 7-1.3M402.4 264.6l3.2-.2 2 .2 1.4 .7 .9 1.3 0 6.2 1.3 7.3-.7 2-2.3 1.8-1.3 .1-1.3-.3-3-1.7-7.9-6.2-1.6-2-.9-1.9-.1-2.7 1.7-2 3.2-1.5 5.4-1.1M404 265.3l2.3 .1 1.3 .4 .9 .8 .4 1.3-.4 5.6 .9 3.6 0 1.7-1.2 2.5-1.6 1.2-1.3-.1-1.7-.8-7-5.5-2.1-2.3-.9-2.3 .3-2.3 1.9-2 3.5-1.3 4.7-.6M401.4 266.2l4.2 .1 1.3 .5 .8 1.1 0 2.3-1.6 4.6 1 4-.6 1.3-.9 .7-2-.5-5.9-4.3-1.9-1.8-.8-1.7-.1-2.3 1.1-2 2.3-1.3 3.1-.7M400.3 267.2l4 .1 1.3 .6 .6 1-.3 2-2.6 5.2-.7 .7-2-.2-2.3-1.3-1.5-1.5-.8-1.6 0-1.7 .8-1.6 1.4-1 2.1-.7M400 269.5l1.6 .1 .8 .9-.5 2-1.3 1.1-1.5-.4-.7-1.3 .3-1.4 1.3-1" fill="none" stroke="#000" stroke-opacity="0.5" stroke-width="0.35" stroke-linejoin="round"/>
<circle cx="413.8" cy="287.7" r="0.4" fill="#555"/><circle cx="413.8" cy="258.0" r="0.4" fill="#555"/><circle cx="419.5" cy="268.9" r="0.4" fill="#555"/><circle cx="420.4" cy="279.8" r="0.4" fill="#555"/><circle cx="420.1" cy="275.5" r="0.4" fill="#555"/><circle cx="410.5" cy="290.7" r="0.4" fill="#555"/><circle cx="422.4" cy="286.7" r="0.4" fill="#555"/><circle cx="416.8" cy="290.7" r="0.4" fill="#555"/><circle cx="402.0" cy="250.4" r="0.4" fill="#555"/><circle cx="378.9" cy="260.6" r="0.4" fill="#555"/><circle cx="392.1" cy="261.6" r="0.4" fill="#555"/><circle cx="416.2" cy="252.4" r="0.4" fill="#555"/><circle cx="395.7" cy="248.4" r="0.4" fill="#555"/><circle cx="418.1" cy="284.4" r="0.4" fill="#555"/><circle cx="415.5" cy="296.6" r="0.4" fill="#555"/><circle cx="418.5" cy="280.4" r="0.4" fill="#555"/><circle cx="395.0" cy="258.7" r="0.4" fill="#555"/><circle cx="420.1" cy="274.8" r="0.4" fill="#555"/><circle cx="401.0" cy="258.3" r="0.4" fill="#555"/><circle cx="419.1" cy="277.1" r="0.4" fill="#555"/><circle cx="401.3" cy="258.0" r="0.4" fill="#555"/><circle cx="422.4" cy="280.1" r="0.4" fill="#555"/><circle cx="410.2" cy="297.6" r="0.4" fill="#555"/><circle cx="411.2" cy="297.3" r="0.4" fill="#555"/><circle cx="422.4" cy="288.4" r="0.4" fill="#555"/><circle cx="417.5" cy="290.3" r="0.4" fill="#555"/><circle cx="416.2" cy="275.2" r="0.4" fill="#555"/><circle cx="425.4" cy="265.3" r="0.4" fill="#555"/><circle cx="415.2" cy="291.0" r="0.4" fill="#555"/><circle cx="412.9" cy="253.4" r="0.4" fill="#555"/><circle cx="410.9" cy="259.3" r="0.4" fill="#555"/><circle cx="415.5" cy="269.2" r="0.4" fill="#555"/><circle cx="421.1" cy="261.3" r="0.4" fill="#555"/><circle cx="419.1" cy="281.1" r="0.4" fill="#555"/><circle cx="403.3" cy="256.3" r="0.4" fill="#555"/><circle cx="403.0" cy="252.4" r="0.4" fill="#555"/><circle cx="399.0" cy="254.7" r="0.4" fill="#555"/><circle cx="416.8" cy="294.0" r="0.4" fill="#555"/><circle cx="418.1" cy="254.7" r="0.4" fill="#555"/><circle cx="401.6" cy="257.0" r="0.4" fill="#555"/><circle cx="387.1" cy="259.6" r="0.4" fill="#555"/><circle cx="417.1" cy="270.2" r="0.4" fill="#555"/><circle cx="421.1" cy="280.1" r="0.4" fill="#555"/><circle cx="404.6" cy="253.0" r="0.4" fill="#555"/><circle cx="409.2" cy="291.7" r="0.4" fill="#555"/><circle cx="417.1" cy="278.8" r="0.4" fill="#555"/><circle cx="403.0" cy="258.7" r="0.4" fill="#555"/><circle cx="391.4" cy="256.3" r="0.4" fill="#555"/><circle cx="415.8" cy="268.6" r="0.4" fill="#555"/><circle cx="423.7" cy="268.2" r="0.4" fill="#555"/><circle cx="413.2" cy="257.7" r="0.4" fill="#555"/><circle cx="410.5" cy="255.7" r="0.4" fill="#555"/><circle cx="426.1" cy="278.8" r="0.4" fill="#555"/><circle cx="424.1" cy="272.8" r="0.4" fill="#555"/><circle cx="418.5" cy="281.8" r="0.4" fill="#555"/><circle cx="388.1" cy="257.0" r="0.4" fill="#555"/><circle cx="425.4" cy="275.8" r="0.4" fill="#555"/><circle cx="390.1" cy="253.0" r="0.4" fill="#555"/><circle cx="410.9" cy="248.4" r="0.4" fill="#555"/><circle cx="401.6" cy="256.0" r="0.4" fill="#555"/><circle cx="418.1" cy="264.3" r="0.4" fill="#555"/><circle cx="415.5" cy="269.9" r="0.4" fill="#555"/><circle cx="418.1" cy="268.2" r="0.4" fill="#555"/><circle cx="419.1" cy="270.9" r="0.4" fill="#555"/><circle cx="405.6" cy="258.7" r="0.4" fill="#555"/><circle cx="418.5" cy="275.8" r="0.4" fill="#555"/><circle cx="401.3" cy="249.4" r="0.4" fill="#555"/><circle cx="387.4" cy="259.6" r="0.4" fill="#555"/><circle cx="401.3" cy="252.1" r="0.4" fill="#555"/><circle cx="397.0" cy="254.7" r="0.4" fill="#555"/><circle cx="411.9" cy="290.0" r="0.4" fill="#555"/><circle cx="418.5" cy="268.9" r="0.4" fill="#555"/><circle cx="424.4" cy="280.8" r="0.4" fill="#555"/><circle cx="415.2" cy="269.2" r="0.4" fill="#555"/><circle cx="427.7" cy="266.6" r="0.4" fill="#555"/><circle cx="425.1" cy="281.1" r="0.4" fill="#555"/><circle cx="416.8" cy="270.2" r="0.4" fill="#555"/><circle cx="380.8" cy="262.6" r="0.4" fill="#555"/><circle cx="418.1" cy="265.6" r="0.4" fill="#555"/><circle cx="425.1" cy="266.2" r="0.4" fill="#555"/>
<rect x="362.20" y="237.70" width="69.50" height="69.10" fill="none" stroke="#333" stroke-width="0.8"/>
<path d="M360.0 244.6h2.2M360.0 261.9h2.2M360.0 281.2h2.2M360.0 293.0h2.2M360.0 304.0h2.2M361.0 256.7h1.2M361.0 253.6h1.2M361.0 251.5h1.2M361.0 249.8h1.2M361.0 248.4h1.2M361.0 247.3h1.2M361.0 246.3h1.2M361.0 245.4h1.2M361.0 275.4h1.2M361.0 272.0h1.2M361.0 269.6h1.2M361.0 267.7h1.2M361.0 266.2h1.2M361.0 264.9h1.2M361.0 263.8h1.2M361.0 262.8h1.2M361.0 284.7h1.2M361.0 287.5h1.2M361.0 290.2h1.2M361.0 295.7h1.2M361.0 298.5h1.2M361.0 301.3h1.2M365.7 306.8v2.2M376.1 306.8v2.2M387.2 306.8v2.2M405.3 306.8v2.2M423.4 306.8v2.2M392.7 306.8v1.3M395.8 306.8v1.3M398.1 306.8v1.3M399.9 306.8v1.3M401.3 306.8v1.3M402.5 306.8v1.3M403.5 306.8v1.3M404.5 306.8v1.3M410.7 306.8v1.3M413.9 306.8v1.3M416.2 306.8v1.3M417.9 306.8v1.3M419.4 306.8v1.3M420.6 306.8v1.3M421.6 306.8v1.3M422.5 306.8v1.3M367.8 306.8v1.3M369.8 306.8v1.3M371.9 306.8v1.3M374.0 306.8v1.3M378.2 306.8v1.3M380.3 306.8v1.3M382.4 306.8v1.3M384.4 306.8v1.3" stroke="#222" stroke-width="0.7" fill="none"/>
<path d="M386.80,249.20L431.70,249.20L431.70,292.40L412.00,292.40M386.80,249.20L386.80,304.50L412.00,304.50L412.00,292.40" fill="none" stroke="#222" stroke-width="0.9"/>
<line x1="386.80" y1="267.70" x2="412.00" y2="292.40" stroke="#000" stroke-width="1.5"/>
<text x="404.40" y="246.88" font-size="7.2" font-weight="normal" fill="#000" textLength="13.60" lengthAdjust="spacingAndGlyphs">12.4</text>
<text x="414.20" y="304.08" font-size="7.2" font-weight="normal" fill="#000" textLength="14.00" lengthAdjust="spacingAndGlyphs">20.9</text>
<text x="373.55" y="234.70" font-size="9.0" font-weight="normal" fill="#333" textLength="46.90" lengthAdjust="spacingAndGlyphs">Tase 10 nM</text>
<path d="M461.6,267.6C462.4,264.5 463.3,264.3 465.2,263.9C467.1,263.5 471.5,263.8 473.0,265.0C474.5,266.2 474.2,265.9 474.5,271.3C474.8,276.6 475.4,292.1 475.0,297.0C474.6,301.9 473.8,300.1 472.2,300.7C470.7,301.3 467.7,301.3 465.9,300.7C464.1,300.1 462.2,300.1 461.3,297.0C460.4,294.0 460.6,287.2 460.6,282.3C460.7,277.4 460.8,270.6 461.6,267.6Z" fill="#000" fill-opacity="0.70" filter="url(#bl2)"/>
<path d="M461.1,268.3C461.6,263.0 463.9,264.5 464.6,265.0C465.3,265.5 465.1,266.0 465.2,271.3C465.4,276.5 465.2,291.5 465.2,296.3C465.2,301.1 465.9,299.8 465.2,300.0C464.6,300.1 462.3,302.3 461.6,297.0C460.9,291.7 460.6,273.7 461.1,268.3Z" fill="#000" fill-opacity="0.40" filter="url(#bl2)"/>
<path d="M472.5,271.3C473.2,267.1 472.7,268.4 476.6,272.2C480.5,276.0 492.9,289.3 495.8,293.9C498.7,298.5 497.0,298.8 493.8,299.9C490.6,301.0 480.1,301.2 476.5,300.7C472.9,300.2 473.2,301.9 472.5,297.0C471.8,292.1 471.8,275.4 472.5,271.3Z" fill="#000" fill-opacity="0.34" filter="url(#bl2)"/>
<path d="M467.1,296.7C471.4,295.4 488.2,292.4 492.8,292.9C497.4,293.4 499.1,298.6 494.8,299.9C490.5,301.2 471.8,301.2 467.1,300.7C462.5,300.2 462.9,298.0 467.1,296.7Z" fill="#000" fill-opacity="0.28" filter="url(#bl2)"/>
<path d="M465.0,275.9C465.4,274.3 465.9,274.2 466.8,274.0C467.8,273.8 469.9,274.0 470.7,274.6C471.5,275.2 471.3,275.0 471.5,277.7C471.6,280.4 471.9,288.1 471.7,290.6C471.5,293.0 471.1,292.1 470.3,292.4C469.6,292.7 468.1,292.7 467.1,292.4C466.2,292.1 465.3,292.1 464.9,290.6C464.4,289.0 464.5,285.7 464.5,283.2C464.5,280.8 464.6,277.4 465.0,275.9Z" fill="#fff" fill-opacity="0.00" filter="url(#bl2)"/>
<path d="M463.6,272.5C464.2,270.4 464.9,270.3 466.2,270.0C467.5,269.7 470.5,269.9 471.6,270.7C472.7,271.6 472.4,271.4 472.7,275.1C472.9,278.9 473.3,289.7 473.0,293.2C472.8,296.6 472.2,295.3 471.1,295.7C470.0,296.2 467.9,296.2 466.6,295.7C465.4,295.3 464.1,295.3 463.4,293.2C462.8,291.0 462.9,286.3 462.9,282.9C463.0,279.4 463.1,274.7 463.6,272.5Z" fill="#000" fill-opacity="0.35" filter="url(#bl2)"/>
<path d="M472.5,266.9C473.0,265.5 476.0,266.4 478.5,266.0C481.0,265.6 484.5,264.8 487.8,264.5C491.0,264.2 495.9,264.1 498.0,264.5C500.1,264.9 500.4,265.6 500.5,267.0C500.6,268.4 498.3,270.4 498.5,273.0C498.7,275.6 502.2,279.8 501.8,282.4C501.4,285.0 498.8,288.8 495.8,288.4C492.8,288.0 487.0,282.6 483.6,280.2C480.2,277.8 477.5,276.4 475.6,274.2C473.8,272.0 472.0,268.3 472.5,266.9Z" fill="#000" fill-opacity="0.04" filter="url(#bl2)"/>
<path d="M464.1 262.8l2.3-.1 3.3 .7 3 1 1.3 1.1 2.3 4.8 13.7 15.3 5.7 7.3 .5 2-.2 2.6-.6 2-1 1.1-1.3 .7-2 .2-16.5 .3-7.2 .6-3.6-.7-3-2.6-.9-1.6-.5-1.7-.6-6.9-.4-6.9 .7-11.2 .5-3 1-2 1.6-2 1.9-1M464.7 263.8l3.7 .6 3.7 1.7 2.3 4.3 4.9 5.5 4.7 6.1 4.5 4.5 3 4.1 2.4 2.3 .8 1.3 .2 2-.3 2.3-.8 1.2-2.7 .8-16.5 .2-6.9 .7-3.6-.7-2.7-2.2-1.2-2.7-.5-5.9-.4-7.9 .6-11.6 .5-2.3 1-1.9 1.7-1.7 1.6-.7M463.8 264.5l1.6-.3 1.7 .3 2.9 1.2 1.5 1.1 1.3 3 3.6 3.9 6 9.3 5.2 4.3 2 3.6 2.9 1.5 1.3 1.3 .6 1.5 .1 1.6-.3 1.7-.7 1-2.7 .7-16.2 .1-6.9 .7-3.3-.6-2.6-2-1.2-2.2-.5-3.7-.5-10.5 .5-10.2 .3-2.7 .6-1.6 1.4-2 1.4-1M478.6 283.6l-.4 6.6 .4 1.2 1 .4 .5-.2 .3-.7-.3-5.6-.5-1.5-.7-.5-.3 .3M464.1 264.5l2.6 .1 4.1 1.9 1.9 3.6 3 3 1.9 3.3 .7 2-1 2.6-.1 1.3 .1 7.6 .6 2.3 1 .7 1 0 3.5-1.3 .1-.7-1.1-1.7 .2-1.6 1-1.1 1.9 .2 1.4 .9 .8 1.3-.1 1-1.3 1 0 .3 5.2 1 1.3 .7 .9 1 .5 1.3 .2 1.6-.3 1.5-.6 1-1 .5-1.7 .3-16.2 .1-6.9 .7-3.3-.5-2.6-2.1-1.1-2.1-.5-4-.5-10.2 .5-10.9 .4-2.3 .7-1.7 1.5-1.8 1.3-.8M464.9 264.5l2.2 .4 3.1 1.6 .8 1 1.2 2.9 2.4 2.1 1.4 1.9 .5 2.3-.4 5 .5 8.5 .7 2.7 1 .6 1.3 .2 9.9-1.2 2.3 .2 1.3 .9 .9 1.6 .1 2.3-.8 1.6-2.5 .8-10.9-.1-12.2 1-3.3-.6-2.6-2-1.1-2.4-.4-3.9-.5-9.9 .6-11.2 .4-2.3 1-1.9 1.6-1.6 1.5-.5M464.5 264.8l2.2 .4 2.7 1.6 .8 1 1.1 3.4 2.7 1.8 .7 1.1 .3 1.3-.3 5.9 .8 4.3 .4 5.6 .8 2.3 1.2 .8 1.7 .2 10.6-1.3 1.6 .2 1.2 .8 .7 1.3 .1 2-.7 1.4-2.3 .7-10.5-.2-12.3 1.1-3.6-.6-2.3-1.7-1.1-2-.5-4-.5-10.2 .5-10.9 .4-2.3 .7-1.7 1.5-1.6 1.4-.7M471.7 277.8l-.4 .5-.3 2.9 .3 1.2 .7-2.1-.3-2.5M463.8 265.2l.9-.3 1.4 .2 2.9 1.7 .7 1 1.6 4.8 .7 .6 1.3 .1 .7 .8 .1 1-.4 .9-2-1.9-.7 .7-.7 2.6-.3 5.8 .6 1.8 .7 .2 2-3.1 .7 .2 1.1 3.3 .6 6.3 .9 1.9 1.3 .8 1.7 .2 10.9-1.3 1.3 .1 1.2 .9 .6 1.3 0 1.7-.6 1.3-2.2 .7-10.5-.3-12.3 1.2-3.6-.5-2.3-1.8-1-1.9-.5-3.7-.5-10.5 .4-10.2 .8-4 1.1-1.6 1.4-1M464.2 265.2l1.2-.1 1.1 .4 1.5 1 1 1.3 1.1 4.9-.9 8.6 .2 3.3 1 2.2 .9 .7 .7-.5 1.3-2 .7 0 .6 1.6 .6 5.3 .9 2 1.5 1 2 .3 7.6-.7 3.3-.6 1.3 .1 1 .7 .6 1.5 0 1.3-.6 1.2-2.3 .6-10.6-.4-11.9 1.4-3.6-.6-2.3-1.8-1-2.1-.4-3.6-.5-10.2 .5-10.6 .3-2.3 .7-1.6 1.4-1.7 1.1-.6M463.8 265.5l1.3-.3 1.3 .5 1.2 1.1 .7 1.3 .9 5-.6 10.9 .7 2.6 1.4 2.5 1 .6 1.6-1.3 .4 .2 1.6 4.9 1.3 1.3 1.7 .7 2.6 .2 6.3-.5 3.3-.8 1.3 .1 .9 .7 .4 1.1 0 1.2-.5 1-2.4 .5-5.7-.6-3.6 0-12.9 1.7-3.6-.5-2.2-1.8-1-2-.4-3.6-.5-10.2 .4-9.9 .7-4 1-1.5 1.4-1.1M464.3 265.5l1.1 0 1 .5 .8 .8 .5 1.3 .9 5-.6 7.9 .1 3.6 .6 2.3 2.3 4.6 .7 .4 1.6-.4 2.8 3.4 1.5 .9 2 .6 6.3-.2 5.6-1.3 .6 .3 .7 1 0 1.3-.3 .7-1 .5-1.3 .1-5.3-1.2-3.7-.1-5.2 1.3-8 1.1-3.3-.4-2.4-1.7-1-2-.4-3.6-.5-10.5 .4-9.9 .3-2.4 .6-1.6 1.4-1.7 1.2-.6M463.8 265.8l1.3-.2 1 .4 .7 .8 .5 1.3 .8 5.3-.5 10.6 .8 3.4 2.6 5.9 .7 .3 1.6-.4 .7 .3 4.2 3.3 .1 .7-1.1 .7-8.2 1.5-3.3-.1-2.3-.9-1.8-2.2-.6-3.6-.5-10.9 .5-10.6 .7-3.3 1.1-1.5 1-.8M490.3 295.5l1.2-.1 .6 .5 .4 1.3-.5 1-2.2 .2-2.1-.9 .6-1 2-1M463.7 266.1l.7-.2 1 .1 .8 .8 .4 1 .9 5.6-.4 11.9 2.7 8.2 1.2 1.4 2.7-.4 1.8 1 1.1 1 .2 .7-1.2 .9-6.9 1.4-3.3-.2-2.3-1.1-1.4-2-.6-3.3-.4-10.9 .4-10.2 .6-3.3 2-2.4M463.7 266.5l1-.2 .7 .3 .8 1.9 .7 4.9-.3 12.5 2.2 8 .8 1.3 1.1 .7 1 .2 2-.5 .9 .3 .8 .9-.8 .8-2.9 .4-3 1-3.3 0-2-.8-1.5-2-.6-3.3-.4-10.9 .4-10.2 .7-3.3 1.7-2M463.8 266.8l.9-.1 .7 .7 .9 4-.3 13.2 .3 2.7 1.8 7.2 2.1 2.7-.6 1-1.2 .4-3 .1-1.6-.5-1.4-1.4-.7-2.3-.6-12.8 .4-9.9 .6-3 1.7-2M463.8 267.5l.6-.1 .4 .4 .9 3.3-.3 14.8 2.3 10.9-.3 .7-2 .7-1.4-.4-1.3-1.3-.6-1.6-.3-2.7 .1-5.9-.4-4.6 .3-9.9 .6-2.8 1.4-1.5M463.5 268.5l.6-.1 .5 .7 .7 3.6-.5 13.2 1.2 5.7 .4 3.9-.3 1.6-1 .6-1.3-.5-.9-1-.8-3.7 .3-5.9-.5-4.9 .4-4-.1-5.3 .4-2.6 .9-1.3M463.4 269.8l.4-.2 .6 .8 .4 2.7-.6 4.6 .2 4.9-1 3-.6-1.4-.5-2.5 .6-4-.3-5.6 .8-2.3M463.4 286.6l.4 0 .9 2 1 3.9 0 3.5-.3 .7-.7 .4-1.4-.9-.8-2.7 0-3.6 .9-3.3M463.4 271.8l.4-.3 .3 .9-.3 2.3-.4 0-.2-1 .2-1.9M463.4 288.9l.4-.1 .6 .6 .9 3.1 0 3-.3 .7-.6 .2-1-.9-.6-2.3 0-2.5 .6-1.8" fill="none" stroke="#000" stroke-opacity="0.55" stroke-width="0.35" stroke-linejoin="round"/>
<path d="M487.8 262.2l6.3-.1 3.3 .5 2.7 1.4 1.4 2.1 .4 2-.4 5.3 1.5 5.9 .1 3-.8 2-1.4 2-1.8 1.7-2 1.1-2.3 .2-2.7-.7-9.5-6-7.6-6.6-1.9-2.6-1.3-2.6-.4-1.7 .2-1.6 .7-1.4 1.4-1.1 1.9-.8 12.2-2M486.9 264.8l8.5 .1 2 .8 1.3 1.4 .4 1.7-.3 4.6 1.4 5.6 .2 2.3-1.1 2.7-2.3 1.9-1.9 .5-2-.4-6.2-3.6-8.3-7-2-2.3-1.5-2.3-.4-2 .5-1 .8-.6 10.9-2.4M486.7 266.1l7.7 .2 1.6 .5 1 1 .3 1.3-.1 4.3 1.5 6.6-.6 2.2-1.7 1.6-1.3 .4-2-.3-4.9-2.3-6.6-5.6-3.1-3.9-.8-2 .1-.7 .7-.6 4.7-1.9 3.5-.8M487.2 267.1l5.9 .8 1.7 .9 .4 1 .1 3.3 1.7 4.9-.2 1.8-1 1.2-1.4 .6-1.6 .1-3.3-.9-5.3-3.9-2.8-3.2-.9-2.6 .6-1.7 2.8-1.6 3.3-.7M486.7 268.1l2.7 .4 2.1 1.3 1 4.3 1.9 2.9 .1 1-.5 .7-2.2 .6-2.6-.5-4-2.5-2.2-2.2-.8-2 .4-2 1.6-1.3 2.5-.7M486.1 270.4l1.6 0 1 1 .1 1.7-1 1.3-1.3-.2-1.3-1.1-.1-1.7 1-1" fill="none" stroke="#000" stroke-opacity="0.5" stroke-width="0.35" stroke-linejoin="round"/>
<circle cx="502.7" cy="295.2" r="0.4" fill="#555"/><circle cx="472.0" cy="257.2" r="0.4" fill="#555"/><circle cx="515.6" cy="285.3" r="0.4" fill="#555"/><circle cx="485.2" cy="255.6" r="0.4" fill="#555"/><circle cx="462.4" cy="263.2" r="0.4" fill="#555"/><circle cx="477.0" cy="255.3" r="0.4" fill="#555"/><circle cx="510.6" cy="274.7" r="0.4" fill="#555"/><circle cx="503.0" cy="286.6" r="0.4" fill="#555"/><circle cx="483.6" cy="261.2" r="0.4" fill="#555"/><circle cx="508.6" cy="295.2" r="0.4" fill="#555"/><circle cx="503.7" cy="285.3" r="0.4" fill="#555"/><circle cx="470.7" cy="259.9" r="0.4" fill="#555"/><circle cx="503.7" cy="267.5" r="0.4" fill="#555"/><circle cx="518.2" cy="279.0" r="0.4" fill="#555"/><circle cx="508.3" cy="285.3" r="0.4" fill="#555"/><circle cx="506.0" cy="292.9" r="0.4" fill="#555"/><circle cx="467.1" cy="255.6" r="0.4" fill="#555"/><circle cx="505.3" cy="278.7" r="0.4" fill="#555"/><circle cx="488.2" cy="255.3" r="0.4" fill="#555"/><circle cx="508.0" cy="290.9" r="0.4" fill="#555"/><circle cx="484.2" cy="257.6" r="0.4" fill="#555"/><circle cx="513.6" cy="287.3" r="0.4" fill="#555"/><circle cx="482.9" cy="259.2" r="0.4" fill="#555"/><circle cx="499.1" cy="297.2" r="0.4" fill="#555"/><circle cx="502.0" cy="263.2" r="0.4" fill="#555"/><circle cx="478.9" cy="259.5" r="0.4" fill="#555"/><circle cx="508.6" cy="258.6" r="0.4" fill="#555"/><circle cx="511.9" cy="269.4" r="0.4" fill="#555"/><circle cx="500.4" cy="259.5" r="0.4" fill="#555"/><circle cx="512.6" cy="274.1" r="0.4" fill="#555"/><circle cx="501.0" cy="255.6" r="0.4" fill="#555"/><circle cx="507.3" cy="257.9" r="0.4" fill="#555"/><circle cx="506.7" cy="288.6" r="0.4" fill="#555"/><circle cx="509.0" cy="269.1" r="0.4" fill="#555"/><circle cx="495.4" cy="258.2" r="0.4" fill="#555"/><circle cx="485.5" cy="255.6" r="0.4" fill="#555"/><circle cx="480.3" cy="255.3" r="0.4" fill="#555"/><circle cx="503.0" cy="257.9" r="0.4" fill="#555"/><circle cx="482.9" cy="260.5" r="0.4" fill="#555"/><circle cx="505.0" cy="272.4" r="0.4" fill="#555"/><circle cx="503.0" cy="286.3" r="0.4" fill="#555"/><circle cx="507.6" cy="281.0" r="0.4" fill="#555"/><circle cx="475.0" cy="259.9" r="0.4" fill="#555"/><circle cx="483.2" cy="255.6" r="0.4" fill="#555"/><circle cx="505.0" cy="261.5" r="0.4" fill="#555"/><circle cx="505.7" cy="261.2" r="0.4" fill="#555"/><circle cx="511.9" cy="267.1" r="0.4" fill="#555"/><circle cx="502.0" cy="260.2" r="0.4" fill="#555"/><circle cx="506.3" cy="271.4" r="0.4" fill="#555"/><circle cx="469.4" cy="254.6" r="0.4" fill="#555"/><circle cx="501.0" cy="257.6" r="0.4" fill="#555"/><circle cx="506.0" cy="280.3" r="0.4" fill="#555"/><circle cx="500.7" cy="300.8" r="0.4" fill="#555"/><circle cx="510.3" cy="283.6" r="0.4" fill="#555"/><circle cx="506.0" cy="286.6" r="0.4" fill="#555"/><circle cx="508.0" cy="282.6" r="0.4" fill="#555"/><circle cx="504.3" cy="261.5" r="0.4" fill="#555"/><circle cx="510.3" cy="278.0" r="0.4" fill="#555"/><circle cx="511.3" cy="267.5" r="0.4" fill="#555"/><circle cx="488.2" cy="261.5" r="0.4" fill="#555"/><circle cx="480.6" cy="258.6" r="0.4" fill="#555"/><circle cx="504.7" cy="288.3" r="0.4" fill="#555"/><circle cx="483.6" cy="252.6" r="0.4" fill="#555"/><circle cx="516.6" cy="284.3" r="0.4" fill="#555"/><circle cx="498.7" cy="289.6" r="0.4" fill="#555"/><circle cx="480.3" cy="261.2" r="0.4" fill="#555"/><circle cx="502.7" cy="285.9" r="0.4" fill="#555"/><circle cx="478.6" cy="259.9" r="0.4" fill="#555"/><circle cx="507.3" cy="263.2" r="0.4" fill="#555"/><circle cx="516.6" cy="265.2" r="0.4" fill="#555"/><circle cx="512.6" cy="256.6" r="0.4" fill="#555"/><circle cx="499.1" cy="259.5" r="0.4" fill="#555"/><circle cx="493.5" cy="258.6" r="0.4" fill="#555"/><circle cx="506.7" cy="261.5" r="0.4" fill="#555"/><circle cx="503.4" cy="274.1" r="0.4" fill="#555"/><circle cx="511.6" cy="274.4" r="0.4" fill="#555"/><circle cx="501.7" cy="263.5" r="0.4" fill="#555"/><circle cx="478.9" cy="261.9" r="0.4" fill="#555"/><circle cx="501.0" cy="262.8" r="0.4" fill="#555"/><circle cx="483.2" cy="259.5" r="0.4" fill="#555"/><circle cx="484.9" cy="256.2" r="0.4" fill="#555"/><circle cx="507.0" cy="258.9" r="0.4" fill="#555"/><circle cx="504.0" cy="272.4" r="0.4" fill="#555"/><circle cx="496.4" cy="252.3" r="0.4" fill="#555"/><circle cx="506.0" cy="271.4" r="0.4" fill="#555"/><circle cx="496.8" cy="258.6" r="0.4" fill="#555"/><circle cx="486.9" cy="256.6" r="0.4" fill="#555"/><circle cx="460.1" cy="262.5" r="0.4" fill="#555"/><circle cx="502.7" cy="259.9" r="0.4" fill="#555"/><circle cx="508.0" cy="253.6" r="0.4" fill="#555"/><circle cx="509.6" cy="276.0" r="0.4" fill="#555"/><circle cx="507.6" cy="282.3" r="0.4" fill="#555"/><circle cx="482.2" cy="251.3" r="0.4" fill="#555"/><circle cx="515.2" cy="270.8" r="0.4" fill="#555"/><circle cx="508.0" cy="257.9" r="0.4" fill="#555"/><circle cx="486.2" cy="261.2" r="0.4" fill="#555"/><circle cx="505.0" cy="282.3" r="0.4" fill="#555"/><circle cx="515.2" cy="263.8" r="0.4" fill="#555"/><circle cx="483.9" cy="248.7" r="0.4" fill="#555"/><circle cx="490.2" cy="249.3" r="0.4" fill="#555"/><circle cx="495.1" cy="260.5" r="0.4" fill="#555"/><circle cx="505.3" cy="290.2" r="0.4" fill="#555"/><circle cx="496.4" cy="257.6" r="0.4" fill="#555"/><circle cx="478.3" cy="261.5" r="0.4" fill="#555"/><circle cx="505.7" cy="255.3" r="0.4" fill="#555"/><circle cx="504.0" cy="284.0" r="0.4" fill="#555"/><circle cx="481.9" cy="260.5" r="0.4" fill="#555"/><circle cx="468.7" cy="260.2" r="0.4" fill="#555"/><circle cx="484.9" cy="258.2" r="0.4" fill="#555"/><circle cx="510.3" cy="285.9" r="0.4" fill="#555"/>
<rect x="449.40" y="237.60" width="69.20" height="68.90" fill="none" stroke="#333" stroke-width="0.8"/>
<path d="M447.2 244.5h2.2M447.2 261.7h2.2M447.2 281.0h2.2M447.2 292.7h2.2M447.2 303.7h2.2M448.2 256.5h1.2M448.2 253.5h1.2M448.2 251.3h1.2M448.2 249.7h1.2M448.2 248.3h1.2M448.2 247.2h1.2M448.2 246.2h1.2M448.2 245.3h1.2M448.2 275.2h1.2M448.2 271.8h1.2M448.2 269.4h1.2M448.2 267.5h1.2M448.2 266.0h1.2M448.2 264.7h1.2M448.2 263.6h1.2M448.2 262.6h1.2M448.2 284.5h1.2M448.2 287.2h1.2M448.2 290.0h1.2M448.2 295.5h1.2M448.2 298.2h1.2M448.2 301.0h1.2M452.9 306.5v2.2M463.2 306.5v2.2M474.3 306.5v2.2M492.3 306.5v2.2M510.3 306.5v2.2M479.7 306.5v1.3M482.9 306.5v1.3M485.1 306.5v1.3M486.9 306.5v1.3M488.3 306.5v1.3M489.5 306.5v1.3M490.6 306.5v1.3M491.5 306.5v1.3M497.7 306.5v1.3M500.9 306.5v1.3M503.1 306.5v1.3M504.9 306.5v1.3M506.3 306.5v1.3M507.5 306.5v1.3M508.6 306.5v1.3M509.5 306.5v1.3M454.9 306.5v1.3M457.0 306.5v1.3M459.1 306.5v1.3M461.2 306.5v1.3M465.3 306.5v1.3M467.4 306.5v1.3M469.5 306.5v1.3M471.5 306.5v1.3" stroke="#222" stroke-width="0.7" fill="none"/>
<path d="M473.60,249.80L518.60,249.80L518.60,292.40L498.80,292.40M473.60,249.80L473.60,304.90L498.80,304.90L498.80,292.40" fill="none" stroke="#222" stroke-width="0.9"/>
<line x1="473.60" y1="268.20" x2="498.80" y2="292.40" stroke="#000" stroke-width="1.5"/>
<text x="495.70" y="247.23" font-size="7.2" font-weight="normal" fill="#000" textLength="9.60" lengthAdjust="spacingAndGlyphs">8.2</text>
<text x="500.80" y="303.68" font-size="7.2" font-weight="normal" fill="#000" textLength="12.00" lengthAdjust="spacingAndGlyphs">17.9</text>
<text x="458.60" y="234.70" font-size="9.0" font-weight="normal" fill="#333" textLength="52.60" lengthAdjust="spacingAndGlyphs">Tase 100 nM</text>
<path d="M292.6,373.7C293.3,370.4 294.2,370.2 296.0,369.7C297.8,369.2 301.8,369.6 303.3,370.9C304.8,372.2 304.5,371.9 304.8,377.6C305.1,383.4 305.7,400.1 305.3,405.4C304.9,410.7 304.1,408.7 302.6,409.4C301.2,410.1 298.3,410.1 296.6,409.4C294.9,408.7 293.1,408.7 292.3,405.4C291.5,402.1 291.6,394.8 291.6,389.5C291.7,384.3 291.9,377.0 292.6,373.7Z" fill="#000" fill-opacity="0.55" filter="url(#bl2)"/>
<path d="M292.1,374.5C292.6,368.7 294.8,370.4 295.4,370.9C296.1,371.4 295.9,372.0 296.0,377.6C296.1,383.3 296.0,399.5 296.0,404.6C296.0,409.8 296.6,408.5 296.0,408.6C295.4,408.7 293.2,411.1 292.6,405.4C292.0,399.7 291.6,380.2 292.1,374.5Z" fill="#000" fill-opacity="0.40" filter="url(#bl2)"/>
<path d="M302.8,377.6C303.5,373.4 303.2,376.2 307.0,380.2C310.8,384.2 322.7,397.2 325.4,401.8C328.1,406.4 326.5,406.2 323.4,407.5C320.3,408.8 310.2,409.7 306.8,409.4C303.4,409.1 303.5,410.7 302.8,405.4C302.1,400.1 302.1,381.8 302.8,377.6Z" fill="#000" fill-opacity="0.34" filter="url(#bl2)"/>
<path d="M297.8,405.4C301.9,404.0 318.0,400.4 322.4,400.8C326.8,401.2 328.5,406.1 324.4,407.5C320.3,408.9 302.2,409.8 297.8,409.4C293.4,409.0 293.7,406.8 297.8,405.4Z" fill="#000" fill-opacity="0.28" filter="url(#bl2)"/>
<path d="M295.8,382.6C296.2,380.9 296.6,380.8 297.5,380.6C298.4,380.4 300.4,380.6 301.1,381.2C301.9,381.9 301.7,381.7 301.9,384.6C302.1,387.5 302.3,395.8 302.1,398.5C302.0,401.1 301.5,400.1 300.8,400.5C300.1,400.8 298.7,400.8 297.8,400.5C296.9,400.1 296.1,400.1 295.6,398.5C295.2,396.8 295.3,393.2 295.3,390.5C295.3,387.9 295.4,384.3 295.8,382.6Z" fill="#fff" fill-opacity="0.40" filter="url(#bl2)"/>
<path d="M302.8,372.7C303.3,370.9 305.8,371.7 308.8,371.2C311.8,370.7 316.5,369.9 320.6,369.7C324.7,369.4 330.8,369.3 333.4,369.7C335.9,370.1 335.8,370.8 335.9,372.2C336.0,373.6 334.6,375.2 333.9,378.2C333.1,381.2 332.8,387.3 331.4,390.3C330.0,393.3 328.3,396.7 325.4,396.3C322.5,395.9 317.2,390.6 314.0,388.2C310.8,385.8 307.9,384.8 306.0,382.2C304.1,379.6 302.3,374.5 302.8,372.7Z" fill="#000" fill-opacity="0.18" filter="url(#bl2)"/>
<path d="M294.9 368.6l2.1-.1 2.6 .6 3.3 1.3 1.4 1.2 .7 1.3 1 3.6 1.2 2.3 18.2 21.8 .5 1.6-.1 2.4-.6 2.3-1.2 1.4-2 .8-7.5 .9-5.3 .4-5-.1-6.9 .9-2-.2-1.3-.6-2.5-2.5-1-2-.4-2.3-.4-14.2 .5-13.6 .5-2.6 1.2-2.3 1.4-1.6 1.6-.7M295.1 369.6l1.5-.1 2 .6 3.5 2.1 2.4 5 4 5.6 7.3 9.2 7.9 8.6 .8 1.6 .2 1.7-.4 2.3-.9 1.2-2 .7-7.3 1-4.6 .3-5.3-.2-6.9 1.1-2.6-.6-2.5-2.2-.9-1.6-.3-2-.5-14.5 .4-13.2 .6-2.7 1-1.9 1.2-1.4 1.4-.6M300.6 391.3l-.5 1.4 .5 1.5 .5-1.2-.5-1.7M295.2 369.9l2.8 .4 3 1.9 1 1.3 1.6 3.7 8.9 11.6 2 4.1 3.9 2.8 4.9 5.2 .7 1.4 .2 1.9-.3 1.7-.9 1.2-1.6 .6-7.6 1-4.3 .3-5.6-.2-6.6 1.1-2.6-.5-2.1-1.9-1-1.6-.4-2-.4-14.5 .4-12.9 .3-2.3 .9-2 1.3-1.6 1.5-.7M300.3 383l-.7 1.4-.7 8.6 .7 3.3 1 1.2 .7-.2 .5-1 .6-3.6-.9-5-.2-3.9-.4-.8-.6 0M294.6 370.2l1.4-.2 1.3 .3 3.2 1.9 1 1.3 1.6 3.7 2.4 2.8 6.3 9 .4 1.7-.7 1-1 0-2-1.1-.7 .4-.1 1.7 1.1 2.4 1 .5 6.3-.4 2.3 1.2 4.3 4.2 .9 1.3 .3 3-.4 1.3-.6 .7-1.5 .6-7.6 1.1-4.3 .2-5.6-.3-6.6 1.3-2.6-.6-2.2-2-.9-1.7-.2-1.6 0-5.3-.5-8.9 .3-11.5 .7-4.7 1.1-2 1.6-1.3M300.3 382l-.7 .7-.4 1.1-.6 9.2 .7 4 .6 1 1 .4 .7-.4 .6-1.4 .7-4.3-.8-4.6-.3-4.6-.5-1.1-1 0M294.8 370.2l1.2-.1 1.6 .4 2.9 2 2.2 4.7 3.2 3.6 4.6 7.6 .3 .6-.3 .5-2.3-.4-.7 .3-.7 1.3 0 1.6 1 4-.3 3.6 .3 1.4 1.4 .3 1.8-.7 1.2-1 .3-1.6 .8-1 2.1-1.1 1.7 0 1.6 1 4.7 4.6 .4 1.4 0 1.7-.4 1.3-.7 .7-1.6 .5-7.3 1-4 .3-5.9-.3-6.6 1.3-2.6-.6-2.2-1.9-.7-1.3-.4-2 .1-5.3-.5-8.9 .3-12.5 .2-2.3 .7-2 1.1-1.7 1.5-1M300.6 381.4l-1 .7-.6 1.7-.6 9.2 .9 4.5 .6 .9 1 .5 .7-.3 .7-1.3 .9-5-.8-4.6-.3-4.9-.5-1.1-1-.3M295.5 370.2l2.5 .6 2.2 1.7 2.2 5 3.1 3.3 2.2 4.3 .3 1.6-1.5 2.7-.6 2 .9 4.6-.1 4.3 .3 1.3 .9 .6 .9 .1 3.5-1 1.7-1 2-2.7 1.4-.3 4.6 3.3 1.2 1.3 .4 2.7-.3 1.3-.6 .7-1.5 .6-7.4 1.1-4 .2-5.9-.3-6.6 1.4-2.6-.6-2.1-1.8-.8-1.7-.3-1.6 .1-5.3-.5-9.2 .4-13.2 .4-2.3 1-2 1.1-1.1 1.5-.6M300.6 380.8l-1.2 1-.7 1.6-.5 9.6 .7 4.5 1 1.5 1 .5 1-.5 .7-1.2 1.1-5.5-1-4.6-.4-5.6-.7-1.3-1 0M294.6 370.6l1-.2 1.4 .2 2.5 1.6 1.1 1.7 1.6 4.7 2 1.2 1 1.1 1.7 3.9-.2 2.3-1.5 3-.6 .7-.7-.8-.7-1.9-.3-5.3-.7-2.6-.6-.5-.7 .2-2 2-.5 2.2-.5 8.9 .5 3.6 1 2.3 1.5 1.1 1.2-.4 .9-1.6 1.2-4.1 .7-.8 1.1 2.2 .1 5.6 .8 1.5 1.3 .4 1.7-.2 4.1-1.3 3.4-2 1.3 0 2.7 1.2 1.5 1.4 .5 2.7-.7 1.7-1.3 .6-7.6 1.2-3.6 .2-6.3-.3-6.6 1.4-2.3-.4-2.2-1.8-.9-1.7-.3-1.6 .1-5.3-.5-8.6 .1-9.9 .7-6.2 1.3-2.3 1.3-1M295 370.6l2 .2 2.1 1.4 1.2 2 .8 3-.1 1.6-2.1 2.6-.7 2.4-.4 10.2 .5 3.1 1 2.2 1.3 1.2 1.3 .1 .9-1 1.4-3.3 .7-.5 .4 1.2 .3 4.6 .7 1 .9 .5 1.3 .1 1.7-.3 7.9-2.7 2.3 .2 1.6 .9 1 1.5 .2 2.1-.8 1.4-1.3 .5-8.3 1.2-9.2-.2-4 1.2-2.3 .3-2.3-.4-2.1-1.7-.8-1.3-.4-1.7 .1-5.6-.5-8.6 .1-10.5 .3-4 .5-2 1.2-1.9 1.6-1M303.5 380.5l.7 0 1 1.1 1 2.8-.3 2.6-.7 1.3-.6 .5-.7-.6-.3-1.2-.1-6.5M294.5 370.9l1.8-.2 2.1 1.2 1.2 1.6 .9 3-.1 2-1.8 2.9-.5 1.7-.5 8.6 .4 5.1 1.3 3 1.3 1.3 1 .5 1-.3 1.3-1.2 .3 .1 1.2 2.4 1.1 .8 1.4 .3 5.1-1.1 5.1-1.7 2.3 0 1.5 .7 .8 1.2 .2 1.8-.5 1.3-1.3 .6-8.3 1.3-9.2-.2-4 1.2-2.3 .4-2.3-.4-2-1.6-.8-1.3-.4-1.7-.3-23.7 .6-6.3 1-2 1.4-1.3M304.3 382.8l.3-.3 .3 .3 .4 1.6-.2 1.3-.5 .7-.4-1 .1-2.6M295 370.9l1.6 .2 1.6 1.1 .9 1.7 .7 2.6-.1 1.7-1.4 3-.5 1.9-.5 9.2 .5 5.3 1.5 3 2.3 2.5 2.6-.1 3.7 1.4 10.5-2.8 2-.1 1 .4 .8 1 .2 1.7-.5 .9-.8 .5-8.3 1.5-9.2-.4-4 1.5-2.3 .3-2.3-.3-2-1.6-.8-1.5-.2-1.3 .1-5.3-.5-7.9 0-10.9 .8-6.2 1.3-2.2 1.3-.8M294.6 371.2l1.4-.1 1.4 .8 1 1.3 .8 2.6 0 2.4-1.6 4.9-.5 10.9 .8 4.9 2.7 4.4 1 .7 3 0 3.3 1.3 4.2-1.3 8-1.8 1 .3 .5 .7 .2 1-.4 .8-8.6 2.2-2.3-.1-3.3-.7-4 .3-3.6 1.6-2.3 .5-2.3-.3-1.9-1.6-.8-1.4-.2-1.3 .2-5.3-.6-7.9 0-10.2 .7-6.6 .9-1.9 1.3-1.1M294.9 371.2l1.4 .1 1.2 .9 .7 1.3 .7 3-.1 1.7-1.2 3.6-.3 2.3-.4 9.2 .7 5.4 3 5.3 1.6 .9 2.4-.2 .9 .8-.6 .5-2.3 .3-3.1 1.9-2.5 .4-1.7-.1-1.5-1-1.2-1.6-.4-1.7 .2-5.6-.6-9.6 .3-12.8 .9-3.2 1-1.3 .9-.5M319.1 403.6l1-.2 .2 .5-.9 .1-.3-.4M312.1 404.6l3-.4 1 .2 .2 .5-.9 1-1.3 .6-2.6 .3-1.3-.3-.5-.6 .7-.7 1.7-.6M294.7 371.6l1.3 0 .9 .6 1 2.7 .3 2.9-1.1 5.6-.3 12.2 .8 4.3 1.7 3.7 1.6 2.3-.3 1-.8 .6-3.2 .9-1.6-.3-1.3-.9-.9-1.3-.4-1.7 .2-5.3-.6-8.2 .1-11.2 .6-5.3 1-1.8 1-.8M294.4 372.2l.9-.3 .7 .3 .7 1 .3 1.3 .4 3.7-.7 5.2-.5 11.9 .7 4.3 2.3 6.6-.8 1-2.1 .7-1.3-.2-1.1-.8-.9-1.4-.3-1.3 .3-5.6-.6-7.9-.1-10.2 .6-6 1.5-2.3M294.7 372.5l.9 .2 .6 .8 .5 4.3-1 16.5 .4 4 1.5 7.6-.5 1-1.1 .5-1-.1-1-.8-.7-1-.3-1.3 .5-5.6-.8-8.2-.1-9.9 .7-6 .6-1.3 .8-.7M294.6 373.2l.7 0 .4 .7 .6 4.6-1.1 16.5 .2 3.3 1.1 4.3 .3 2.9-.4 1-.8 .5-1.6-.9-.7-1.9 .7-5.9-.9-8.3-.2-8.9 .7-6.2 1-1.7M294.3 374.2l.7-.3 .3 .6 .6 5-.6 9.1-1 4.9-.6-1.7-.3-2.1-.3-7.9 1.2-7.6M294.6 399.9l.4-.1 .6 1.4 .7 3-.1 1.7-.9 .6-1.1-.6-.6-1.3 .2-2 .8-2.7M294.5 377.8l.5 .4 .4 2.3-.7 6.9-.4 1.2-.3-.9-.4-6.2 .4-2.6 .5-1.1M294.6 402.6l.4-.2 .3 .5 .3 1.3 0 1-.6 .5-.7-.5-.2-.6 .5-2" fill="none" stroke="#000" stroke-opacity="0.55" stroke-width="0.35" stroke-linejoin="round"/>
<path d="M319.9 367.6l5.4-.3 8 1.1 2.6 1.5 1.2 2.3-.1 3-2.5 11.5-1.1 3.3-1.3 2.3-1.8 2.1-2 1.6-2 .9-2.6-.1-3.3-1.4-5.6-3.9-6.6-5.3-2.3-2.1-1.8-2.3-1.4-2.7-.8-2.6-.2-2 .2-1.6 .8-1.3 1.5-1.1 3.3-1 12.4-1.9M320.1 369.2l4.6-.2 7.9 1.3 1.8 .9 .9 1.7-.1 1.8-1.5 8.7-1.6 6-1.1 2-1.4 1.6-1.9 1.5-1.7 .7-2.3 0-2.3-1-9.3-6.7-5.8-5.7-1.6-2.7-1-2.6-.2-1.6 .3-1.4 .8-1.1 1.3-.8 3.3-.8 10.9-1.6M320.6 370.2l2.8-.2 2.3 .3 6.7 1.9 .9 .6 .4 .7 0 1.7-.7 6.9-1.5 6.3-.9 2-1.3 1.6-1.6 1.4-1.7 .8-2 0-2.3-.9-8.8-6.2-5.2-5.6-1.8-2.8-1-2.5 .3-2.3 1.7-1.4 6.2-1.3 7.5-1M322 370.9l3.7 .5 5.3 2.7 .9 .8 .5 1.6-.2 6.3-1.5 5.9-1.1 1.9-1.2 1.4-1.5 1-1.6 .5-1.6-.1-2-.9-8.9-6.4-3.8-4.6-2.2-3.7-.6-2 .4-1.6 1.7-1 5.5-1.3 8.2-1M320.1 371.9l2.9-.3 2.7 .7 4.6 3.2 1.2 2 .1 4.9-1.3 5.7-1.7 2.8-2.6 1.8-1.6 .1-2-.7-8.6-6-3-3.7-2.5-5.6 0-1.6 1.8-1.3 3.4-1.1 6.6-.9M320.4 372.5l3-.1 2.3 .8 3.8 3 1.3 2.3 .2 4.3-1.2 4.9-1.5 2.7-2.3 1.6-1.6 .1-1.7-.6-7.9-5.4-2.4-2.7-1.5-3.3-.5-3.3 .2-1 .8-.9 2.4-1.2 6.6-1.2M320.6 373.2l2.8-.1 2.3 .9 3.2 2.8 1.2 2.3 .3 3.7-1.1 4.6-1.3 2.4-2 1.4-1.3 .1-1.3-.4-7.9-5.2-1.9-1.9-1.2-2.7-.4-3.3 .4-1.3 .7-.9 1.4-.8 6.1-1.6M320.8 373.9l2.2-.2 2.3 .9 2.5 2.2 1.6 2.7 .3 2.9-.7 4-1.3 2.6-1.7 1.3-1 .1-1.3-.3-7.3-4.7-1.7-1.6-1-2-.3-2.7 .7-2 1.7-1.2 5-2M321 374.5l2-.1 2.1 .8 2 2 1.3 2.3 .5 2.6-.4 3.3-1 2.7-1.5 1.2-2-.2-6.4-4-1.6-1.3-.9-1.7-.3-2 .6-1.6 3-2.7 2.6-1.3M321.5 375.2l1.9 0 1.6 .8 1.3 1.5 1.1 2.3 .5 2.6-.2 2.7-.8 2-1.2 1-2-.3-4.8-3-1.5-1.4-.7-1.3 .1-2 1.6-2.6 1.3-1.4 1.8-.9M321.6 376.2l1.1-.2 1.3 .4 1.6 2.1 1.1 5.6-.4 1.6-1 .9-1.3 0-2.2-1.2-2.3-1.6-.8-1.4 0-1.6 .9-2.6 .9-1.4 1.1-.6M322.1 377.8l.9 0 .5 .7 .1 2.3 1 3-.6 .8-1.6-.5-1.4-1.7 .4-3.3 .7-1.3" fill="none" stroke="#000" stroke-opacity="0.5" stroke-width="0.35" stroke-linejoin="round"/>
<circle cx="332.3" cy="362.0" r="0.4" fill="#555"/><circle cx="311.2" cy="367.9" r="0.4" fill="#555"/><circle cx="341.2" cy="375.5" r="0.4" fill="#555"/><circle cx="322.4" cy="358.7" r="0.4" fill="#555"/><circle cx="308.8" cy="362.6" r="0.4" fill="#555"/><circle cx="328.0" cy="398.3" r="0.4" fill="#555"/><circle cx="335.2" cy="360.3" r="0.4" fill="#555"/><circle cx="336.2" cy="362.0" r="0.4" fill="#555"/><circle cx="336.2" cy="399.3" r="0.4" fill="#555"/><circle cx="340.5" cy="377.2" r="0.4" fill="#555"/><circle cx="324.4" cy="365.9" r="0.4" fill="#555"/><circle cx="309.2" cy="368.3" r="0.4" fill="#555"/><circle cx="339.5" cy="380.1" r="0.4" fill="#555"/><circle cx="334.6" cy="364.6" r="0.4" fill="#555"/><circle cx="320.7" cy="362.3" r="0.4" fill="#555"/><circle cx="339.9" cy="388.4" r="0.4" fill="#555"/><circle cx="347.5" cy="380.5" r="0.4" fill="#555"/><circle cx="335.9" cy="368.3" r="0.4" fill="#555"/><circle cx="345.1" cy="390.4" r="0.4" fill="#555"/><circle cx="343.2" cy="370.6" r="0.4" fill="#555"/><circle cx="332.9" cy="402.2" r="0.4" fill="#555"/><circle cx="320.1" cy="363.6" r="0.4" fill="#555"/><circle cx="338.2" cy="371.2" r="0.4" fill="#555"/><circle cx="311.2" cy="367.6" r="0.4" fill="#555"/><circle cx="299.6" cy="365.9" r="0.4" fill="#555"/><circle cx="347.5" cy="374.5" r="0.4" fill="#555"/><circle cx="301.3" cy="364.3" r="0.4" fill="#555"/><circle cx="340.5" cy="389.4" r="0.4" fill="#555"/><circle cx="332.6" cy="394.3" r="0.4" fill="#555"/><circle cx="332.9" cy="362.0" r="0.4" fill="#555"/><circle cx="312.5" cy="367.3" r="0.4" fill="#555"/><circle cx="339.9" cy="364.6" r="0.4" fill="#555"/><circle cx="309.8" cy="361.0" r="0.4" fill="#555"/><circle cx="330.6" cy="396.3" r="0.4" fill="#555"/><circle cx="328.0" cy="366.6" r="0.4" fill="#555"/><circle cx="308.2" cy="362.6" r="0.4" fill="#555"/><circle cx="340.5" cy="380.8" r="0.4" fill="#555"/><circle cx="316.1" cy="363.6" r="0.4" fill="#555"/><circle cx="331.0" cy="396.6" r="0.4" fill="#555"/><circle cx="307.5" cy="364.0" r="0.4" fill="#555"/><circle cx="314.5" cy="359.0" r="0.4" fill="#555"/><circle cx="313.5" cy="363.6" r="0.4" fill="#555"/><circle cx="329.0" cy="365.6" r="0.4" fill="#555"/><circle cx="314.8" cy="367.3" r="0.4" fill="#555"/><circle cx="330.0" cy="397.0" r="0.4" fill="#555"/><circle cx="338.5" cy="382.4" r="0.4" fill="#555"/><circle cx="320.7" cy="365.6" r="0.4" fill="#555"/><circle cx="315.8" cy="358.0" r="0.4" fill="#555"/><circle cx="335.9" cy="362.6" r="0.4" fill="#555"/><circle cx="329.3" cy="405.2" r="0.4" fill="#555"/><circle cx="300.3" cy="367.3" r="0.4" fill="#555"/><circle cx="336.9" cy="382.1" r="0.4" fill="#555"/><circle cx="311.2" cy="360.0" r="0.4" fill="#555"/><circle cx="318.7" cy="359.0" r="0.4" fill="#555"/><circle cx="336.6" cy="392.7" r="0.4" fill="#555"/><circle cx="346.8" cy="374.2" r="0.4" fill="#555"/><circle cx="313.8" cy="365.3" r="0.4" fill="#555"/><circle cx="325.3" cy="365.3" r="0.4" fill="#555"/><circle cx="327.7" cy="361.0" r="0.4" fill="#555"/><circle cx="327.0" cy="363.0" r="0.4" fill="#555"/><circle cx="330.0" cy="358.4" r="0.4" fill="#555"/><circle cx="332.9" cy="392.3" r="0.4" fill="#555"/><circle cx="311.8" cy="367.3" r="0.4" fill="#555"/><circle cx="328.6" cy="362.0" r="0.4" fill="#555"/><circle cx="340.9" cy="385.1" r="0.4" fill="#555"/><circle cx="343.5" cy="363.3" r="0.4" fill="#555"/><circle cx="302.6" cy="360.3" r="0.4" fill="#555"/><circle cx="343.2" cy="375.2" r="0.4" fill="#555"/><circle cx="330.3" cy="396.3" r="0.4" fill="#555"/><circle cx="314.1" cy="358.7" r="0.4" fill="#555"/><circle cx="336.6" cy="389.7" r="0.4" fill="#555"/><circle cx="327.3" cy="363.3" r="0.4" fill="#555"/><circle cx="303.2" cy="361.3" r="0.4" fill="#555"/><circle cx="321.7" cy="358.0" r="0.4" fill="#555"/><circle cx="325.3" cy="365.0" r="0.4" fill="#555"/><circle cx="337.6" cy="384.4" r="0.4" fill="#555"/><circle cx="301.6" cy="367.9" r="0.4" fill="#555"/><circle cx="332.6" cy="393.3" r="0.4" fill="#555"/><circle cx="322.4" cy="365.3" r="0.4" fill="#555"/><circle cx="305.9" cy="364.6" r="0.4" fill="#555"/>
<rect x="280.30" y="347.30" width="67.70" height="67.00" fill="none" stroke="#333" stroke-width="0.8"/>
<path d="M278.1 354.0h2.2M278.1 370.8h2.2M278.1 389.5h2.2M278.1 400.9h2.2M278.1 411.6h2.2M279.1 365.7h1.2M279.1 362.8h1.2M279.1 360.7h1.2M279.1 359.0h1.2M279.1 357.7h1.2M279.1 356.6h1.2M279.1 355.6h1.2M279.1 354.8h1.2M279.1 383.9h1.2M279.1 380.6h1.2M279.1 378.2h1.2M279.1 376.4h1.2M279.1 374.9h1.2M279.1 373.7h1.2M279.1 372.6h1.2M279.1 371.6h1.2M279.1 392.9h1.2M279.1 395.5h1.2M279.1 398.2h1.2M279.1 403.6h1.2M279.1 406.3h1.2M279.1 408.9h1.2M283.7 414.3v2.2M293.8 414.3v2.2M304.7 414.3v2.2M322.3 414.3v2.2M339.9 414.3v2.2M310.0 414.3v1.3M313.1 414.3v1.3M315.3 414.3v1.3M317.0 414.3v1.3M318.4 414.3v1.3M319.5 414.3v1.3M320.6 414.3v1.3M321.5 414.3v1.3M327.6 414.3v1.3M330.7 414.3v1.3M332.9 414.3v1.3M334.6 414.3v1.3M336.0 414.3v1.3M337.1 414.3v1.3M338.2 414.3v1.3M339.1 414.3v1.3M285.7 414.3v1.3M287.7 414.3v1.3M289.8 414.3v1.3M291.8 414.3v1.3M295.9 414.3v1.3M297.9 414.3v1.3M299.9 414.3v1.3M302.0 414.3v1.3" stroke="#222" stroke-width="0.7" fill="none"/>
<path d="M304.00,358.90L348.00,358.90L348.00,400.30L328.40,400.30M304.00,358.90L304.00,412.50L328.40,412.50L328.40,400.30" fill="none" stroke="#222" stroke-width="0.9"/>
<line x1="304.00" y1="376.20" x2="328.40" y2="400.30" stroke="#000" stroke-width="1.5"/>
<text x="321.20" y="356.43" font-size="7.2" font-weight="normal" fill="#000" textLength="11.80" lengthAdjust="spacingAndGlyphs">17.2</text>
<text x="330.00" y="412.08" font-size="7.2" font-weight="normal" fill="#000" textLength="13.80" lengthAdjust="spacingAndGlyphs">20.6</text>
<text x="296.85" y="330.00" font-size="9.0" font-weight="normal" fill="#333" textLength="34.30" lengthAdjust="spacingAndGlyphs">Tra 1 nM</text>
<text x="288.80" y="341.60" font-size="9.0" font-weight="normal" fill="#333" textLength="50.20" lengthAdjust="spacingAndGlyphs">+ Tase 1 nM</text>
<path d="M373.8,374.8C374.6,371.6 375.7,371.4 377.7,371.0C379.8,370.6 384.4,370.9 386.0,372.2C387.6,373.4 387.2,373.1 387.5,378.7C387.8,384.2 388.4,400.4 388.0,405.6C387.6,410.7 386.8,408.8 385.1,409.4C383.5,410.0 380.3,410.0 378.4,409.4C376.5,408.8 374.4,408.8 373.5,405.6C372.6,402.4 372.8,395.3 372.8,390.2C372.9,385.1 373.0,378.0 373.8,374.8Z" fill="#000" fill-opacity="0.70" filter="url(#bl2)"/>
<path d="M373.3,375.6C373.8,370.0 376.3,371.6 377.1,372.2C377.8,372.7 377.6,373.2 377.7,378.7C377.8,384.1 377.7,399.8 377.7,404.8C377.7,409.8 378.4,408.5 377.7,408.6C377.1,408.8 374.5,411.1 373.8,405.6C373.1,400.1 372.8,381.2 373.3,375.6Z" fill="#000" fill-opacity="0.40" filter="url(#bl2)"/>
<path d="M385.5,378.7C386.2,374.5 385.7,376.3 389.5,380.2C393.3,384.1 405.6,397.4 408.4,402.0C411.2,406.6 409.5,406.3 406.4,407.5C403.2,408.7 393.0,409.7 389.5,409.4C386.0,409.1 386.2,410.7 385.5,405.6C384.8,400.4 384.8,382.9 385.5,378.7Z" fill="#000" fill-opacity="0.34" filter="url(#bl2)"/>
<path d="M379.8,405.4C384.0,404.0 400.8,400.6 405.4,401.0C410.0,401.4 411.7,406.1 407.4,407.5C403.1,408.9 384.4,409.8 379.8,409.4C375.1,409.0 375.5,406.8 379.8,405.4Z" fill="#000" fill-opacity="0.28" filter="url(#bl2)"/>
<path d="M377.5,383.5C377.9,381.9 378.4,381.8 379.4,381.6C380.4,381.3 382.7,381.5 383.6,382.1C384.4,382.8 384.1,382.6 384.3,385.4C384.5,388.2 384.7,396.3 384.6,398.8C384.4,401.4 383.9,400.4 383.1,400.8C382.3,401.1 380.7,401.1 379.8,400.8C378.8,400.4 377.8,400.4 377.3,398.8C376.8,397.2 376.9,393.7 377.0,391.2C377.0,388.6 377.0,385.1 377.5,383.5Z" fill="#fff" fill-opacity="0.00" filter="url(#bl2)"/>
<path d="M376.0,380.0C376.6,377.8 377.3,377.6 378.7,377.3C380.2,377.0 383.4,377.2 384.5,378.1C385.7,379.0 385.3,378.8 385.6,382.7C385.8,386.6 386.2,397.9 385.9,401.5C385.7,405.1 385.1,403.8 383.9,404.2C382.8,404.7 380.6,404.7 379.2,404.2C377.9,403.8 376.4,403.8 375.8,401.5C375.1,399.3 375.3,394.4 375.3,390.8C375.3,387.2 375.4,382.3 376.0,380.0Z" fill="#000" fill-opacity="0.35" filter="url(#bl2)"/>
<path d="M385.5,374.0C386.0,373.3 389.3,377.6 391.5,378.0C393.7,378.4 396.0,376.8 398.6,376.5C401.1,376.2 404.8,376.1 406.6,376.5C408.4,376.9 409.0,377.6 409.1,379.0C409.2,380.4 406.2,383.1 407.1,385.0C408.0,386.9 414.2,388.6 414.4,390.5C414.6,392.4 411.4,396.9 408.4,396.5C405.4,396.1 399.8,390.6 396.5,388.2C393.2,385.8 390.3,384.6 388.5,382.2C386.7,379.8 385.0,374.7 385.5,374.0Z" fill="#000" fill-opacity="0.03" filter="url(#bl2)"/>
<path d="M377.1 369.7l2 0 2.6 .6 3.6 1.4 1.4 1 .7 1.3 .7 2.7 1 1.6 11.1 13.4 7.9 8.7 .7 2-.1 2-.6 2.3-1 1.2-2 .8-12.2 1.6-5.9 0-6.9 1-4-.8-1.7-1-1.7-1.8-1.1-2.3-.4-3.3-.4-12.6 .7-12.2 .8-2.9 1.4-2.4 1.4-1.4 2-.9M377.2 370.7l3.2 .4 3.4 1.9 1 1.4 1.2 2.9 4.4 4.6 5.5 7.6 2.3 3.8 4.6 3.7 3.7 3.4 .9 1.7 .2 1.6-.3 2-.8 1.3-1.7 .6-11.9 1.6-5.9 0-6.6 1.2-4-.7-2.9-2.4-1.1-1.9-.3-3-.5-13.2 .7-11.5 .6-2.7 1.1-2 1.4-1.5 1.8-.8M377.2 371.1l2.9 .3 2.7 1.6 1 1.4 1.1 3.3 3.1 2.3 1.9 2.3 1.5 2.9 .8 3.3 1.4 1.6 .5 1.1-.1 1.3-1 2.6 .6 1.7 1 .7 1.3 .4 4-.8 1.3 .2 4.9 3.5 .8 1.3 .3 1.6-.4 2-.7 1-1.6 .6-11.6 1.5-5.9 .1-6.6 1.2-4-.7-2.8-2.4-.9-1.6-.4-2.7-.4-13.5 .6-11.2 .5-2.3 1.2-2.3 1.5-1.7 1.5-.6M376.7 371.4l2.7 .1 2.9 1.5 .9 1.4 1.3 3.9 3.1 1.9 2 2.4 .7 2.6-.7 3.7 0 2 .6 5.6 .7 1.7 1.4 .9 1.9 .5 2 0 5-.8 2.9 1 1.8 1.3 .9 1.6 0 2.3-.8 1.4-1.9 .6-11.8 1.7-5.6 0-6 1.2-3.9-.5-3-2.4-1-1.6-.3-2.3-.5-13.9 .6-10.6 .3-2.3 .8-1.9 1.5-2 1.5-1M376.5 371.7l2.2-.1 2.8 1.4 1 1.4 1.3 4.9 .9 .6 2.3 .5 1.7 1.9 .6 2-1 5.2 .5 7.3 .4 1.6 1 1.7 1.1 .8 1.6 .2 8.6-.8 2.6 .3 1.4 .8 .8 1.3 .1 2-.6 1.3-1.7 .7-11.5 1.6-6.3 .2-5.6 1.2-3.9-.6-2.8-2.1-1-1.6-.3-2 0-6.6-.5-7.3 .2-5.6 .9-8.2 1.5-2.6 1.7-1.4M384 396.8l-.4 .3-.2 1 .3 .8 .6 .3 .5-.4 .1-1-.2-.7-.7-.3M377 371.7l2.5 .3 2.1 1.7 .6 1.3 .5 4.3 1 2.2 .6 .1 1.4-.7 1 0 .9 .6 .7 1.1 .3 2-1.1 4.9 .4 4.3-.3 3.3 .4 1.3 1.5 2.4 1.1 .8 1.3 .2 8.9-.9 3.3 .2 1.4 .8 .6 1.2 0 1.6-.6 1.1-1.4 .6-11.5 1.7-6.3 .2-5.6 1.2-3.9-.5-2.7-2.1-.9-1.5-.4-2.3 0-6.3-.5-7.9 .6-10.3 .4-2.3 .8-1.9 1.3-1.8 1.6-.9M383.7 394.8l-1.1 1.3-.3 2 .7 2 1.3 .9 1.5-1.2 .7-2.3-1.5-2.5-.7-.4-.6 .2M376.3 372l1.4-.3 1.5 .3 1.5 1 .9 1 .6 5.6 1.1 4 0 4.3 .4 2.2 .6 1.4 .4 0 1.6-2 .9 2.3 .2 2-.4 1.3-.7 0-2-2.2-2.2 2.9-.3 2.3 1.2 2.8 .7 .6 1 .1 2.6-2.3 2.3 2.1 1.6 .7 8.7-.8 3.9 0 1.3 .6 .7 1 .2 1.5-.7 1.3-1.2 .5-11.5 1.7-6.3 .2-5.6 1.3-3.9-.5-2.7-2.1-.9-1.4-.3-1.7 0-7.2-.5-7 .2-5.2 .8-8.3 1.2-2.3 1.7-1.7M386.2 381.3l1.4 .7 .6 1.9-.6 2.7-1.3 2.1-1.5-4.8 .5-2 .9-.6M376.6 372l1.5-.1 1.4 .5 1.3 1 .7 1.3 .2 4.9 .8 4.3 .6 7.9-.3 1.4-1.4 2.9-.1 1.4 .4 1.9 1.3 2.3 .7 .4 1 .1 2.6-1.8 2.6 1.7 1.4 .3 7.9-.8 4.6 0 1.1 .5 .7 1 .1 1.3-.6 1.1-1 .4-11.5 1.9-6.6 .3-5.3 1.2-3.9-.5-2.7-2.1-.8-1.3-.3-2 0-6.6-.5-7.3 .2-5.2 .8-8.3 1.5-2.6 1.6-1.4M386.1 382.3l.9-.2 .7 1.2-.1 1.6-.9 1.2-.7-.8-.3-1 .4-2M377.3 372l2.3 .7 1 1 .4 1-.1 5.3 .8 4.6 .4 6.9-.3 1.7-1.2 2.9-.1 1.4 .5 1.9 1.5 2.7 1.5 .8 3.3-1.3 2.7 1.1 1.3 .2 7.6-.8 4.6 .1 1 .3 .6 .9 .1 1-.4 .6-11.9 2.4-6.9 .4-5 1.4-3.9-.4-1.3-.7-1.5-1.4-.8-1.3-.4-1.3 0-7.3-.5-6.9 .7-11.6 .4-2.3 .7-1.7 1.4-1.6 1.5-.7M376.7 372.4l1-.1 1.3 .4 1.1 1 .4 1-.4 5.3 1 4.9 .2 6.3-1.3 4.6-.1 1.7 .5 2 1.6 3 1 .8 1 .2 3.3-1.1 4 1.1 6.6-.8 2.6 0 3 .6 .4 .4-.3 .7-7.1 2-4.6 .7-5.9 .4-5 1.5-3.9-.4-2.7-1.9-.8-1.3-.4-1.7 .1-6.9-.6-7.3 .2-4.6 .9-8.9 1.3-2.4 1.6-1.2M376.4 372.7l1-.3 1 .3 1.2 1 .4 1-.5 5.3 1 5.2 .1 5.3-1.3 7 .5 1.9 1.5 3 1.1 1.1 1.3 .5 1 0 2.6-1 4 1 6.9-.6 1.5 .3 .2 .4-.5 .6-3.2 1.1-10.5 1.5-3.3 1.2-1.7 .3-3.9-.5-2.7-2.2-.7-2.7 0-6.6-.6-7.6 .2-4.3 .9-8.6 1.1-2.3 1.4-1.3M376.9 372.7l1.6 .3 1 1.7-.4 5.6 .9 4.9 .1 4.3-1.2 7.6 .3 2 .9 2.1 1.5 2.2 1.8 1 1.3 .1 2.9-1 5.1 1.9-3.7 1.2-3.7 .4-3 1.3-1.9 .3-2.7-.1-1.3-.5-1.6-1.3-.9-1.3-.4-2 .1-6.6-.7-7.6 .8-10.9 .3-2 .7-1.6 1.1-1.4 1.1-.6M376.9 373l1.3 .4 .8 1.6-.4 5.3 .9 5.3 0 3.3-1.1 8.2 .7 3.4 1.3 2.7 2 1.4 2.3 .9 2-1 .9-.1 .8 .3 .4 .7-1.2 .7-2.6 .1-2.1 1.5-1.9 .6-3.3-.1-1.3-.4-1.9-1.8-.8-1.9 .1-7-.7-8.6 .9-10.5 .8-3 1-1.3 1.1-.7M376.3 373.7l.8-.3 .6 .3 .6 1.3-.2 5.3 .8 4.9 .1 3-.2 3.3-.9 5 .2 2.4 1.6 4.8 2.9 2 .4 .7-.6 1-1.4 .4-3.3 .1-1.3-.4-1.6-1.5-.8-1.9 .1-6.6-.8-7.6 .2-4.1 1-9.1 .6-1.7 1.2-1.3M376.3 374.4l.8-.2 .6 .8-.2 5.3 1 6.3-.1 3.9-1.1 5.6 .1 2.3 1.7 5.8 2.3 2.2-.4 .6-3.3 .5-1.9-.9-1-1.2-.4-1 .2-7.3-1-7.6 .2-4.3 1-7.9 .6-2 .9-.9M376.1 375.3l.7-.2 .2 .6-.2 4.6 1.3 6.6-.2 4.6-1.4 6 2.3 8.5-.4 .7-1 .3-1.6-.8-1.1-1.8-.1-2.3 .6-4.6-1.4-8.3 .3-4.7 1.3-7.6 .7-1.6M375.4 381.6l.7-.3 .7 1.1 .7 2.2 .3 2.6-.4 5-1 2.6-.6 .5-1-1.5-.8-4.6 .4-4.6 1-3M375.6 400.1l.5-.2 .3 .3 1.1 2.5 .6 3-.7 .8-1.3-.4-1-1.4-.1-2.3 .6-2.3M375.4 384.3l.7-.2 .4 .5 .6 3-.3 3.7-1 1.4-.9-1.2-.4-2.6 .3-3.1 .6-1.5" fill="none" stroke="#000" stroke-opacity="0.55" stroke-width="0.35" stroke-linejoin="round"/>
<path d="M386.5 373.7l1.8-.3 5.3 .8 6.3-.7 3.9-.1 2.7 .5 1.9 1 1.4 1.4 .9 1.7 .8 5.9 3.1 3.7 .9 1.6 .2 2.3-1.1 2.3-1.7 2-1.8 1.5-2 .7-2 0-3.3-1.3-10.2-6.9-5.8-4.9-2.7-3.9-.6-2.4-.1-2.3 .8-1.6 1.3-1M400.1 376.3l2.7-.1 2 .3 1.6 .8 1 1.3 1.1 6.3 .9 1.7 2.2 2.6 .6 1.3-.6 2-2.2 2.1-1.3 .4-1.6-.2-4.7-2.4-8.9-6.5-2.8-2.6-1.4-2-.5-1.3-.1-1.4 .5-.8 .7-.5 10.8-1M395.3 378.3l7.2-.3 1.5 .3 1.1 .7 .7 1.3 1.1 4.6 2.4 5.3 0 1.3-.5 .9-1 .6-1 0-3.3-1.2-3.5-2.3-7.4-5.9-1.7-2.3-.2-1 .2-.7 1.4-.7 3-.6M395.6 379.6l3.6 .3 3.3 1 1 .7 3 6 .3 1.9-.4 1-1.3 .4-2.3-.9-8.3-6.4-1-1.3-.3-1.3 .7-.8 1.7-.6M395.9 381.6l.7-.3 1.1 .3 .6 .7 0 .6-.8 .4-.9-.3-.8-.7 .1-.7M402.7 385.6l.8 .1 1 1.1 .3 1.1-.3 .8-1.3-.2-1-.9-.3-1.4 .8-.6" fill="none" stroke="#000" stroke-opacity="0.5" stroke-width="0.35" stroke-linejoin="round"/>
<circle cx="410.4" cy="369.1" r="0.4" fill="#555"/><circle cx="410.1" cy="404.4" r="0.4" fill="#555"/><circle cx="399.2" cy="367.8" r="0.4" fill="#555"/><circle cx="406.1" cy="367.4" r="0.4" fill="#555"/><circle cx="420.6" cy="371.1" r="0.4" fill="#555"/><circle cx="398.5" cy="368.7" r="0.4" fill="#555"/><circle cx="421.3" cy="383.9" r="0.4" fill="#555"/><circle cx="410.4" cy="365.4" r="0.4" fill="#555"/><circle cx="429.2" cy="399.8" r="0.4" fill="#555"/><circle cx="411.4" cy="397.8" r="0.4" fill="#555"/><circle cx="406.1" cy="357.9" r="0.4" fill="#555"/><circle cx="410.7" cy="377.3" r="0.4" fill="#555"/><circle cx="417.0" cy="365.1" r="0.4" fill="#555"/><circle cx="392.3" cy="369.4" r="0.4" fill="#555"/><circle cx="414.4" cy="372.4" r="0.4" fill="#555"/><circle cx="417.0" cy="373.0" r="0.4" fill="#555"/><circle cx="417.0" cy="373.4" r="0.4" fill="#555"/><circle cx="410.1" cy="402.4" r="0.4" fill="#555"/><circle cx="393.9" cy="369.4" r="0.4" fill="#555"/><circle cx="395.9" cy="367.8" r="0.4" fill="#555"/><circle cx="421.6" cy="383.9" r="0.4" fill="#555"/><circle cx="409.4" cy="404.4" r="0.4" fill="#555"/><circle cx="421.0" cy="401.7" r="0.4" fill="#555"/><circle cx="409.4" cy="399.1" r="0.4" fill="#555"/><circle cx="396.9" cy="363.5" r="0.4" fill="#555"/><circle cx="419.3" cy="403.1" r="0.4" fill="#555"/><circle cx="417.7" cy="382.9" r="0.4" fill="#555"/><circle cx="416.0" cy="398.4" r="0.4" fill="#555"/><circle cx="399.2" cy="372.4" r="0.4" fill="#555"/><circle cx="406.1" cy="368.4" r="0.4" fill="#555"/><circle cx="428.9" cy="392.5" r="0.4" fill="#555"/><circle cx="415.7" cy="383.6" r="0.4" fill="#555"/><circle cx="417.7" cy="391.5" r="0.4" fill="#555"/><circle cx="396.6" cy="368.1" r="0.4" fill="#555"/><circle cx="408.4" cy="366.1" r="0.4" fill="#555"/><circle cx="418.0" cy="390.2" r="0.4" fill="#555"/><circle cx="394.6" cy="360.5" r="0.4" fill="#555"/><circle cx="417.7" cy="404.1" r="0.4" fill="#555"/><circle cx="411.7" cy="366.1" r="0.4" fill="#555"/><circle cx="411.4" cy="380.6" r="0.4" fill="#555"/><circle cx="389.3" cy="372.7" r="0.4" fill="#555"/><circle cx="397.9" cy="370.7" r="0.4" fill="#555"/><circle cx="375.8" cy="367.4" r="0.4" fill="#555"/><circle cx="422.0" cy="391.5" r="0.4" fill="#555"/><circle cx="421.3" cy="401.1" r="0.4" fill="#555"/><circle cx="430.2" cy="387.2" r="0.4" fill="#555"/><circle cx="411.7" cy="380.6" r="0.4" fill="#555"/><circle cx="418.7" cy="386.2" r="0.4" fill="#555"/><circle cx="410.7" cy="377.0" r="0.4" fill="#555"/><circle cx="370.5" cy="378.3" r="0.4" fill="#555"/><circle cx="425.9" cy="400.4" r="0.4" fill="#555"/><circle cx="410.7" cy="369.7" r="0.4" fill="#555"/><circle cx="415.4" cy="368.4" r="0.4" fill="#555"/><circle cx="410.7" cy="404.4" r="0.4" fill="#555"/><circle cx="421.0" cy="403.7" r="0.4" fill="#555"/><circle cx="408.8" cy="373.7" r="0.4" fill="#555"/><circle cx="429.9" cy="393.2" r="0.4" fill="#555"/><circle cx="417.0" cy="388.5" r="0.4" fill="#555"/><circle cx="409.1" cy="404.7" r="0.4" fill="#555"/><circle cx="413.1" cy="364.1" r="0.4" fill="#555"/><circle cx="412.7" cy="400.1" r="0.4" fill="#555"/><circle cx="415.4" cy="374.7" r="0.4" fill="#555"/><circle cx="406.8" cy="373.0" r="0.4" fill="#555"/><circle cx="415.4" cy="384.9" r="0.4" fill="#555"/><circle cx="417.3" cy="381.3" r="0.4" fill="#555"/><circle cx="423.3" cy="372.7" r="0.4" fill="#555"/><circle cx="395.9" cy="370.1" r="0.4" fill="#555"/><circle cx="420.6" cy="401.4" r="0.4" fill="#555"/><circle cx="418.7" cy="394.8" r="0.4" fill="#555"/><circle cx="397.5" cy="365.1" r="0.4" fill="#555"/><circle cx="393.9" cy="372.4" r="0.4" fill="#555"/><circle cx="417.3" cy="390.2" r="0.4" fill="#555"/><circle cx="422.3" cy="398.8" r="0.4" fill="#555"/><circle cx="414.4" cy="406.4" r="0.4" fill="#555"/><circle cx="388.0" cy="369.1" r="0.4" fill="#555"/><circle cx="410.1" cy="399.8" r="0.4" fill="#555"/><circle cx="419.7" cy="385.2" r="0.4" fill="#555"/><circle cx="380.7" cy="363.8" r="0.4" fill="#555"/><circle cx="384.7" cy="368.4" r="0.4" fill="#555"/><circle cx="397.9" cy="367.8" r="0.4" fill="#555"/><circle cx="393.6" cy="364.1" r="0.4" fill="#555"/><circle cx="416.7" cy="384.9" r="0.4" fill="#555"/><circle cx="401.5" cy="370.4" r="0.4" fill="#555"/><circle cx="414.0" cy="385.2" r="0.4" fill="#555"/><circle cx="415.4" cy="398.4" r="0.4" fill="#555"/><circle cx="422.0" cy="385.2" r="0.4" fill="#555"/><circle cx="416.7" cy="391.8" r="0.4" fill="#555"/><circle cx="411.4" cy="381.0" r="0.4" fill="#555"/><circle cx="394.2" cy="373.4" r="0.4" fill="#555"/><circle cx="408.8" cy="367.8" r="0.4" fill="#555"/><circle cx="416.4" cy="403.7" r="0.4" fill="#555"/><circle cx="410.1" cy="366.4" r="0.4" fill="#555"/><circle cx="413.4" cy="376.0" r="0.4" fill="#555"/><circle cx="398.9" cy="365.8" r="0.4" fill="#555"/><circle cx="386.0" cy="365.4" r="0.4" fill="#555"/><circle cx="428.9" cy="385.2" r="0.4" fill="#555"/><circle cx="416.4" cy="399.4" r="0.4" fill="#555"/><circle cx="398.5" cy="373.4" r="0.4" fill="#555"/><circle cx="418.7" cy="392.8" r="0.4" fill="#555"/><circle cx="414.4" cy="397.8" r="0.4" fill="#555"/><circle cx="423.9" cy="376.7" r="0.4" fill="#555"/><circle cx="418.7" cy="391.2" r="0.4" fill="#555"/><circle cx="399.2" cy="370.1" r="0.4" fill="#555"/><circle cx="391.3" cy="366.8" r="0.4" fill="#555"/><circle cx="398.9" cy="367.8" r="0.4" fill="#555"/><circle cx="397.2" cy="358.8" r="0.4" fill="#555"/><circle cx="397.5" cy="363.8" r="0.4" fill="#555"/><circle cx="416.4" cy="389.2" r="0.4" fill="#555"/><circle cx="413.1" cy="400.4" r="0.4" fill="#555"/><circle cx="389.6" cy="363.1" r="0.4" fill="#555"/>
<rect x="362.40" y="346.80" width="68.10" height="67.70" fill="none" stroke="#333" stroke-width="0.8"/>
<path d="M360.2 353.6h2.2M360.2 370.5h2.2M360.2 389.5h2.2M360.2 401.0h2.2M360.2 411.8h2.2M361.2 365.4h1.2M361.2 362.4h1.2M361.2 360.3h1.2M361.2 358.7h1.2M361.2 357.3h1.2M361.2 356.2h1.2M361.2 355.2h1.2M361.2 354.3h1.2M361.2 383.7h1.2M361.2 380.4h1.2M361.2 378.0h1.2M361.2 376.2h1.2M361.2 374.7h1.2M361.2 373.4h1.2M361.2 372.3h1.2M361.2 371.4h1.2M361.2 392.8h1.2M361.2 395.5h1.2M361.2 398.3h1.2M361.2 403.7h1.2M361.2 406.4h1.2M361.2 409.1h1.2M365.8 414.5v2.2M376.0 414.5v2.2M386.9 414.5v2.2M404.6 414.5v2.2M422.3 414.5v2.2M392.2 414.5v1.3M395.4 414.5v1.3M397.6 414.5v1.3M399.3 414.5v1.3M400.7 414.5v1.3M401.9 414.5v1.3M402.9 414.5v1.3M403.8 414.5v1.3M410.0 414.5v1.3M413.1 414.5v1.3M415.3 414.5v1.3M417.0 414.5v1.3M418.4 414.5v1.3M419.6 414.5v1.3M420.6 414.5v1.3M421.5 414.5v1.3M367.8 414.5v1.3M369.9 414.5v1.3M371.9 414.5v1.3M374.0 414.5v1.3M378.1 414.5v1.3M380.1 414.5v1.3M382.1 414.5v1.3M384.2 414.5v1.3" stroke="#222" stroke-width="0.7" fill="none"/>
<path d="M386.50,358.30L430.50,358.30L430.50,400.50L411.40,400.50M386.50,358.30L386.50,412.50L411.40,412.50L411.40,400.50" fill="none" stroke="#222" stroke-width="0.9"/>
<line x1="386.50" y1="376.20" x2="411.40" y2="400.50" stroke="#000" stroke-width="1.5"/>
<text x="404.30" y="354.73" font-size="7.2" font-weight="normal" fill="#000" textLength="9.80" lengthAdjust="spacingAndGlyphs">6.2</text>
<text x="412.80" y="412.48" font-size="7.2" font-weight="normal" fill="#000" textLength="13.60" lengthAdjust="spacingAndGlyphs">20.0</text>
<text x="375.70" y="330.20" font-size="9.0" font-weight="normal" fill="#333" textLength="41.40" lengthAdjust="spacingAndGlyphs">Tra 10 nM</text>
<text x="369.00" y="341.90" font-size="9.0" font-weight="normal" fill="#333" textLength="56.00" lengthAdjust="spacingAndGlyphs">+ Tase 10 nM</text>
<path d="M461.6,375.7C462.4,372.5 463.3,372.3 465.2,371.9C467.1,371.5 471.5,371.8 473.0,373.0C474.5,374.3 474.2,374.0 474.5,379.6C474.8,385.1 475.4,401.3 475.0,406.4C474.6,411.5 473.8,409.6 472.2,410.2C470.7,410.8 467.7,410.8 465.9,410.2C464.1,409.6 462.2,409.6 461.3,406.4C460.4,403.2 460.6,396.2 460.6,391.0C460.7,385.9 460.8,378.9 461.6,375.7Z" fill="#000" fill-opacity="0.70" filter="url(#bl2)"/>
<path d="M461.1,376.5C461.6,370.9 463.9,372.5 464.6,373.0C465.3,373.6 465.1,374.1 465.2,379.6C465.4,385.0 465.2,400.6 465.2,405.6C465.2,410.6 465.9,409.3 465.2,409.4C464.6,409.6 462.3,411.9 461.6,406.4C460.9,400.9 460.6,382.0 461.1,376.5Z" fill="#000" fill-opacity="0.40" filter="url(#bl2)"/>
<path d="M472.5,379.6C473.2,375.1 473.0,376.1 477.0,379.7C481.0,383.3 493.8,396.6 496.7,401.2C499.6,405.8 498.1,405.9 494.7,407.2C491.3,408.5 480.2,409.3 476.5,409.2C472.8,409.1 473.2,411.3 472.5,406.4C471.8,401.4 471.8,384.0 472.5,379.6Z" fill="#000" fill-opacity="0.34" filter="url(#bl2)"/>
<path d="M467.1,405.2C471.6,403.7 488.9,399.9 493.7,400.2C498.5,400.5 500.1,405.7 495.7,407.2C491.3,408.7 471.9,409.5 467.1,409.2C462.4,408.9 462.7,406.7 467.1,405.2Z" fill="#000" fill-opacity="0.28" filter="url(#bl2)"/>
<path d="M465.0,384.3C465.4,382.8 465.9,382.7 466.8,382.4C467.8,382.2 469.9,382.4 470.7,383.0C471.5,383.6 471.3,383.5 471.5,386.3C471.6,389.0 471.9,397.1 471.7,399.7C471.5,402.2 471.1,401.3 470.3,401.6C469.6,401.9 468.1,401.9 467.1,401.6C466.2,401.3 465.3,401.3 464.9,399.7C464.4,398.1 464.5,394.6 464.5,392.0C464.5,389.5 464.6,385.9 465.0,384.3Z" fill="#fff" fill-opacity="0.00" filter="url(#bl2)"/>
<path d="M463.6,380.9C464.2,378.7 464.9,378.5 466.2,378.2C467.5,377.9 470.5,378.1 471.6,379.0C472.7,379.9 472.4,379.7 472.7,383.6C472.9,387.5 473.3,398.8 473.0,402.3C472.8,405.9 472.2,404.6 471.1,405.0C470.0,405.5 467.9,405.5 466.6,405.0C465.4,404.6 464.1,404.6 463.4,402.3C462.8,400.1 462.9,395.2 462.9,391.6C463.0,388.0 463.1,383.1 463.6,380.9Z" fill="#000" fill-opacity="0.35" filter="url(#bl2)"/>
<path d="M472.5,374.9C472.9,374.8 476.0,380.2 478.5,381.0C481.0,381.8 484.5,379.8 487.8,379.5C491.0,379.2 495.9,379.1 498.0,379.5C500.1,379.9 500.4,380.6 500.5,382.0C500.6,383.4 498.1,386.7 498.5,388.0C498.9,389.3 503.0,388.4 502.7,389.7C502.4,391.0 499.8,396.0 496.7,395.7C493.6,395.4 487.4,390.0 484.0,387.7C480.6,385.4 477.9,383.8 476.0,381.7C474.1,379.6 472.1,375.0 472.5,374.9Z" fill="#000" fill-opacity="0.02" filter="url(#bl2)"/>
<path d="M464.3 370.9l2.2-.1 3 .5 2.6 .8 1.7 .9 .9 1.2 .8 2.7 .9 1.3 2.3 2.3 3.6 4.4 5 4.7 8.1 8.7 1.4 2 .4 1.7-.7 3.9-1 1.8-1.6 .8-3.6 .6-9.3 .9-5.9 .2-4.6 1.1-3.7 .4-2.9-.3-2.7-2.1-1.6-2.7-.5-3.6-.6-11.9 .7-12.6 .4-2.6 1.1-2.3 1.8-1.9 1.8-.8M464.4 371.9l1.8 0 2.3 .5 3.6 1.6 .7 .9 1.2 3 3.7 3.9 3.1 6 5.5 3.3 3.6 3.3 4.5 4.9 .9 1.3 .4 1.7-.3 3-.9 1.5-1.3 .7-4.3 .8-14.2 1-8.5 1.4-2.3-.4-2.2-1.7-1.4-2.3-.3-2.7-.7-13.2 .6-12.2 .5-2.3 1.1-2 1.4-1.4 1.5-.6M464.5 372.3l2.9 .3 3.4 1.4 1 1.2 1 2.7 3.8 3.6 1 2.3 .8 5.3 2.8 5.3-.3 2.9 .4 1 .7 .1 .4-.4 1-3.6 1.1-1.7 1.1-.2 1.7 .8 2.6 2.1 4.7 5.2 .5 2.7-.3 2-.6 1-1.3 .7-4.3 1-14.2 .9-8.2 1.5-2.3-.4-2-1.7-1.3-2-.4-2.7 0-6.3-.6-6.9 .6-11.9 .3-1.9 .9-2 1.5-1.7 1.6-.6M463.9 372.6l2.6 0 3.8 1.6 .8 1 1.1 3 2.9 2.1 1.2 1.5 .6 1.7 .4 4.6 1.1 5-.1 5.2 .7 1.9 .8 .4 1.5 .2 2.7-.8 1.1-1.3 .9-3.7 .6-.6 1 .1 2 1.4 4.8 5.1 .3 2.6-.3 1.7-.5 .8-1.3 .7-4 .9-14.2 1-8.2 1.4-2.3-.3-1.9-1.6-1.2-1.9-.4-2.7-.1-6.3-.5-6.9 .5-11.9 .3-1.9 .7-1.7 1.2-1.5 1.4-.8M463.6 372.9l2.2-.2 3.6 1.5 1.1 1.4 1.1 3.3 2.8 1.4 1.4 1.5 .4 1.7 .9 8.9 0 5.9 .8 2.7 .8 .5 1.7 .2 3.6-.6 3.1-1.8 1.1-2 .4-.1 1.8 1.5 2.5 1.4 .9 .9 .4 2.3-.6 2.3-1.9 1-3.1 .8-14.5 1.1-8.3 1.4-1.9-.4-1.7-1.3-1.1-1.6-.4-1.7-.8-15.5 .8-12.5 1.2-2.5 1.7-1.5M464.4 372.9l2.1 .4 2.3 1.3 .9 1.3 1.1 4.1 3 .7 1.4 1.5 1.1 9.5 0 6.6 .4 2.3 .6 1 1.4 .7 2.6 .1 7-2 3.3 0 1.2 .6 .6 1 0 1.9-.6 1.4-1.7 1-2.8 .8-14.9 1.2-7.6 1.4-1.9-.4-1.7-1.4-1.1-2-.4-2.3 0-6.3-.6-6.9 .6-11.9 .3-1.9 .8-1.7 1.1-1.3 1.5-.7M463.8 373.3l1.4-.2 1.3 .4 1.6 1.1 .8 1 .5 3.3-.7 4.6 1.1 2.2 .3 .1 .5-.3 .8-3 .6-1 1.4-.3 1.3 1.2 1 8.7 0 7.2 .4 2.3 .6 1.3 1.7 .9 2.6 .1 7.3-1.8 2.9 0 1.1 .5 .4 1-.4 1.7-.7 1-1.6 1-2.1 .5-14.8 1.2-7.6 1.5-1.6-.4-1.5-1.2-1.1-1.6-.4-1.7 0-7.3-.6-8.2 .7-12.2 1.2-2.3 1.6-1.3M470.5 398.3l-.5 .7 .1 .9 .4 .2 .2-1.1-.2-.7M464.1 373.3l1.4 0 1.4 .6 1.2 1 .5 1 .3 3-1 4.6 .6 2 1.6 2.9 .7-.1 .3-.7 1.3-5.4 1-.4 1 .8 .9 8.1 0 7.3 .4 2.6 .7 1.4 1.6 1 2.7 .3 2.3-.3 4.9-1.5 2.7 .1 1 .5 .2 .9-.5 1.6-.8 1-2.6 1-15.1 1.3-7.3 1.5-1.6-.4-1.7-1.4-.8-1.3-.4-1.7 0-7.3-.7-6.2 .6-12.6 .2-1.6 .7-1.7 1.1-1.3 1.2-.6M470.5 395.7l-1 1.3-.5 2 .5 2.6 .3 .6 .7 .2 .9-1.1 .3-2.6-.4-2.3-.5-.7-.3 0M463.5 373.6l1.3-.3 1.8 .6 1.4 1.3 .5 1.4 0 2.3-1.1 4.3 .4 2 1.8 4.6 .5 2.6-.2 2-1.4 4.3 .3 2.4 .7 1.7 .6 .3 1-.3 1-2.2 .2-2.6-.8-4.3 0-3.9 1-6.3 .3-.7 .6-.4 .7 .6 .3 1.1 .7 7-.2 6.9 .5 2.6 .6 1.4 1.7 1.2 3 .4 2.3-.3 4.6-1.4 2.3 .1 .9 .6 .1 .7-.3 1.3-.7 1-2.3 .9-5.3 .2-9.9 1.1-6.9 1.5-1.6-.4-1.6-1.3-.8-1.3-.4-1.7 0-7.3-.7-7.9 .7-12.2 .8-2 1.6-1.6M463.7 373.6l1.1-.2 1.6 .5 1.3 1.3 .5 1.4 0 1.9-1.1 4.7 2.2 8.9 0 2.3-1.2 4.3 .4 2.9 .6 1.6 1 .4 1-.3 .9-1 .5-1.3 .4-3.3-.6-4-.1-4.3 1.2-5.3 .4 .4 .9 5.6-.2 7.9 1.2 4 2 1.5 3 .5 2.3-.2 4-1.4 1.9-.1 .8 .3 .4 1-.3 1.3-.6 .7-1.9 .7-5 0-10.2 1.4-6.6 1.5-1.6-.4-1.7-1.4-.8-1.5-.3-1.6 0-7-.6-8.2 .6-11.9 1.1-2.3 1.5-1.3M463.9 373.6l1.3-.1 1.4 .7 .9 1 .4 1.4 0 1.9-1.1 4.7 2.1 9.2-.1 2-1 4.3 .4 3.3 .6 1.4 1.3 .6 1.3-.5 1-1.2 1.4-3.1 1.8 3.1 2.1 1.5 2.7 .6 2.3 .1 3.9-1.5 1.7-.2 1 .8 0 1-.4 .7-1.9 .7-4.7-.3-6.6 1.5-4.3 .4-6.2 1.5-1.6-.5-1.4-1.4-.7-1.3-.3-1.6 0-7-.7-8.2 .7-11.9 1-2.2 1.7-1.4M473.3 387.8l.5 .1 .4 2.8-.1 2.9-.3 1.1-.4 .1-.6-4.4 .5-2.6M464.3 373.6l2 .6 .9 1 .4 1.4 0 1.6-1 5 1.9 9.2-.1 2-1 3.9 .7 4.8 1 1.1 1.7 .1 1.3-1 1.3-1.8 .7-.2 2.3 2 3.1 2-1.4 1-2.7 .8-4 .3-6.2 1.6-2-.8-1.5-1.9-.5-2.4 .1-6.6-.7-6.9 .6-12.2 .3-1.6 .7-1.5 1-1 1.1-.5M487.2 403.6l.9 .3-.2 1.1-1.3 .4-1.1-.5 .2-.6 1.5-.7M463.9 373.9l.9-.1 1 .5 .9 .9 .4 1.4-1 6.2 1.6 9.6-.9 5.9 .7 5.3 1 1.2 2 .7 2.9-2.5 1-.2 1.8 1.1 1 1.4-.4 .6-1.4 .8-4.6 0-5.6 2-1-.2-1.3-.9-1.3-2.3-.1-8-.8-6.6 .8-13.5 .8-2 1.6-1.3M463.7 374.2l1.1-.1 .8 .5 .9 2-.8 5.9 1.4 9.9-.8 6.3 .6 5.2 .9 2.4-1.6 1.6-1.4 .5-.9-.3-1-.8-1.1-2-.3-3 .2-5-.8-6.6 .7-13.2 .7-1.9 1.4-1.4M473.6 403.9l.8-.1 1 .5 .4 .6-.1 .7-1.3 .7-1.7-.4-.1-1 1-1M463.9 374.6l1.3 .3 .7 1.7-.9 6.2 1.4 9.6-.8 5.6 .6 7.9-.4 1.3-1.3 .7-1.6-1.1-.9-1.9 .1-7.6-.9-6.9 .7-12.9 .6-1.7 1.4-1.2M463.6 375.2l1.1 0 .6 1.4-.1 1.9-.9 4 1.5 9.6-.9 5.9 .6 7.3-.3 1.3-.7 .5-1.3-.6-.8-1.9-.2-2.6 .5-4.3-1.2-7.3 .9-8.2-.1-4.7 .4-1.3 .9-1M463.5 375.9l1 0 .4 1.3-.4 1.9-1 1.5-.6-.8-.3-1.6 .2-1.3 .7-1M463 383.8l.2-.2 .3 .2 .7 1.6 1.1 6-.1 3-1.3 3.1-1.4-2.4-.7-4 .4-5.1 .8-2.2M463.7 398.7l.8 1.4 .5 2.5-.2 2.9-.6 .9-1.1-.8-.5-2.3 .3-2.9 .8-1.7M463.1 386.5l.4 .1 .7 1.5 .6 3.3-.1 2.3-.8 1.5-1-.8-.7-3 .2-3 .7-1.9M463.5 402l.4-.2 .2 .8-.2 1.8-.5-.8 .1-1.6" fill="none" stroke="#000" stroke-opacity="0.55" stroke-width="0.35" stroke-linejoin="round"/>
<path d="M473.8 375.2l1.6 .1 3.3 1.5 1.7 .4 8.5-.8 4.7 0 3.3 .3 2.6 1 1.9 1.8 1.1 2.3 .5 4 1.2 4-.1 1.6-.7 1.7-2.6 2.9-2.6 1.6-3 .1-3.3-1.5-11.9-7.6-6.1-5.4-1.4-2.4-.5-2.3 .4-2.2 1.4-1.1M488.4 379.5l3.2-.1 3.3 .3 2 .7 1.3 1.1 .8 1.7 .5 3.3 1.1 3.6-.4 1.6-1.4 1.7-2.3 .8-2.6-.7-9.9-6.1-3.4-2.9-.9-2 .6-1 8.1-2M489.4 381.2l3.8 .2 1.7 .6 1 .8 .7 1.3 1.3 5.3-.1 1-.6 .9-2 .2-4-1.5-3.7-2.2-2.5-2.3-.5-1.4 .5-.9 2.2-1.4 2.2-.6M490 383.8l1.2 .1 .9 .6 .5 1.3-.4 .9-1.5 .1-1.5-1-.3-1 1.1-1" fill="none" stroke="#000" stroke-opacity="0.5" stroke-width="0.35" stroke-linejoin="round"/>
<circle cx="505.8" cy="399.3" r="0.4" fill="#555"/><circle cx="511.7" cy="398.7" r="0.4" fill="#555"/><circle cx="507.7" cy="396.0" r="0.4" fill="#555"/><circle cx="478.4" cy="370.9" r="0.4" fill="#555"/><circle cx="464.5" cy="365.0" r="0.4" fill="#555"/><circle cx="498.5" cy="406.9" r="0.4" fill="#555"/><circle cx="507.7" cy="381.5" r="0.4" fill="#555"/><circle cx="497.5" cy="357.7" r="0.4" fill="#555"/><circle cx="498.5" cy="403.0" r="0.4" fill="#555"/><circle cx="487.3" cy="411.9" r="0.4" fill="#555"/><circle cx="514.3" cy="371.3" r="0.4" fill="#555"/><circle cx="501.8" cy="396.4" r="0.4" fill="#555"/><circle cx="498.5" cy="365.0" r="0.4" fill="#555"/><circle cx="516.7" cy="374.6" r="0.4" fill="#555"/><circle cx="517.3" cy="396.4" r="0.4" fill="#555"/><circle cx="483.3" cy="374.2" r="0.4" fill="#555"/><circle cx="494.5" cy="376.2" r="0.4" fill="#555"/><circle cx="483.3" cy="366.7" r="0.4" fill="#555"/><circle cx="502.5" cy="396.4" r="0.4" fill="#555"/><circle cx="490.9" cy="375.9" r="0.4" fill="#555"/><circle cx="478.7" cy="370.6" r="0.4" fill="#555"/><circle cx="515.7" cy="393.4" r="0.4" fill="#555"/><circle cx="489.9" cy="411.2" r="0.4" fill="#555"/><circle cx="481.7" cy="376.9" r="0.4" fill="#555"/><circle cx="505.4" cy="390.4" r="0.4" fill="#555"/><circle cx="485.6" cy="412.9" r="0.4" fill="#555"/><circle cx="491.6" cy="361.7" r="0.4" fill="#555"/><circle cx="505.8" cy="380.5" r="0.4" fill="#555"/><circle cx="496.9" cy="409.9" r="0.4" fill="#555"/><circle cx="484.3" cy="366.7" r="0.4" fill="#555"/><circle cx="482.0" cy="370.0" r="0.4" fill="#555"/><circle cx="510.1" cy="377.2" r="0.4" fill="#555"/><circle cx="509.4" cy="389.1" r="0.4" fill="#555"/><circle cx="501.5" cy="377.5" r="0.4" fill="#555"/><circle cx="502.5" cy="377.2" r="0.4" fill="#555"/><circle cx="489.3" cy="363.4" r="0.4" fill="#555"/><circle cx="511.4" cy="390.4" r="0.4" fill="#555"/><circle cx="488.9" cy="372.3" r="0.4" fill="#555"/><circle cx="487.9" cy="364.7" r="0.4" fill="#555"/><circle cx="506.8" cy="408.6" r="0.4" fill="#555"/><circle cx="503.5" cy="384.8" r="0.4" fill="#555"/><circle cx="477.7" cy="375.2" r="0.4" fill="#555"/><circle cx="504.4" cy="390.1" r="0.4" fill="#555"/><circle cx="487.0" cy="375.6" r="0.4" fill="#555"/><circle cx="479.0" cy="367.0" r="0.4" fill="#555"/><circle cx="507.7" cy="380.8" r="0.4" fill="#555"/><circle cx="509.7" cy="391.1" r="0.4" fill="#555"/><circle cx="515.0" cy="390.7" r="0.4" fill="#555"/><circle cx="499.5" cy="377.5" r="0.4" fill="#555"/><circle cx="504.1" cy="404.6" r="0.4" fill="#555"/><circle cx="510.1" cy="406.6" r="0.4" fill="#555"/><circle cx="505.4" cy="400.0" r="0.4" fill="#555"/><circle cx="503.8" cy="373.3" r="0.4" fill="#555"/><circle cx="494.2" cy="370.9" r="0.4" fill="#555"/><circle cx="486.0" cy="376.6" r="0.4" fill="#555"/><circle cx="517.6" cy="384.1" r="0.4" fill="#555"/><circle cx="510.4" cy="368.0" r="0.4" fill="#555"/><circle cx="504.8" cy="377.9" r="0.4" fill="#555"/><circle cx="477.7" cy="374.9" r="0.4" fill="#555"/><circle cx="480.0" cy="357.7" r="0.4" fill="#555"/><circle cx="502.8" cy="374.2" r="0.4" fill="#555"/><circle cx="496.2" cy="373.9" r="0.4" fill="#555"/><circle cx="490.3" cy="409.6" r="0.4" fill="#555"/><circle cx="473.8" cy="363.7" r="0.4" fill="#555"/><circle cx="504.4" cy="404.6" r="0.4" fill="#555"/><circle cx="504.1" cy="402.6" r="0.4" fill="#555"/><circle cx="507.7" cy="380.5" r="0.4" fill="#555"/><circle cx="484.6" cy="369.0" r="0.4" fill="#555"/><circle cx="505.1" cy="394.7" r="0.4" fill="#555"/><circle cx="468.1" cy="368.3" r="0.4" fill="#555"/><circle cx="488.6" cy="372.3" r="0.4" fill="#555"/><circle cx="507.4" cy="385.1" r="0.4" fill="#555"/><circle cx="483.7" cy="374.6" r="0.4" fill="#555"/><circle cx="487.3" cy="375.2" r="0.4" fill="#555"/><circle cx="481.0" cy="371.9" r="0.4" fill="#555"/><circle cx="486.0" cy="362.4" r="0.4" fill="#555"/><circle cx="480.4" cy="373.3" r="0.4" fill="#555"/><circle cx="509.4" cy="397.0" r="0.4" fill="#555"/><circle cx="503.5" cy="397.3" r="0.4" fill="#555"/><circle cx="491.2" cy="365.0" r="0.4" fill="#555"/><circle cx="502.1" cy="377.5" r="0.4" fill="#555"/><circle cx="496.9" cy="372.9" r="0.4" fill="#555"/><circle cx="494.5" cy="373.9" r="0.4" fill="#555"/><circle cx="490.3" cy="412.2" r="0.4" fill="#555"/><circle cx="502.8" cy="396.0" r="0.4" fill="#555"/><circle cx="511.7" cy="375.9" r="0.4" fill="#555"/><circle cx="515.3" cy="375.9" r="0.4" fill="#555"/><circle cx="514.7" cy="403.3" r="0.4" fill="#555"/><circle cx="478.4" cy="373.6" r="0.4" fill="#555"/><circle cx="504.1" cy="394.0" r="0.4" fill="#555"/><circle cx="506.4" cy="389.8" r="0.4" fill="#555"/><circle cx="505.8" cy="390.4" r="0.4" fill="#555"/><circle cx="477.4" cy="375.2" r="0.4" fill="#555"/><circle cx="506.4" cy="386.5" r="0.4" fill="#555"/><circle cx="507.7" cy="397.7" r="0.4" fill="#555"/><circle cx="495.5" cy="371.6" r="0.4" fill="#555"/><circle cx="510.1" cy="392.4" r="0.4" fill="#555"/><circle cx="493.6" cy="375.6" r="0.4" fill="#555"/><circle cx="504.4" cy="376.6" r="0.4" fill="#555"/><circle cx="493.9" cy="375.2" r="0.4" fill="#555"/><circle cx="477.7" cy="373.6" r="0.4" fill="#555"/><circle cx="515.3" cy="391.4" r="0.4" fill="#555"/><circle cx="481.0" cy="373.9" r="0.4" fill="#555"/><circle cx="503.1" cy="368.6" r="0.4" fill="#555"/><circle cx="507.7" cy="394.4" r="0.4" fill="#555"/><circle cx="495.9" cy="373.9" r="0.4" fill="#555"/><circle cx="503.8" cy="379.2" r="0.4" fill="#555"/><circle cx="490.9" cy="411.5" r="0.4" fill="#555"/><circle cx="509.1" cy="383.8" r="0.4" fill="#555"/><circle cx="509.7" cy="376.2" r="0.4" fill="#555"/><circle cx="500.8" cy="371.3" r="0.4" fill="#555"/><circle cx="508.1" cy="388.1" r="0.4" fill="#555"/><circle cx="505.4" cy="408.9" r="0.4" fill="#555"/><circle cx="506.4" cy="388.1" r="0.4" fill="#555"/><circle cx="506.1" cy="393.1" r="0.4" fill="#555"/><circle cx="483.3" cy="372.3" r="0.4" fill="#555"/><circle cx="506.8" cy="371.9" r="0.4" fill="#555"/><circle cx="508.7" cy="372.9" r="0.4" fill="#555"/><circle cx="488.6" cy="375.6" r="0.4" fill="#555"/><circle cx="506.4" cy="401.3" r="0.4" fill="#555"/>
<rect x="449.50" y="345.70" width="68.80" height="68.30" fill="none" stroke="#333" stroke-width="0.8"/>
<path d="M447.3 352.5h2.2M447.3 369.6h2.2M447.3 388.7h2.2M447.3 400.3h2.2M447.3 411.3h2.2M448.3 364.5h1.2M448.3 361.5h1.2M448.3 359.3h1.2M448.3 357.7h1.2M448.3 356.3h1.2M448.3 355.2h1.2M448.3 354.2h1.2M448.3 353.3h1.2M448.3 383.0h1.2M448.3 379.6h1.2M448.3 377.2h1.2M448.3 375.4h1.2M448.3 373.8h1.2M448.3 372.6h1.2M448.3 371.5h1.2M448.3 370.5h1.2M448.3 392.1h1.2M448.3 394.9h1.2M448.3 397.6h1.2M448.3 403.1h1.2M448.3 405.8h1.2M448.3 408.5h1.2M452.9 414.0v2.2M463.3 414.0v2.2M474.3 414.0v2.2M492.2 414.0v2.2M510.0 414.0v2.2M479.7 414.0v1.3M482.8 414.0v1.3M485.0 414.0v1.3M486.8 414.0v1.3M488.2 414.0v1.3M489.4 414.0v1.3M490.4 414.0v1.3M491.3 414.0v1.3M497.5 414.0v1.3M500.7 414.0v1.3M502.9 414.0v1.3M504.7 414.0v1.3M506.1 414.0v1.3M507.3 414.0v1.3M508.3 414.0v1.3M509.2 414.0v1.3M455.0 414.0v1.3M457.1 414.0v1.3M459.1 414.0v1.3M461.2 414.0v1.3M465.3 414.0v1.3M467.4 414.0v1.3M469.5 414.0v1.3M471.5 414.0v1.3" stroke="#222" stroke-width="0.7" fill="none"/>
<path d="M474.00,356.40L518.30,356.40L518.30,399.70L499.70,399.70M474.00,356.40L474.00,412.20L499.70,412.20L499.70,399.70" fill="none" stroke="#222" stroke-width="0.9"/>
<line x1="474.00" y1="375.70" x2="499.70" y2="399.70" stroke="#000" stroke-width="1.5"/>
<text x="494.40" y="354.08" font-size="7.2" font-weight="normal" fill="#000" textLength="9.00" lengthAdjust="spacingAndGlyphs">4.1</text>
<text x="500.90" y="410.08" font-size="7.2" font-weight="normal" fill="#000" textLength="13.20" lengthAdjust="spacingAndGlyphs">14.8</text>
<text x="461.00" y="330.00" font-size="9.0" font-weight="normal" fill="#333" textLength="46.40" lengthAdjust="spacingAndGlyphs">Tra 100 nM</text>
<text x="453.80" y="341.90" font-size="9.0" font-weight="normal" fill="#333" textLength="61.40" lengthAdjust="spacingAndGlyphs">+ Tase 100 nM</text>
<line x1="258.50" y1="378.00" x2="258.50" y2="425.50" stroke="#111" stroke-width="1.1"/>
<line x1="257.95" y1="425.00" x2="313.50" y2="425.00" stroke="#111" stroke-width="1.1"/>
<path d="M258.5,374.6 L256.2,380.2 L260.8,380.2 Z" fill="#111"/>
<path d="M316.8,425 L311.2,422.7 L311.2,427.3 Z" fill="#111"/>
<text x="246.30" y="370.90" font-size="9.6" font-weight="normal" fill="#111" textLength="25.00" lengthAdjust="spacingAndGlyphs">CD69</text>
<text x="320.20" y="428.60" font-size="9.6" font-weight="normal" fill="#111" textLength="25.00" lengthAdjust="spacingAndGlyphs">CD23</text>
</svg>
</body></html>
